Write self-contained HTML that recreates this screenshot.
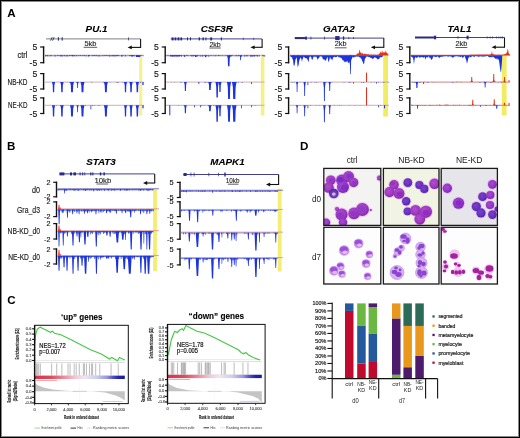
<!DOCTYPE html>
<html><head><meta charset="utf-8"><style>
html,body{margin:0;padding:0;background:#fff;}
svg{display:block;will-change:transform;}
text{font-family:"Liberation Sans", sans-serif;}
</style></head><body>
<svg width="520" height="438" viewBox="0 0 520 438" font-family="Liberation Sans, sans-serif">
<rect x="0" y="0" width="520" height="438" fill="#fff"/>
<text x="7.3" y="17.2" font-size="11.6" text-anchor="start" font-weight="bold" font-style="normal" fill="#000" >A</text>
<text x="96.5" y="31.8" font-size="9.8" text-anchor="middle" font-weight="bold" font-style="italic" fill="#000" stroke="#000" stroke-width="0.1" >PU.1</text>
<text x="216.8" y="31.8" font-size="9.8" text-anchor="middle" font-weight="bold" font-style="italic" fill="#000" stroke="#000" stroke-width="0.1" >CSF3R</text>
<text x="338.8" y="31.8" font-size="9.8" text-anchor="middle" font-weight="bold" font-style="italic" fill="#000" stroke="#000" stroke-width="0.1" >GATA2</text>
<text x="459.5" y="31.8" font-size="9.8" text-anchor="middle" font-weight="bold" font-style="italic" fill="#000" stroke="#000" stroke-width="0.1" >TAL1</text>
<text x="27.5" y="58.2" font-size="8.6" text-anchor="end" font-weight="normal" font-style="normal" fill="#1a1a1a" stroke="#1a1a1a" stroke-width="0.15" textLength="10" lengthAdjust="spacingAndGlyphs" >ctrl</text>
<text x="27.5" y="85.1" font-size="8.6" text-anchor="end" font-weight="normal" font-style="normal" fill="#1a1a1a" stroke="#1a1a1a" stroke-width="0.15" textLength="20" lengthAdjust="spacingAndGlyphs" >NB-KD</text>
<text x="27.5" y="108.3" font-size="8.6" text-anchor="end" font-weight="normal" font-style="normal" fill="#1a1a1a" stroke="#1a1a1a" stroke-width="0.15" textLength="19.5" lengthAdjust="spacingAndGlyphs" >NE-KD</text>
<line x1="43.60" y1="46.40" x2="43.60" y2="63.30" stroke="#111" stroke-width="1.4" />
<line x1="40.10" y1="47.00" x2="44.20" y2="47.00" stroke="#111" stroke-width="1.2" />
<line x1="40.10" y1="62.70" x2="44.20" y2="62.70" stroke="#111" stroke-width="1.2" />
<text x="37.2" y="50.096" font-size="8.6" text-anchor="end" font-weight="normal" font-style="normal" fill="#1a1a1a" stroke="#1a1a1a" stroke-width="0.15" >5</text>
<text x="37.2" y="65.796" font-size="8.6" text-anchor="end" font-weight="normal" font-style="normal" fill="#1a1a1a" stroke="#1a1a1a" stroke-width="0.15" >-5</text>
<line x1="43.60" y1="73.00" x2="43.60" y2="89.60" stroke="#111" stroke-width="1.4" />
<line x1="40.10" y1="73.60" x2="44.20" y2="73.60" stroke="#111" stroke-width="1.2" />
<line x1="40.10" y1="89.00" x2="44.20" y2="89.00" stroke="#111" stroke-width="1.2" />
<text x="37.2" y="76.696" font-size="8.6" text-anchor="end" font-weight="normal" font-style="normal" fill="#1a1a1a" stroke="#1a1a1a" stroke-width="0.15" >5</text>
<text x="37.2" y="92.096" font-size="8.6" text-anchor="end" font-weight="normal" font-style="normal" fill="#1a1a1a" stroke="#1a1a1a" stroke-width="0.15" >-5</text>
<line x1="43.60" y1="97.30" x2="43.60" y2="114.10" stroke="#111" stroke-width="1.4" />
<line x1="40.10" y1="97.90" x2="44.20" y2="97.90" stroke="#111" stroke-width="1.2" />
<line x1="40.10" y1="113.50" x2="44.20" y2="113.50" stroke="#111" stroke-width="1.2" />
<text x="37.2" y="100.99600000000001" font-size="8.6" text-anchor="end" font-weight="normal" font-style="normal" fill="#1a1a1a" stroke="#1a1a1a" stroke-width="0.15" >5</text>
<text x="37.2" y="116.596" font-size="8.6" text-anchor="end" font-weight="normal" font-style="normal" fill="#1a1a1a" stroke="#1a1a1a" stroke-width="0.15" >-5</text>
<line x1="165.20" y1="46.40" x2="165.20" y2="63.30" stroke="#111" stroke-width="1.4" />
<line x1="161.70" y1="47.00" x2="165.80" y2="47.00" stroke="#111" stroke-width="1.2" />
<line x1="161.70" y1="62.70" x2="165.80" y2="62.70" stroke="#111" stroke-width="1.2" />
<text x="158.79999999999998" y="50.096" font-size="8.6" text-anchor="end" font-weight="normal" font-style="normal" fill="#1a1a1a" stroke="#1a1a1a" stroke-width="0.15" >5</text>
<text x="158.79999999999998" y="65.796" font-size="8.6" text-anchor="end" font-weight="normal" font-style="normal" fill="#1a1a1a" stroke="#1a1a1a" stroke-width="0.15" >-5</text>
<line x1="165.20" y1="73.00" x2="165.20" y2="89.60" stroke="#111" stroke-width="1.4" />
<line x1="161.70" y1="73.60" x2="165.80" y2="73.60" stroke="#111" stroke-width="1.2" />
<line x1="161.70" y1="89.00" x2="165.80" y2="89.00" stroke="#111" stroke-width="1.2" />
<text x="158.79999999999998" y="76.696" font-size="8.6" text-anchor="end" font-weight="normal" font-style="normal" fill="#1a1a1a" stroke="#1a1a1a" stroke-width="0.15" >5</text>
<text x="158.79999999999998" y="92.096" font-size="8.6" text-anchor="end" font-weight="normal" font-style="normal" fill="#1a1a1a" stroke="#1a1a1a" stroke-width="0.15" >-5</text>
<line x1="165.20" y1="97.30" x2="165.20" y2="114.10" stroke="#111" stroke-width="1.4" />
<line x1="161.70" y1="97.90" x2="165.80" y2="97.90" stroke="#111" stroke-width="1.2" />
<line x1="161.70" y1="113.50" x2="165.80" y2="113.50" stroke="#111" stroke-width="1.2" />
<text x="158.79999999999998" y="100.99600000000001" font-size="8.6" text-anchor="end" font-weight="normal" font-style="normal" fill="#1a1a1a" stroke="#1a1a1a" stroke-width="0.15" >5</text>
<text x="158.79999999999998" y="116.596" font-size="8.6" text-anchor="end" font-weight="normal" font-style="normal" fill="#1a1a1a" stroke="#1a1a1a" stroke-width="0.15" >-5</text>
<line x1="288.60" y1="46.40" x2="288.60" y2="63.30" stroke="#111" stroke-width="1.4" />
<line x1="285.10" y1="47.00" x2="289.20" y2="47.00" stroke="#111" stroke-width="1.2" />
<line x1="285.10" y1="62.70" x2="289.20" y2="62.70" stroke="#111" stroke-width="1.2" />
<text x="282.20000000000005" y="50.096" font-size="8.6" text-anchor="end" font-weight="normal" font-style="normal" fill="#1a1a1a" stroke="#1a1a1a" stroke-width="0.15" >5</text>
<text x="282.20000000000005" y="65.796" font-size="8.6" text-anchor="end" font-weight="normal" font-style="normal" fill="#1a1a1a" stroke="#1a1a1a" stroke-width="0.15" >-5</text>
<line x1="288.60" y1="73.00" x2="288.60" y2="89.60" stroke="#111" stroke-width="1.4" />
<line x1="285.10" y1="73.60" x2="289.20" y2="73.60" stroke="#111" stroke-width="1.2" />
<line x1="285.10" y1="89.00" x2="289.20" y2="89.00" stroke="#111" stroke-width="1.2" />
<text x="282.20000000000005" y="76.696" font-size="8.6" text-anchor="end" font-weight="normal" font-style="normal" fill="#1a1a1a" stroke="#1a1a1a" stroke-width="0.15" >5</text>
<text x="282.20000000000005" y="92.096" font-size="8.6" text-anchor="end" font-weight="normal" font-style="normal" fill="#1a1a1a" stroke="#1a1a1a" stroke-width="0.15" >-5</text>
<line x1="288.60" y1="97.30" x2="288.60" y2="114.10" stroke="#111" stroke-width="1.4" />
<line x1="285.10" y1="97.90" x2="289.20" y2="97.90" stroke="#111" stroke-width="1.2" />
<line x1="285.10" y1="113.50" x2="289.20" y2="113.50" stroke="#111" stroke-width="1.2" />
<text x="282.20000000000005" y="100.99600000000001" font-size="8.6" text-anchor="end" font-weight="normal" font-style="normal" fill="#1a1a1a" stroke="#1a1a1a" stroke-width="0.15" >5</text>
<text x="282.20000000000005" y="116.596" font-size="8.6" text-anchor="end" font-weight="normal" font-style="normal" fill="#1a1a1a" stroke="#1a1a1a" stroke-width="0.15" >-5</text>
<line x1="409.80" y1="46.40" x2="409.80" y2="63.30" stroke="#111" stroke-width="1.4" />
<line x1="406.30" y1="47.00" x2="410.40" y2="47.00" stroke="#111" stroke-width="1.2" />
<line x1="406.30" y1="62.70" x2="410.40" y2="62.70" stroke="#111" stroke-width="1.2" />
<text x="403.40000000000003" y="50.096" font-size="8.6" text-anchor="end" font-weight="normal" font-style="normal" fill="#1a1a1a" stroke="#1a1a1a" stroke-width="0.15" >5</text>
<text x="403.40000000000003" y="65.796" font-size="8.6" text-anchor="end" font-weight="normal" font-style="normal" fill="#1a1a1a" stroke="#1a1a1a" stroke-width="0.15" >-5</text>
<line x1="409.80" y1="73.00" x2="409.80" y2="89.60" stroke="#111" stroke-width="1.4" />
<line x1="406.30" y1="73.60" x2="410.40" y2="73.60" stroke="#111" stroke-width="1.2" />
<line x1="406.30" y1="89.00" x2="410.40" y2="89.00" stroke="#111" stroke-width="1.2" />
<text x="403.40000000000003" y="76.696" font-size="8.6" text-anchor="end" font-weight="normal" font-style="normal" fill="#1a1a1a" stroke="#1a1a1a" stroke-width="0.15" >5</text>
<text x="403.40000000000003" y="92.096" font-size="8.6" text-anchor="end" font-weight="normal" font-style="normal" fill="#1a1a1a" stroke="#1a1a1a" stroke-width="0.15" >-5</text>
<line x1="409.80" y1="97.30" x2="409.80" y2="114.10" stroke="#111" stroke-width="1.4" />
<line x1="406.30" y1="97.90" x2="410.40" y2="97.90" stroke="#111" stroke-width="1.2" />
<line x1="406.30" y1="113.50" x2="410.40" y2="113.50" stroke="#111" stroke-width="1.2" />
<text x="403.40000000000003" y="100.99600000000001" font-size="8.6" text-anchor="end" font-weight="normal" font-style="normal" fill="#1a1a1a" stroke="#1a1a1a" stroke-width="0.15" >5</text>
<text x="403.40000000000003" y="116.596" font-size="8.6" text-anchor="end" font-weight="normal" font-style="normal" fill="#1a1a1a" stroke="#1a1a1a" stroke-width="0.15" >-5</text>
<rect x="139.20" y="55.00" width="3.10" height="60.50" fill="#f6f292" />
<rect x="260.80" y="55.00" width="3.60" height="60.50" fill="#f4f08a" />
<rect x="383.20" y="55.00" width="4.80" height="61.50" fill="#f2ec62" />
<rect x="501.80" y="55.00" width="4.80" height="60.50" fill="#f2ec62" />
<line x1="46.00" y1="38.90" x2="140.60" y2="38.90" stroke="#70707e" stroke-width="0.9" />
<rect x="57.90" y="37.20" width="1.00" height="3.40" fill="#22226a" />
<rect x="61.70" y="37.20" width="1.00" height="3.40" fill="#22226a" />
<rect x="128.20" y="37.40" width="0.70" height="3.00" fill="#22226a" />
<line x1="140.60" y1="38.90" x2="140.60" y2="47.40" stroke="#111" stroke-width="1.1" />
<line x1="141.10" y1="47.40" x2="130.60" y2="47.40" stroke="#111" stroke-width="1.1" />
<polygon points="127.60,47.40 131.80,45.50 131.80,49.30" fill="#111"/>
<text x="90.4" y="45.9" font-size="7.2" text-anchor="middle" font-weight="normal" font-style="normal" fill="#222" stroke="#222" stroke-width="0.12" textLength="12.0" lengthAdjust="spacingAndGlyphs" >5kb</text>
<line x1="83.60" y1="47.30" x2="97.20" y2="47.30" stroke="#333" stroke-width="0.8" />
<path d="M50.6,40.6 L52.2,37.2 M52.6,40.6 L54.2,37.2" stroke="#22226a" stroke-width="0.9"/>
<line x1="170.80" y1="38.90" x2="262.10" y2="38.90" stroke="#2a2a88" stroke-width="0.9" />
<rect x="171.60" y="37.40" width="2.00" height="3.00" fill="#2a2a88" />
<rect x="174.60" y="37.40" width="1.70" height="3.00" fill="#2a2a88" />
<rect x="177.50" y="37.40" width="1.90" height="3.00" fill="#2a2a88" />
<rect x="180.40" y="37.40" width="1.70" height="3.00" fill="#2a2a88" />
<rect x="187.00" y="37.40" width="1.00" height="3.00" fill="#2a2a88" />
<rect x="190.00" y="37.40" width="1.00" height="3.00" fill="#2a2a88" />
<rect x="198.70" y="37.40" width="1.30" height="3.00" fill="#2a2a88" />
<rect x="202.50" y="37.40" width="1.30" height="3.00" fill="#2a2a88" />
<rect x="205.40" y="37.40" width="1.00" height="3.00" fill="#2a2a88" />
<rect x="210.20" y="37.40" width="1.90" height="3.00" fill="#2a2a88" />
<rect x="220.80" y="37.40" width="1.10" height="3.00" fill="#2a2a88" />
<rect x="242.90" y="37.65" width="0.60" height="2.50" fill="#2a2a88" />
<rect x="253.50" y="37.65" width="0.60" height="2.50" fill="#2a2a88" />
<line x1="262.10" y1="38.90" x2="262.10" y2="47.30" stroke="#111" stroke-width="1.1" />
<line x1="262.60" y1="47.30" x2="253.40" y2="47.30" stroke="#111" stroke-width="1.1" />
<polygon points="250.40,47.30 254.60,45.40 254.60,49.20" fill="#111"/>
<text x="215.10000000000002" y="46.6" font-size="7.2" text-anchor="middle" font-weight="normal" font-style="normal" fill="#222" stroke="#222" stroke-width="0.12" textLength="11.400000000000006" lengthAdjust="spacingAndGlyphs" >2kb</text>
<line x1="209.40" y1="48.00" x2="220.80" y2="48.00" stroke="#333" stroke-width="0.8" />
<line x1="294.80" y1="38.10" x2="383.80" y2="38.10" stroke="#2a2a88" stroke-width="0.9" />
<line x1="294.80" y1="38.10" x2="305.40" y2="38.10" stroke="#2a2a88" stroke-width="2.0" />
<rect x="305.20" y="36.50" width="1.70" height="3.20" fill="#2a2a88" />
<rect x="310.60" y="36.60" width="0.70" height="3.00" fill="#2a2a88" />
<rect x="324.00" y="36.60" width="0.70" height="3.00" fill="#2a2a88" />
<rect x="335.20" y="36.10" width="4.40" height="4.00" fill="#2a2a88" />
<rect x="342.90" y="36.35" width="1.30" height="3.50" fill="#2a2a88" />
<rect x="348.50" y="37.10" width="0.70" height="2.00" fill="#2a2a88" />
<rect x="353.00" y="37.10" width="0.70" height="2.00" fill="#2a2a88" />
<line x1="383.80" y1="38.10" x2="383.80" y2="47.30" stroke="#111" stroke-width="1.1" />
<line x1="384.30" y1="47.30" x2="373.80" y2="47.30" stroke="#111" stroke-width="1.1" />
<polygon points="370.80,47.30 375.00,45.40 375.00,49.20" fill="#111"/>
<text x="340.70000000000005" y="46.4" font-size="7.2" text-anchor="middle" font-weight="normal" font-style="normal" fill="#222" stroke="#222" stroke-width="0.12" textLength="11.800000000000011" lengthAdjust="spacingAndGlyphs" >2kb</text>
<line x1="334.80" y1="47.80" x2="346.60" y2="47.80" stroke="#333" stroke-width="0.8" />
<line x1="415.00" y1="37.50" x2="504.50" y2="37.50" stroke="#2a2a88" stroke-width="0.9" />
<line x1="415.00" y1="37.50" x2="434.20" y2="37.50" stroke="#2a2a88" stroke-width="2.0" />
<rect x="434.00" y="35.70" width="2.20" height="3.60" fill="#2a2a88" />
<rect x="457.70" y="36.00" width="0.60" height="3.00" fill="#2a2a88" />
<rect x="466.60" y="35.70" width="2.00" height="3.60" fill="#2a2a88" />
<rect x="486.80" y="36.50" width="0.70" height="2.00" fill="#2a2a88" />
<rect x="489.80" y="36.50" width="0.70" height="2.00" fill="#2a2a88" />
<rect x="492.40" y="36.50" width="0.70" height="2.00" fill="#2a2a88" />
<rect x="496.40" y="36.50" width="0.70" height="2.00" fill="#2a2a88" />
<rect x="498.50" y="36.50" width="0.70" height="2.00" fill="#2a2a88" />
<rect x="500.60" y="36.50" width="0.70" height="2.00" fill="#2a2a88" />
<rect x="502.30" y="36.50" width="0.70" height="2.00" fill="#2a2a88" />
<line x1="504.50" y1="37.50" x2="504.50" y2="47.20" stroke="#111" stroke-width="1.1" />
<line x1="505.00" y1="47.20" x2="494.60" y2="47.20" stroke="#111" stroke-width="1.1" />
<polygon points="491.60,47.20 495.80,45.30 495.80,49.10" fill="#111"/>
<text x="461.4" y="46.1" font-size="7.2" text-anchor="middle" font-weight="normal" font-style="normal" fill="#222" stroke="#222" stroke-width="0.12" textLength="11.800000000000011" lengthAdjust="spacingAndGlyphs" >2kb</text>
<line x1="455.50" y1="47.50" x2="467.30" y2="47.50" stroke="#333" stroke-width="0.8" />
<rect x="45.00" y="55.20" width="95.00" height="1.00" fill="#1d33dc" opacity="0.8"/>
<line x1="45.00" y1="55.20" x2="143.50" y2="55.20" stroke="#c9a6a6" stroke-width="0.9" />
<rect x="45.00" y="55.20" width="0.80" height="1.19" fill="#1d33dc" />
<rect x="45.80" y="55.20" width="0.80" height="0.36" fill="#1d33dc" />
<rect x="46.60" y="55.20" width="0.80" height="0.63" fill="#1d33dc" />
<rect x="47.40" y="55.20" width="0.80" height="1.10" fill="#1d33dc" />
<rect x="49.80" y="55.20" width="0.80" height="1.07" fill="#1d33dc" />
<rect x="50.60" y="55.20" width="0.80" height="0.62" fill="#1d33dc" />
<rect x="51.40" y="55.20" width="0.80" height="0.32" fill="#1d33dc" />
<rect x="54.60" y="55.20" width="0.80" height="1.31" fill="#1d33dc" />
<rect x="55.40" y="55.20" width="0.80" height="0.30" fill="#1d33dc" />
<rect x="57.00" y="55.20" width="0.80" height="0.61" fill="#1d33dc" />
<rect x="57.80" y="55.20" width="0.80" height="0.33" fill="#1d33dc" />
<rect x="58.60" y="55.20" width="0.80" height="0.31" fill="#1d33dc" />
<rect x="59.40" y="55.20" width="0.80" height="0.41" fill="#1d33dc" />
<rect x="60.20" y="55.20" width="0.80" height="1.17" fill="#1d33dc" />
<rect x="61.00" y="55.20" width="0.80" height="0.90" fill="#1d33dc" />
<rect x="61.80" y="55.20" width="0.80" height="1.39" fill="#1d33dc" />
<rect x="63.40" y="55.20" width="0.80" height="0.47" fill="#1d33dc" />
<rect x="64.20" y="55.20" width="0.80" height="1.00" fill="#1d33dc" />
<rect x="65.80" y="55.20" width="0.80" height="1.16" fill="#1d33dc" />
<rect x="66.60" y="55.20" width="0.80" height="0.42" fill="#1d33dc" />
<rect x="67.40" y="55.20" width="0.80" height="1.24" fill="#1d33dc" />
<rect x="69.00" y="55.20" width="0.80" height="0.82" fill="#1d33dc" />
<rect x="69.80" y="55.20" width="0.80" height="0.34" fill="#1d33dc" />
<rect x="70.60" y="55.20" width="0.80" height="0.58" fill="#1d33dc" />
<rect x="71.40" y="55.20" width="0.80" height="0.77" fill="#1d33dc" />
<rect x="72.20" y="55.20" width="0.80" height="0.94" fill="#1d33dc" />
<rect x="73.00" y="55.20" width="0.80" height="0.61" fill="#1d33dc" />
<rect x="73.80" y="55.20" width="0.80" height="1.09" fill="#1d33dc" />
<rect x="74.60" y="55.20" width="0.80" height="0.55" fill="#1d33dc" />
<rect x="76.20" y="55.20" width="0.80" height="0.98" fill="#1d33dc" />
<rect x="77.80" y="55.20" width="0.80" height="0.55" fill="#1d33dc" />
<rect x="78.60" y="55.20" width="0.80" height="0.70" fill="#1d33dc" />
<rect x="80.20" y="55.20" width="0.80" height="0.76" fill="#1d33dc" />
<rect x="81.80" y="55.20" width="0.80" height="0.72" fill="#1d33dc" />
<rect x="83.40" y="55.20" width="0.80" height="0.64" fill="#1d33dc" />
<rect x="84.20" y="55.20" width="0.80" height="0.77" fill="#1d33dc" />
<rect x="85.80" y="55.20" width="0.80" height="1.10" fill="#1d33dc" />
<rect x="88.20" y="55.20" width="0.80" height="1.13" fill="#1d33dc" />
<rect x="89.00" y="55.20" width="0.80" height="0.79" fill="#1d33dc" />
<rect x="91.40" y="55.20" width="0.80" height="0.28" fill="#1d33dc" />
<rect x="92.20" y="55.20" width="0.80" height="0.68" fill="#1d33dc" />
<rect x="93.00" y="55.20" width="0.80" height="0.48" fill="#1d33dc" />
<rect x="93.80" y="55.20" width="0.80" height="0.87" fill="#1d33dc" />
<rect x="94.60" y="55.20" width="0.80" height="0.64" fill="#1d33dc" />
<rect x="95.40" y="55.20" width="0.80" height="0.32" fill="#1d33dc" />
<rect x="96.20" y="55.20" width="0.80" height="0.82" fill="#1d33dc" />
<rect x="97.80" y="55.20" width="0.80" height="1.12" fill="#1d33dc" />
<rect x="99.40" y="55.20" width="0.80" height="1.18" fill="#1d33dc" />
<rect x="101.80" y="55.20" width="0.80" height="0.35" fill="#1d33dc" />
<rect x="102.60" y="55.20" width="0.80" height="0.87" fill="#1d33dc" />
<rect x="104.20" y="55.20" width="0.80" height="0.74" fill="#1d33dc" />
<rect x="105.00" y="55.20" width="0.80" height="0.38" fill="#1d33dc" />
<rect x="105.80" y="55.20" width="0.80" height="0.64" fill="#1d33dc" />
<rect x="106.60" y="55.20" width="0.80" height="0.66" fill="#1d33dc" />
<rect x="107.40" y="55.20" width="0.80" height="0.54" fill="#1d33dc" />
<rect x="108.20" y="55.20" width="0.80" height="0.26" fill="#1d33dc" />
<rect x="109.00" y="55.20" width="0.80" height="1.26" fill="#1d33dc" />
<rect x="109.80" y="55.20" width="0.80" height="0.29" fill="#1d33dc" />
<rect x="110.60" y="55.20" width="0.80" height="1.14" fill="#1d33dc" />
<rect x="112.20" y="55.20" width="0.80" height="1.01" fill="#1d33dc" />
<rect x="113.00" y="55.20" width="0.80" height="0.99" fill="#1d33dc" />
<rect x="113.80" y="55.20" width="0.80" height="0.76" fill="#1d33dc" />
<rect x="114.60" y="55.20" width="0.80" height="1.37" fill="#1d33dc" />
<rect x="115.40" y="55.20" width="0.80" height="0.72" fill="#1d33dc" />
<rect x="116.20" y="55.20" width="0.80" height="0.91" fill="#1d33dc" />
<rect x="117.00" y="55.20" width="0.80" height="0.81" fill="#1d33dc" />
<rect x="117.80" y="55.20" width="0.80" height="0.88" fill="#1d33dc" />
<rect x="118.60" y="55.20" width="0.80" height="0.42" fill="#1d33dc" />
<rect x="121.00" y="55.20" width="0.80" height="1.20" fill="#1d33dc" />
<rect x="121.80" y="55.20" width="0.80" height="1.32" fill="#1d33dc" />
<rect x="122.60" y="55.20" width="0.80" height="0.58" fill="#1d33dc" />
<rect x="125.00" y="55.20" width="0.80" height="1.15" fill="#1d33dc" />
<rect x="129.00" y="55.20" width="0.80" height="0.71" fill="#1d33dc" />
<rect x="129.80" y="55.20" width="0.80" height="0.49" fill="#1d33dc" />
<rect x="130.60" y="55.20" width="0.80" height="0.94" fill="#1d33dc" />
<rect x="131.40" y="55.20" width="0.80" height="0.27" fill="#1d33dc" />
<rect x="132.20" y="55.20" width="0.80" height="0.93" fill="#1d33dc" />
<rect x="133.00" y="55.20" width="0.80" height="0.70" fill="#1d33dc" />
<rect x="133.80" y="55.20" width="0.80" height="1.22" fill="#1d33dc" />
<rect x="135.40" y="55.20" width="0.80" height="0.28" fill="#1d33dc" />
<rect x="136.20" y="55.20" width="0.80" height="1.38" fill="#1d33dc" />
<rect x="137.00" y="55.20" width="0.80" height="0.47" fill="#1d33dc" />
<rect x="137.80" y="55.20" width="0.80" height="0.94" fill="#1d33dc" />
<rect x="140.20" y="55.20" width="0.80" height="1.24" fill="#1d33dc" />
<rect x="141.00" y="55.20" width="0.80" height="0.68" fill="#1d33dc" />
<rect x="142.60" y="55.20" width="0.80" height="1.02" fill="#1d33dc" />
<rect x="136.00" y="55.20" width="4.00" height="1.80" fill="#1d33dc" />
<rect x="131.00" y="55.20" width="2.00" height="1.20" fill="#1d33dc" />
<rect x="88.00" y="55.20" width="1.00" height="1.00" fill="#1d33dc" />
<rect x="72.00" y="55.20" width="1.00" height="1.00" fill="#1d33dc" />
<line x1="45.00" y1="82.10" x2="143.50" y2="82.10" stroke="#c9a6a6" stroke-width="0.9" />
<rect x="53.00" y="82.10" width="0.80" height="0.26" fill="#1d33dc" />
<rect x="66.60" y="82.10" width="0.80" height="0.31" fill="#1d33dc" />
<rect x="69.00" y="82.10" width="0.80" height="0.54" fill="#1d33dc" />
<rect x="76.20" y="82.10" width="0.80" height="0.45" fill="#1d33dc" />
<rect x="91.40" y="82.10" width="0.80" height="0.54" fill="#1d33dc" />
<rect x="103.40" y="82.10" width="0.80" height="0.49" fill="#1d33dc" />
<rect x="105.80" y="82.10" width="0.80" height="0.45" fill="#1d33dc" />
<rect x="106.60" y="82.10" width="0.80" height="0.39" fill="#1d33dc" />
<rect x="109.80" y="82.10" width="0.80" height="0.31" fill="#1d33dc" />
<rect x="116.20" y="82.10" width="0.80" height="0.40" fill="#1d33dc" />
<rect x="117.00" y="82.10" width="0.80" height="0.57" fill="#1d33dc" />
<rect x="117.80" y="82.10" width="0.80" height="0.44" fill="#1d33dc" />
<rect x="122.60" y="82.10" width="0.80" height="0.59" fill="#1d33dc" />
<rect x="127.40" y="82.10" width="0.80" height="0.27" fill="#1d33dc" />
<rect x="136.20" y="82.10" width="0.80" height="0.27" fill="#1d33dc" />
<rect x="137.80" y="82.10" width="0.80" height="0.35" fill="#1d33dc" />
<rect x="140.20" y="82.10" width="0.80" height="0.58" fill="#1d33dc" />
<rect x="143.40" y="82.10" width="0.80" height="0.33" fill="#1d33dc" />
<polygon points="52.00,82.10 55.10,82.10 54.39,85.16 54.18,92.30 52.92,92.30 52.71,85.16" fill="#1d33dc"/>
<polygon points="60.30,82.10 63.60,82.10 62.87,85.16 62.64,92.30 61.26,92.30 61.03,85.16" fill="#1d33dc"/>
<polygon points="70.00,82.10 74.00,82.10 73.20,85.16 72.90,92.30 71.10,92.30 70.80,85.16" fill="#1d33dc"/>
<polygon points="76.50,82.10 78.70,82.10 78.08,83.90 77.96,88.10 77.24,88.10 77.12,83.90" fill="#1d33dc"/>
<polygon points="80.50,82.10 84.50,82.10 83.70,85.16 83.40,92.30 81.60,92.30 81.30,85.16" fill="#1d33dc"/>
<polygon points="103.90,82.10 107.90,82.10 107.10,85.16 106.80,92.30 105.00,92.30 104.70,85.16" fill="#1d33dc"/>
<polygon points="124.00,82.10 127.00,82.10 126.30,85.16 126.10,92.30 124.90,92.30 124.70,85.16" fill="#1d33dc"/>
<polygon points="129.40,82.10 132.70,82.10 131.97,85.16 131.74,92.30 130.36,92.30 130.13,85.16" fill="#1d33dc"/>
<polygon points="135.70,82.10 139.00,82.10 138.27,85.16 138.04,92.30 136.66,92.30 136.43,85.16" fill="#1d33dc"/>
<rect x="142.40" y="82.10" width="1.20" height="3.00" fill="#1d33dc" />
<line x1="45.00" y1="105.30" x2="143.50" y2="105.30" stroke="#c9a6a6" stroke-width="0.9" />
<rect x="56.20" y="105.30" width="0.80" height="0.38" fill="#1d33dc" />
<rect x="60.20" y="105.30" width="0.80" height="0.45" fill="#1d33dc" />
<rect x="62.60" y="105.30" width="0.80" height="0.52" fill="#1d33dc" />
<rect x="85.00" y="105.30" width="0.80" height="0.52" fill="#1d33dc" />
<rect x="92.20" y="105.30" width="0.80" height="0.51" fill="#1d33dc" />
<rect x="93.80" y="105.30" width="0.80" height="0.48" fill="#1d33dc" />
<rect x="97.80" y="105.30" width="0.80" height="0.37" fill="#1d33dc" />
<rect x="98.60" y="105.30" width="0.80" height="0.43" fill="#1d33dc" />
<rect x="104.20" y="105.30" width="0.80" height="0.36" fill="#1d33dc" />
<rect x="125.80" y="105.30" width="0.80" height="0.37" fill="#1d33dc" />
<rect x="127.40" y="105.30" width="0.80" height="0.38" fill="#1d33dc" />
<rect x="143.40" y="105.30" width="0.80" height="0.34" fill="#1d33dc" />
<polygon points="52.00,105.30 55.10,105.30 54.39,108.69 54.18,116.60 52.92,116.60 52.71,108.69" fill="#1d33dc"/>
<polygon points="60.30,105.30 63.60,105.30 62.87,108.69 62.64,116.60 61.26,116.60 61.03,108.69" fill="#1d33dc"/>
<polygon points="70.00,105.30 74.00,105.30 73.20,108.69 72.90,116.60 71.10,116.60 70.80,108.69" fill="#1d33dc"/>
<polygon points="76.50,105.30 78.70,105.30 78.08,107.40 77.96,112.30 77.24,112.30 77.12,107.40" fill="#1d33dc"/>
<polygon points="80.50,105.30 84.50,105.30 83.70,108.69 83.40,116.60 81.60,116.60 81.30,108.69" fill="#1d33dc"/>
<polygon points="103.90,105.30 107.90,105.30 107.10,108.69 106.80,116.60 105.00,116.60 104.70,108.69" fill="#1d33dc"/>
<polygon points="124.00,105.30 127.00,105.30 126.30,108.69 126.10,116.60 124.90,116.60 124.70,108.69" fill="#1d33dc"/>
<polygon points="129.40,105.30 132.70,105.30 131.97,108.69 131.74,116.60 130.36,116.60 130.13,108.69" fill="#1d33dc"/>
<polygon points="135.70,105.30 139.00,105.30 138.27,108.69 138.04,116.60 136.66,116.60 136.43,108.69" fill="#1d33dc"/>
<rect x="90.50" y="105.30" width="0.80" height="4.00" fill="#1d33dc" />
<rect x="142.40" y="105.30" width="1.20" height="3.00" fill="#1d33dc" />
<rect x="166.00" y="55.20" width="94.00" height="1.00" fill="#1d33dc" opacity="0.8"/>
<line x1="166.00" y1="55.20" x2="264.50" y2="55.20" stroke="#c9a6a6" stroke-width="0.9" />
<rect x="167.60" y="55.20" width="0.80" height="0.60" fill="#1d33dc" />
<rect x="170.00" y="55.20" width="0.80" height="0.33" fill="#1d33dc" />
<rect x="170.80" y="55.20" width="0.80" height="0.42" fill="#1d33dc" />
<rect x="172.40" y="55.20" width="0.80" height="1.39" fill="#1d33dc" />
<rect x="175.60" y="55.20" width="0.80" height="0.46" fill="#1d33dc" />
<rect x="176.40" y="55.20" width="0.80" height="1.10" fill="#1d33dc" />
<rect x="178.80" y="55.20" width="0.80" height="0.91" fill="#1d33dc" />
<rect x="179.60" y="55.20" width="0.80" height="0.76" fill="#1d33dc" />
<rect x="180.40" y="55.20" width="0.80" height="0.71" fill="#1d33dc" />
<rect x="181.20" y="55.20" width="0.80" height="1.40" fill="#1d33dc" />
<rect x="182.80" y="55.20" width="0.80" height="0.45" fill="#1d33dc" />
<rect x="184.40" y="55.20" width="0.80" height="1.32" fill="#1d33dc" />
<rect x="186.00" y="55.20" width="0.80" height="0.62" fill="#1d33dc" />
<rect x="186.80" y="55.20" width="0.80" height="0.65" fill="#1d33dc" />
<rect x="187.60" y="55.20" width="0.80" height="0.46" fill="#1d33dc" />
<rect x="190.00" y="55.20" width="0.80" height="0.42" fill="#1d33dc" />
<rect x="190.80" y="55.20" width="0.80" height="0.71" fill="#1d33dc" />
<rect x="191.60" y="55.20" width="0.80" height="1.50" fill="#1d33dc" />
<rect x="192.40" y="55.20" width="0.80" height="0.62" fill="#1d33dc" />
<rect x="193.20" y="55.20" width="0.80" height="0.95" fill="#1d33dc" />
<rect x="194.00" y="55.20" width="0.80" height="0.53" fill="#1d33dc" />
<rect x="194.80" y="55.20" width="0.80" height="0.48" fill="#1d33dc" />
<rect x="195.60" y="55.20" width="0.80" height="1.36" fill="#1d33dc" />
<rect x="197.20" y="55.20" width="0.80" height="1.15" fill="#1d33dc" />
<rect x="198.00" y="55.20" width="0.80" height="0.36" fill="#1d33dc" />
<rect x="198.80" y="55.20" width="0.80" height="0.27" fill="#1d33dc" />
<rect x="200.40" y="55.20" width="0.80" height="1.34" fill="#1d33dc" />
<rect x="202.00" y="55.20" width="0.80" height="1.44" fill="#1d33dc" />
<rect x="202.80" y="55.20" width="0.80" height="0.43" fill="#1d33dc" />
<rect x="204.40" y="55.20" width="0.80" height="0.62" fill="#1d33dc" />
<rect x="206.00" y="55.20" width="0.80" height="1.23" fill="#1d33dc" />
<rect x="206.80" y="55.20" width="0.80" height="0.29" fill="#1d33dc" />
<rect x="208.40" y="55.20" width="0.80" height="1.44" fill="#1d33dc" />
<rect x="210.00" y="55.20" width="0.80" height="0.25" fill="#1d33dc" />
<rect x="210.80" y="55.20" width="0.80" height="0.54" fill="#1d33dc" />
<rect x="213.20" y="55.20" width="0.80" height="0.31" fill="#1d33dc" />
<rect x="214.80" y="55.20" width="0.80" height="1.02" fill="#1d33dc" />
<rect x="216.40" y="55.20" width="0.80" height="0.37" fill="#1d33dc" />
<rect x="218.00" y="55.20" width="0.80" height="0.79" fill="#1d33dc" />
<rect x="218.80" y="55.20" width="0.80" height="0.61" fill="#1d33dc" />
<rect x="220.40" y="55.20" width="0.80" height="0.36" fill="#1d33dc" />
<rect x="222.00" y="55.20" width="0.80" height="0.37" fill="#1d33dc" />
<rect x="225.20" y="55.20" width="0.80" height="0.36" fill="#1d33dc" />
<rect x="226.00" y="55.20" width="0.80" height="0.35" fill="#1d33dc" />
<rect x="229.20" y="55.20" width="0.80" height="1.49" fill="#1d33dc" />
<rect x="230.00" y="55.20" width="0.80" height="1.35" fill="#1d33dc" />
<rect x="230.80" y="55.20" width="0.80" height="1.19" fill="#1d33dc" />
<rect x="231.60" y="55.20" width="0.80" height="0.74" fill="#1d33dc" />
<rect x="232.40" y="55.20" width="0.80" height="0.32" fill="#1d33dc" />
<rect x="235.60" y="55.20" width="0.80" height="0.99" fill="#1d33dc" />
<rect x="236.40" y="55.20" width="0.80" height="0.96" fill="#1d33dc" />
<rect x="238.00" y="55.20" width="0.80" height="0.98" fill="#1d33dc" />
<rect x="238.80" y="55.20" width="0.80" height="0.40" fill="#1d33dc" />
<rect x="241.20" y="55.20" width="0.80" height="1.46" fill="#1d33dc" />
<rect x="244.40" y="55.20" width="0.80" height="1.45" fill="#1d33dc" />
<rect x="246.00" y="55.20" width="0.80" height="0.95" fill="#1d33dc" />
<rect x="246.80" y="55.20" width="0.80" height="1.12" fill="#1d33dc" />
<rect x="250.00" y="55.20" width="0.80" height="1.31" fill="#1d33dc" />
<rect x="250.80" y="55.20" width="0.80" height="1.21" fill="#1d33dc" />
<rect x="251.60" y="55.20" width="0.80" height="1.32" fill="#1d33dc" />
<rect x="252.40" y="55.20" width="0.80" height="1.32" fill="#1d33dc" />
<rect x="253.20" y="55.20" width="0.80" height="1.01" fill="#1d33dc" />
<rect x="254.00" y="55.20" width="0.80" height="1.34" fill="#1d33dc" />
<rect x="254.80" y="55.20" width="0.80" height="0.71" fill="#1d33dc" />
<rect x="256.40" y="55.20" width="0.80" height="0.89" fill="#1d33dc" />
<rect x="257.20" y="55.20" width="0.80" height="1.30" fill="#1d33dc" />
<rect x="258.80" y="55.20" width="0.80" height="1.15" fill="#1d33dc" />
<rect x="262.00" y="55.20" width="0.80" height="0.82" fill="#1d33dc" />
<rect x="262.80" y="55.20" width="0.80" height="1.18" fill="#1d33dc" />
<rect x="263.60" y="55.20" width="0.80" height="0.35" fill="#1d33dc" />
<rect x="264.40" y="55.20" width="0.80" height="1.45" fill="#1d33dc" />
<polygon points="227.00,55.20 230.50,55.20 229.75,58.50 229.50,66.20 228.00,66.20 227.75,58.50" fill="#1d33dc"/>
<polygon points="239.50,55.20 241.70,55.20 241.08,56.70 240.96,60.20 240.24,60.20 240.12,56.70" fill="#1d33dc"/>
<rect x="205.00" y="55.20" width="1.00" height="2.00" fill="#1d33dc" />
<rect x="184.00" y="55.20" width="1.00" height="1.50" fill="#1d33dc" />
<rect x="195.00" y="55.20" width="1.50" height="1.80" fill="#1d33dc" />
<rect x="170.00" y="55.20" width="10.00" height="1.20" fill="#1d33dc" />
<line x1="166.00" y1="82.10" x2="264.50" y2="82.10" stroke="#c9a6a6" stroke-width="0.9" />
<rect x="170.80" y="82.10" width="0.80" height="0.28" fill="#1d33dc" />
<rect x="174.00" y="82.10" width="0.80" height="0.28" fill="#1d33dc" />
<rect x="180.40" y="82.10" width="0.80" height="0.48" fill="#1d33dc" />
<rect x="181.20" y="82.10" width="0.80" height="0.37" fill="#1d33dc" />
<rect x="198.00" y="82.10" width="0.80" height="0.41" fill="#1d33dc" />
<rect x="204.40" y="82.10" width="0.80" height="0.59" fill="#1d33dc" />
<rect x="205.20" y="82.10" width="0.80" height="0.45" fill="#1d33dc" />
<rect x="206.80" y="82.10" width="0.80" height="0.47" fill="#1d33dc" />
<rect x="210.00" y="82.10" width="0.80" height="0.57" fill="#1d33dc" />
<rect x="210.80" y="82.10" width="0.80" height="0.45" fill="#1d33dc" />
<rect x="216.40" y="82.10" width="0.80" height="0.45" fill="#1d33dc" />
<rect x="218.80" y="82.10" width="0.80" height="0.57" fill="#1d33dc" />
<rect x="226.80" y="82.10" width="0.80" height="0.41" fill="#1d33dc" />
<rect x="235.60" y="82.10" width="0.80" height="0.55" fill="#1d33dc" />
<rect x="236.40" y="82.10" width="0.80" height="0.30" fill="#1d33dc" />
<rect x="238.00" y="82.10" width="0.80" height="0.44" fill="#1d33dc" />
<rect x="241.20" y="82.10" width="0.80" height="0.26" fill="#1d33dc" />
<rect x="242.00" y="82.10" width="0.80" height="0.51" fill="#1d33dc" />
<polygon points="184.00,82.10 186.80,82.10 186.12,84.80 185.94,91.10 184.86,91.10 184.68,84.80" fill="#1d33dc"/>
<rect x="198.50" y="82.10" width="0.80" height="2.00" fill="#1d33dc" />
<polygon points="208.20,82.10 211.70,82.10 210.95,84.50 210.70,90.10 209.20,90.10 208.95,84.50" fill="#1d33dc"/>
<polygon points="215.50,82.10 218.80,82.10 218.07,86.75 217.84,97.60 216.46,97.60 216.23,86.75" fill="#1d33dc"/>
<polygon points="218.50,82.10 221.50,82.10 220.80,85.10 220.60,92.10 219.40,92.10 219.20,85.10" fill="#1d33dc"/>
<polygon points="227.00,82.10 231.00,82.10 230.20,87.20 229.90,99.10 228.10,99.10 227.80,87.20" fill="#1d33dc"/>
<polygon points="232.00,82.10 236.50,82.10 235.65,87.20 235.30,99.10 233.20,99.10 232.85,87.20" fill="#1d33dc"/>
<rect x="251.00" y="82.10" width="0.80" height="2.00" fill="#1d33dc" />
<line x1="166.00" y1="105.30" x2="264.50" y2="105.30" stroke="#c9a6a6" stroke-width="0.9" />
<rect x="169.20" y="105.30" width="0.80" height="0.40" fill="#1d33dc" />
<rect x="178.00" y="105.30" width="0.80" height="0.33" fill="#1d33dc" />
<rect x="183.60" y="105.30" width="0.80" height="0.48" fill="#1d33dc" />
<rect x="201.20" y="105.30" width="0.80" height="0.53" fill="#1d33dc" />
<rect x="202.80" y="105.30" width="0.80" height="0.40" fill="#1d33dc" />
<rect x="204.40" y="105.30" width="0.80" height="0.29" fill="#1d33dc" />
<rect x="207.60" y="105.30" width="0.80" height="0.47" fill="#1d33dc" />
<rect x="213.20" y="105.30" width="0.80" height="0.60" fill="#1d33dc" />
<rect x="214.00" y="105.30" width="0.80" height="0.25" fill="#1d33dc" />
<rect x="226.80" y="105.30" width="0.80" height="0.45" fill="#1d33dc" />
<rect x="230.80" y="105.30" width="0.80" height="0.35" fill="#1d33dc" />
<rect x="252.40" y="105.30" width="0.80" height="0.27" fill="#1d33dc" />
<rect x="254.80" y="105.30" width="0.80" height="0.43" fill="#1d33dc" />
<rect x="169.30" y="105.30" width="1.00" height="10.00" fill="#1d33dc" />
<polygon points="184.00,105.30 186.80,105.30 186.12,107.70 185.94,113.30 184.86,113.30 184.68,107.70" fill="#1d33dc"/>
<rect x="194.00" y="105.30" width="0.80" height="2.00" fill="#1d33dc" />
<rect x="200.00" y="105.30" width="0.80" height="2.00" fill="#1d33dc" />
<polygon points="208.20,105.30 211.70,105.30 210.95,107.10 210.70,111.30 209.20,111.30 208.95,107.10" fill="#1d33dc"/>
<polygon points="215.50,105.30 218.80,105.30 218.07,110.25 217.84,121.80 216.46,121.80 216.23,110.25" fill="#1d33dc"/>
<polygon points="218.50,105.30 221.50,105.30 220.80,108.60 220.60,116.30 219.40,116.30 219.20,108.60" fill="#1d33dc"/>
<polygon points="227.00,105.30 231.00,105.30 230.20,110.25 229.90,121.80 228.10,121.80 227.80,110.25" fill="#1d33dc"/>
<polygon points="232.00,105.30 236.50,105.30 235.65,110.25 235.30,121.80 233.20,121.80 232.85,110.25" fill="#1d33dc"/>
<rect x="241.00" y="105.30" width="0.80" height="3.00" fill="#1d33dc" />
<rect x="251.00" y="105.30" width="0.80" height="2.00" fill="#1d33dc" />
<line x1="290.00" y1="55.20" x2="388.50" y2="55.20" stroke="#c9a6a6" stroke-width="0.9" />
<polygon points="290.00,55.20 290.00,55.20 290.50,56.77 291.00,56.83 291.50,57.15 292.00,56.99 292.50,59.34 293.00,59.66 293.50,62.11 294.00,65.17 294.50,65.19 295.00,62.73 295.50,59.40 296.00,58.49 296.50,57.35 297.00,59.79 297.50,62.44 298.00,65.73 298.50,65.24 299.00,61.74 299.50,59.66 300.00,58.81 300.50,57.45 301.00,58.10 301.50,59.59 302.00,61.92 302.50,59.11 303.00,58.55 303.50,56.61 304.00,56.99 304.50,57.24 305.00,58.03 305.50,58.02 306.00,58.61 306.50,58.13 307.00,58.53 307.50,59.87 308.00,60.85 308.50,62.60 309.00,58.98 309.50,56.41 310.00,56.91 310.50,56.58 311.00,56.38 311.50,58.44 312.00,59.79 312.50,59.70 313.00,58.13 313.50,56.95 314.00,56.27 314.50,57.00 315.00,56.54 315.50,57.35 316.00,56.05 316.50,57.58 317.00,57.67 317.50,59.78 318.00,59.39 318.50,58.17 319.00,57.82 319.50,57.20 320.00,56.05 320.50,56.34 321.00,57.24 321.50,56.59 322.00,56.15 322.50,58.35 323.00,59.25 323.50,59.19 324.00,59.65 324.50,59.35 325.00,60.64 325.50,60.69 326.00,59.88 326.50,59.04 327.00,57.69 327.50,56.82 328.00,59.63 328.50,62.31 329.00,61.33 329.50,59.22 330.00,56.82 330.50,58.26 331.00,59.17 331.50,58.62 332.00,60.53 332.50,59.51 333.00,58.03 333.50,57.01 334.00,56.95 334.50,56.76 335.00,56.82 335.50,57.37 336.00,57.35 336.50,56.97 337.00,56.72 337.50,56.25 338.00,56.13 338.50,57.45 339.00,56.76 339.50,57.78 340.00,57.35 340.50,57.44 341.00,58.53 341.50,58.11 342.00,58.43 342.50,60.59 343.00,60.02 343.50,60.45 344.00,61.72 344.50,61.18 345.00,62.73 345.50,61.47 346.00,62.11 346.50,61.90 347.00,60.50 347.50,61.49 348.00,62.82 348.50,62.68 349.00,63.08 349.50,61.17 350.00,65.78 350.50,71.00 351.00,61.08 351.50,59.24 352.00,58.49 352.50,56.54 353.00,57.86 353.50,57.21 354.00,57.25 354.50,57.32 355.00,56.35 355.50,56.97 356.00,56.66 356.50,56.43 357.00,56.26 357.50,56.99 358.00,56.28 358.50,56.42 359.00,56.98 359.50,57.32 360.00,57.60 360.50,57.45 361.00,59.06 361.50,58.41 362.00,60.61 362.50,61.47 363.00,62.58 363.50,64.12 364.00,64.18 364.50,61.28 365.00,58.33 365.50,58.42 366.00,56.89 366.50,56.26 367.00,57.32 367.50,56.52 368.00,56.22 368.50,57.32 369.00,57.04 369.50,56.98 370.00,57.47 370.50,57.72 371.00,58.06 371.50,57.64 372.00,58.98 372.50,58.81 373.00,58.41 373.50,58.43 374.00,58.17 374.50,57.22 375.00,57.31 375.50,57.70 376.00,57.76 376.50,58.61 377.00,58.29 377.50,59.43 378.00,59.51 378.50,58.90 379.00,59.03 379.50,58.47 380.00,57.01 380.50,56.92 381.00,57.80 381.50,57.19 382.00,56.73 382.50,56.85 383.00,56.00 383.20,55.20" fill="#1d33dc"/>
<polygon points="355.00,55.20 355.00,55.20 355.35,55.06 355.70,54.92 356.05,54.85 356.40,54.64 356.75,54.50 357.10,54.05 357.45,53.59 357.80,53.09 358.15,52.72 358.50,53.56 358.85,53.38 359.20,51.61 359.55,49.87 359.90,52.10 360.25,53.30 360.60,52.11 360.95,52.17 361.30,52.98 361.65,53.71 362.00,53.79 362.35,53.12 362.70,52.88 363.05,53.73 363.40,54.32 363.75,54.15 364.10,54.01 364.45,53.66 364.80,53.46 365.15,53.37 365.50,53.94 365.85,54.30 366.20,54.32 366.55,54.17 366.90,54.24 367.25,54.49 367.60,54.34 367.95,53.97 368.30,54.06 368.65,54.45 369.00,54.56 369.35,54.70 369.70,54.73 370.05,54.81 370.40,54.58 370.75,54.59 371.10,54.74 371.45,54.82 371.80,54.60 372.15,54.67 372.50,54.60 372.85,54.75 373.20,54.61 373.55,54.62 373.90,54.66 374.25,54.66 374.60,54.65 374.95,54.71 375.30,54.59 375.65,54.80 376.00,54.72 376.35,54.73 376.70,54.70 377.05,54.61 377.40,54.81 377.75,54.72 378.10,54.65 378.45,54.45 378.80,54.11 379.15,53.81 379.50,53.61 379.85,53.11 380.20,52.67 380.55,51.46 380.90,52.05 381.25,53.40 381.60,52.83 381.95,51.02 382.30,51.44 382.65,53.04 383.00,52.84 383.35,52.09 383.70,52.49 384.05,52.53 384.40,52.63 384.75,51.89 385.10,51.35 385.45,52.35 385.80,52.98 386.15,52.98 386.50,51.96 386.85,52.31 387.20,53.65 387.55,53.58 387.90,53.77 388.25,54.01 388.50,55.20" fill="#e0321e"/>
<polygon points="349.80,55.20 351.20,55.20 350.85,74.20 350.22,74.20" fill="#1d33dc"/>
<polygon points="297.20,55.20 298.40,55.20 298.10,66.70 297.56,66.70" fill="#1d33dc"/>
<polygon points="293.30,55.20 294.50,55.20 294.20,65.70 293.66,65.70" fill="#1d33dc"/>
<polygon points="359.30,55.20 360.30,55.20 360.00,49.70 359.60,49.70" fill="#e0321e"/>
<polygon points="381.60,55.20 382.50,55.20 382.23,50.70 381.87,50.70" fill="#e0321e"/>
<polygon points="384.80,55.20 385.70,55.20 385.43,50.70 385.07,50.70" fill="#e0321e"/>
<line x1="290.00" y1="82.10" x2="389.00" y2="82.10" stroke="#d0a0a0" stroke-width="0.9" />
<rect x="291.60" y="82.10" width="0.80" height="0.52" fill="#1d33dc" />
<rect x="292.40" y="82.10" width="0.80" height="0.30" fill="#1d33dc" />
<rect x="294.00" y="82.10" width="0.80" height="0.33" fill="#1d33dc" />
<rect x="299.60" y="82.10" width="0.80" height="0.30" fill="#1d33dc" />
<rect x="310.80" y="82.10" width="0.80" height="0.53" fill="#1d33dc" />
<rect x="314.00" y="82.10" width="0.80" height="0.25" fill="#1d33dc" />
<rect x="315.60" y="82.10" width="0.80" height="0.36" fill="#1d33dc" />
<rect x="316.40" y="82.10" width="0.80" height="0.35" fill="#1d33dc" />
<rect x="325.20" y="82.10" width="0.80" height="0.35" fill="#1d33dc" />
<rect x="326.00" y="82.10" width="0.80" height="0.37" fill="#1d33dc" />
<rect x="327.60" y="82.10" width="0.80" height="0.33" fill="#1d33dc" />
<rect x="331.60" y="82.10" width="0.80" height="0.42" fill="#1d33dc" />
<rect x="343.60" y="82.10" width="0.80" height="0.48" fill="#1d33dc" />
<rect x="348.40" y="82.10" width="0.80" height="0.38" fill="#1d33dc" />
<rect x="349.20" y="82.10" width="0.80" height="0.47" fill="#1d33dc" />
<rect x="350.00" y="82.10" width="0.80" height="0.47" fill="#1d33dc" />
<rect x="361.20" y="82.10" width="0.80" height="0.51" fill="#1d33dc" />
<rect x="362.80" y="82.10" width="0.80" height="0.59" fill="#1d33dc" />
<rect x="363.60" y="82.10" width="0.80" height="0.57" fill="#1d33dc" />
<rect x="370.80" y="82.10" width="0.80" height="0.34" fill="#1d33dc" />
<rect x="374.00" y="82.10" width="0.80" height="0.27" fill="#1d33dc" />
<rect x="378.00" y="82.10" width="0.80" height="0.43" fill="#1d33dc" />
<rect x="382.80" y="82.10" width="0.80" height="0.38" fill="#1d33dc" />
<rect x="383.60" y="82.10" width="0.80" height="0.47" fill="#1d33dc" />
<rect x="388.40" y="82.10" width="0.80" height="0.29" fill="#1d33dc" />
<polygon points="296.00,82.10 298.20,82.10 297.58,85.10 297.46,92.10 296.74,92.10 296.62,85.10" fill="#1d33dc"/>
<polygon points="303.50,82.10 305.80,82.10 305.17,86.30 305.04,96.10 304.26,96.10 304.13,86.30" fill="#1d33dc"/>
<rect x="307.50" y="82.10" width="0.80" height="3.00" fill="#1d33dc" />
<polygon points="323.20,82.10 325.60,82.10 324.96,87.80 324.82,101.10 323.98,101.10 323.84,87.80" fill="#1d33dc"/>
<polygon points="328.50,82.10 330.90,82.10 330.26,84.80 330.12,91.10 329.28,91.10 329.14,84.80" fill="#1d33dc"/>
<rect x="366.00" y="72.60" width="1.05" height="9.50" fill="#e0321e" />
<rect x="353.00" y="82.10" width="0.80" height="1.50" fill="#1d33dc" />
<rect x="376.00" y="82.10" width="0.80" height="1.50" fill="#1d33dc" />
<line x1="290.00" y1="105.30" x2="389.00" y2="105.30" stroke="#d0a0a0" stroke-width="0.9" />
<rect x="295.60" y="105.30" width="0.80" height="0.31" fill="#1d33dc" />
<rect x="299.60" y="105.30" width="0.80" height="0.52" fill="#1d33dc" />
<rect x="306.00" y="105.30" width="0.80" height="0.46" fill="#1d33dc" />
<rect x="310.00" y="105.30" width="0.80" height="0.56" fill="#1d33dc" />
<rect x="315.60" y="105.30" width="0.80" height="0.35" fill="#1d33dc" />
<rect x="318.80" y="105.30" width="0.80" height="0.30" fill="#1d33dc" />
<rect x="322.80" y="105.30" width="0.80" height="0.34" fill="#1d33dc" />
<rect x="325.20" y="105.30" width="0.80" height="0.47" fill="#1d33dc" />
<rect x="334.00" y="105.30" width="0.80" height="0.39" fill="#1d33dc" />
<rect x="338.80" y="105.30" width="0.80" height="0.43" fill="#1d33dc" />
<rect x="341.20" y="105.30" width="0.80" height="0.27" fill="#1d33dc" />
<rect x="349.20" y="105.30" width="0.80" height="0.29" fill="#1d33dc" />
<rect x="354.80" y="105.30" width="0.80" height="0.26" fill="#1d33dc" />
<rect x="359.60" y="105.30" width="0.80" height="0.27" fill="#1d33dc" />
<rect x="380.40" y="105.30" width="0.80" height="0.55" fill="#1d33dc" />
<rect x="385.20" y="105.30" width="0.80" height="0.36" fill="#1d33dc" />
<polygon points="296.00,105.30 298.20,105.30 297.58,107.70 297.46,113.30 296.74,113.30 296.62,107.70" fill="#1d33dc"/>
<polygon points="303.50,105.30 305.80,105.30 305.17,108.60 305.04,116.30 304.26,116.30 304.13,108.60" fill="#1d33dc"/>
<rect x="307.50" y="105.30" width="0.80" height="3.00" fill="#1d33dc" />
<polygon points="323.20,105.30 325.60,105.30 324.96,110.40 324.82,122.30 323.98,122.30 323.84,110.40" fill="#1d33dc"/>
<polygon points="328.50,105.30 330.90,105.30 330.26,108.00 330.12,114.30 329.28,114.30 329.14,108.00" fill="#1d33dc"/>
<rect x="366.00" y="87.30" width="1.05" height="18.00" fill="#e0321e" />
<rect x="378.00" y="105.30" width="0.80" height="2.00" fill="#1d33dc" />
<rect x="384.00" y="105.30" width="1.00" height="3.00" fill="#1d33dc" />
<line x1="411.00" y1="55.20" x2="510.00" y2="55.20" stroke="#d88080" stroke-width="0.9" />
<polygon points="410.50,55.20 410.50,55.20 411.00,56.17 411.50,56.98 412.00,56.81 412.50,57.79 413.00,57.41 413.50,60.49 414.00,64.49 414.50,60.06 415.00,57.83 415.50,57.03 416.00,57.44 416.50,57.90 417.00,57.58 417.50,57.21 418.00,57.50 418.50,56.27 419.00,57.01 419.50,57.85 420.00,57.72 420.50,57.25 421.00,56.91 421.50,57.10 422.00,57.22 422.50,56.63 423.00,58.08 423.50,57.53 424.00,57.29 424.50,56.64 425.00,57.88 425.50,59.71 426.00,58.23 426.50,56.90 427.00,56.92 427.50,57.53 428.00,57.77 428.50,56.23 429.00,56.41 429.50,58.21 430.00,57.26 430.50,58.28 431.00,59.40 431.50,59.92 432.00,59.12 432.50,58.67 433.00,57.11 433.50,56.09 434.00,57.11 434.50,56.62 435.00,56.79 435.50,56.91 436.00,57.02 436.50,57.24 437.00,56.34 437.50,56.52 438.00,56.72 438.50,56.90 439.00,58.22 439.50,58.02 440.00,56.82 440.50,56.98 441.00,56.72 441.50,56.79 442.00,56.69 442.50,56.49 443.00,56.72 443.50,56.21 444.00,56.50 444.50,56.15 445.00,56.30 445.50,56.27 446.00,56.40 446.50,55.86 447.00,56.33 447.50,56.40 448.00,56.84 448.50,56.63 449.00,56.02 449.50,56.28 450.00,56.68 450.50,56.05 451.00,57.24 451.50,56.21 452.00,57.36 452.50,57.35 453.00,58.22 453.50,57.00 454.00,56.75 454.50,56.41 455.00,56.43 455.50,56.34 456.00,56.49 456.50,56.16 457.00,56.05 457.50,56.80 458.00,55.93 458.50,56.89 459.00,56.14 459.50,56.69 460.00,56.65 460.50,57.08 461.00,57.02 461.50,56.09 462.00,57.34 462.50,57.86 463.00,57.72 463.50,57.13 464.00,56.27 464.50,56.17 465.00,56.43 465.50,58.77 466.00,59.32 466.50,61.61 467.00,63.53 467.50,62.05 468.00,59.39 468.50,57.71 469.00,57.51 469.50,56.24 470.00,57.28 470.50,57.08 471.00,57.40 471.50,56.49 472.00,56.29 472.50,56.12 473.00,56.63 473.50,56.21 474.00,56.94 474.50,56.65 475.00,56.35 475.50,56.27 476.00,55.96 476.50,56.02 477.00,56.91 477.50,56.11 478.00,56.58 478.50,56.66 479.00,56.92 479.50,56.20 480.00,56.53 480.50,56.21 481.00,56.20 481.50,56.59 482.00,56.84 482.50,56.50 483.00,56.55 483.50,56.73 484.00,56.01 484.50,56.98 485.00,55.94 485.50,56.34 486.00,56.63 486.50,55.90 487.00,56.09 487.50,55.97 488.00,56.14 488.50,56.76 489.00,57.03 489.50,57.40 490.00,56.85 490.50,57.41 491.00,56.77 491.50,56.99 492.00,57.74 492.50,56.26 493.00,57.80 493.50,56.80 494.00,57.09 494.50,58.36 495.00,57.84 495.50,59.08 496.00,59.01 496.50,58.23 497.00,59.89 497.50,58.35 498.00,59.71 498.50,59.21 499.00,60.53 499.50,63.93 500.00,67.93 500.50,71.31 501.00,72.38 501.50,67.57 502.00,61.40 502.30,55.20" fill="#1d33dc"/>
<polygon points="468.00,55.20 468.00,55.20 468.30,55.12 468.60,55.05 468.90,54.97 469.20,54.90 469.50,54.81 469.80,54.79 470.10,54.61 470.40,54.65 470.70,54.64 471.00,54.70 471.30,54.62 471.60,54.64 471.90,54.66 472.20,54.76 472.50,54.69 472.80,54.57 473.10,54.66 473.40,54.69 473.70,54.64 474.00,54.74 474.30,54.69 474.60,54.59 474.90,54.66 475.20,54.67 475.50,54.54 475.80,54.64 476.10,54.65 476.40,54.73 476.70,54.61 477.00,54.63 477.30,54.68 477.60,54.52 477.90,54.59 478.20,54.61 478.50,54.53 478.80,54.64 479.10,54.50 479.40,54.56 479.70,54.63 480.00,54.61 480.30,54.49 480.60,54.57 480.90,54.72 481.20,54.52 481.50,54.62 481.80,54.65 482.10,54.60 482.40,54.67 482.70,54.56 483.00,54.57 483.30,54.61 483.60,54.60 483.90,54.64 484.20,54.55 484.50,54.52 484.80,54.71 485.10,54.57 485.40,54.53 485.70,54.48 486.00,54.53 486.30,54.49 486.60,54.57 486.90,54.52 487.20,54.54 487.50,54.66 487.80,54.55 488.10,54.57 488.40,54.59 488.70,54.66 489.00,54.49 489.30,54.53 489.60,54.53 489.90,54.66 490.20,54.57 490.50,54.39 490.80,54.14 491.10,53.98 491.40,53.55 491.70,52.53 492.00,50.80 492.30,53.06 492.60,54.24 492.90,54.10 493.20,54.29 493.50,54.27 493.80,54.26 494.10,54.38 494.40,54.56 494.70,54.63 495.00,54.43 495.30,54.62 495.60,54.64 495.90,54.77 496.20,54.70 496.50,54.73 496.80,54.77 497.10,54.66 497.40,54.66 497.70,54.68 498.00,54.63 498.30,54.61 498.60,54.63 498.90,54.79 499.20,54.70 499.50,54.67 499.80,54.62 500.10,54.69 500.40,54.71 500.70,54.74 501.00,54.75 501.30,54.63 501.60,54.80 501.90,54.65 502.20,54.61 502.50,54.79 502.80,54.76 503.10,54.72 503.40,54.52 503.70,54.44 504.00,54.32 504.30,54.34 504.60,54.29 504.90,54.23 505.20,54.05 505.50,53.76 505.80,53.82 506.10,53.24 506.40,53.56 506.70,52.53 507.00,52.08 507.30,51.57 507.60,48.89 507.90,48.73 508.20,50.29 508.50,52.33 508.80,53.58 509.10,53.73 509.40,53.93 509.70,54.50 510.00,54.72 510.30,55.00 510.50,55.20" fill="#e0321e"/>
<line x1="411.00" y1="82.10" x2="510.00" y2="82.10" stroke="#cc7070" stroke-width="0.9" />
<rect x="423.80" y="81.66" width="0.80" height="0.44" fill="#e0321e" />
<rect x="456.60" y="81.47" width="0.80" height="0.63" fill="#e0321e" />
<rect x="460.60" y="81.73" width="0.80" height="0.37" fill="#e0321e" />
<rect x="483.80" y="81.48" width="0.80" height="0.62" fill="#e0321e" />
<rect x="486.20" y="81.58" width="0.80" height="0.52" fill="#e0321e" />
<rect x="487.80" y="81.80" width="0.80" height="0.30" fill="#e0321e" />
<rect x="492.60" y="81.57" width="0.80" height="0.53" fill="#e0321e" />
<rect x="495.00" y="81.63" width="0.80" height="0.47" fill="#e0321e" />
<rect x="500.60" y="81.55" width="0.80" height="0.55" fill="#e0321e" />
<rect x="412.60" y="82.10" width="0.80" height="0.45" fill="#1d33dc" />
<rect x="414.20" y="82.10" width="0.80" height="0.46" fill="#1d33dc" />
<rect x="415.00" y="82.10" width="0.80" height="0.29" fill="#1d33dc" />
<rect x="419.00" y="82.10" width="0.80" height="0.52" fill="#1d33dc" />
<rect x="419.80" y="82.10" width="0.80" height="0.49" fill="#1d33dc" />
<rect x="427.00" y="82.10" width="0.80" height="0.32" fill="#1d33dc" />
<rect x="427.80" y="82.10" width="0.80" height="0.48" fill="#1d33dc" />
<rect x="433.40" y="82.10" width="0.80" height="0.29" fill="#1d33dc" />
<rect x="451.80" y="82.10" width="0.80" height="0.44" fill="#1d33dc" />
<rect x="452.60" y="82.10" width="0.80" height="0.43" fill="#1d33dc" />
<rect x="479.00" y="82.10" width="0.80" height="0.34" fill="#1d33dc" />
<rect x="479.80" y="82.10" width="0.80" height="0.49" fill="#1d33dc" />
<rect x="490.20" y="82.10" width="0.80" height="0.52" fill="#1d33dc" />
<rect x="491.00" y="82.10" width="0.80" height="0.50" fill="#1d33dc" />
<rect x="498.20" y="82.10" width="0.80" height="0.27" fill="#1d33dc" />
<rect x="501.40" y="82.10" width="0.80" height="0.42" fill="#1d33dc" />
<rect x="504.60" y="82.10" width="0.80" height="0.55" fill="#1d33dc" />
<polygon points="470.50,82.10 473.00,82.10 472.35,80.60 472.20,77.10 471.30,77.10 471.15,80.60" fill="#e0321e"/>
<polygon points="492.50,82.10 495.00,82.10 494.35,79.70 494.20,74.10 493.30,74.10 493.15,79.70" fill="#e0321e"/>
<polygon points="503.30,82.10 505.60,82.10 504.97,80.60 504.84,77.10 504.06,77.10 503.93,80.60" fill="#e0321e"/>
<rect x="508.50" y="80.10" width="1.00" height="2.00" fill="#e0321e" />
<polygon points="415.50,82.10 418.30,82.10 417.62,83.90 417.44,88.10 416.36,88.10 416.18,83.90" fill="#1d33dc"/>
<polygon points="484.00,82.10 486.30,82.10 485.67,83.75 485.54,87.60 484.76,87.60 484.63,83.75" fill="#1d33dc"/>
<rect x="423.00" y="82.10" width="0.80" height="2.00" fill="#1d33dc" />
<line x1="411.00" y1="105.30" x2="510.00" y2="105.30" stroke="#cc7070" stroke-width="0.9" />
<rect x="411.00" y="104.65" width="0.80" height="0.65" fill="#e0321e" />
<rect x="419.80" y="104.89" width="0.80" height="0.41" fill="#e0321e" />
<rect x="430.20" y="104.90" width="0.80" height="0.40" fill="#e0321e" />
<rect x="436.60" y="104.71" width="0.80" height="0.59" fill="#e0321e" />
<rect x="439.00" y="104.56" width="0.80" height="0.74" fill="#e0321e" />
<rect x="444.60" y="104.59" width="0.80" height="0.71" fill="#e0321e" />
<rect x="445.40" y="104.86" width="0.80" height="0.44" fill="#e0321e" />
<rect x="446.20" y="104.63" width="0.80" height="0.67" fill="#e0321e" />
<rect x="447.00" y="104.74" width="0.80" height="0.56" fill="#e0321e" />
<rect x="447.80" y="104.76" width="0.80" height="0.54" fill="#e0321e" />
<rect x="453.40" y="104.76" width="0.80" height="0.54" fill="#e0321e" />
<rect x="456.60" y="104.93" width="0.80" height="0.37" fill="#e0321e" />
<rect x="459.00" y="104.65" width="0.80" height="0.65" fill="#e0321e" />
<rect x="469.40" y="104.84" width="0.80" height="0.46" fill="#e0321e" />
<rect x="475.00" y="104.93" width="0.80" height="0.37" fill="#e0321e" />
<rect x="499.00" y="104.90" width="0.80" height="0.40" fill="#e0321e" />
<rect x="411.80" y="105.30" width="0.80" height="0.40" fill="#1d33dc" />
<rect x="422.20" y="105.30" width="0.80" height="0.41" fill="#1d33dc" />
<rect x="424.60" y="105.30" width="0.80" height="0.52" fill="#1d33dc" />
<rect x="429.40" y="105.30" width="0.80" height="0.48" fill="#1d33dc" />
<rect x="432.60" y="105.30" width="0.80" height="0.27" fill="#1d33dc" />
<rect x="439.80" y="105.30" width="0.80" height="0.60" fill="#1d33dc" />
<rect x="455.00" y="105.30" width="0.80" height="0.26" fill="#1d33dc" />
<rect x="468.60" y="105.30" width="0.80" height="0.52" fill="#1d33dc" />
<rect x="470.20" y="105.30" width="0.80" height="0.41" fill="#1d33dc" />
<rect x="485.40" y="105.30" width="0.80" height="0.38" fill="#1d33dc" />
<rect x="486.20" y="105.30" width="0.80" height="0.51" fill="#1d33dc" />
<rect x="489.40" y="105.30" width="0.80" height="0.31" fill="#1d33dc" />
<rect x="494.20" y="105.30" width="0.80" height="0.48" fill="#1d33dc" />
<rect x="495.00" y="105.30" width="0.80" height="0.30" fill="#1d33dc" />
<polygon points="471.50,105.30 474.00,105.30 473.35,103.65 473.20,99.80 472.30,99.80 472.15,103.65" fill="#e0321e"/>
<polygon points="493.00,105.30 495.50,105.30 494.85,103.50 494.70,99.30 493.80,99.30 493.65,103.50" fill="#e0321e"/>
<rect x="503.80" y="102.80" width="1.30" height="2.50" fill="#e0321e" />
<rect x="508.50" y="102.80" width="1.00" height="2.50" fill="#e0321e" />
<polygon points="416.50,105.30 418.70,105.30 418.08,106.35 417.96,108.80 417.24,108.80 417.12,106.35" fill="#1d33dc"/>
<polygon points="495.50,105.30 498.00,105.30 497.35,106.35 497.20,108.80 496.30,108.80 496.15,106.35" fill="#1d33dc"/>
<rect x="480.00" y="105.30" width="0.80" height="1.50" fill="#1d33dc" />
<text x="7" y="150" font-size="11.6" text-anchor="start" font-weight="bold" font-style="normal" fill="#000" >B</text>
<text x="101" y="164.6" font-size="9.8" text-anchor="middle" font-weight="bold" font-style="italic" fill="#000" stroke="#000" stroke-width="0.1" >STAT3</text>
<text x="227.5" y="165.3" font-size="9.8" text-anchor="middle" font-weight="bold" font-style="italic" fill="#000" stroke="#000" stroke-width="0.1" >MAPK1</text>
<text x="40" y="192.5" font-size="8.6" text-anchor="end" font-weight="normal" font-style="normal" fill="#1a1a1a" stroke="#1a1a1a" stroke-width="0.15" textLength="8" lengthAdjust="spacingAndGlyphs" >d0</text>
<text x="40" y="212.6" font-size="8.6" text-anchor="end" font-weight="normal" font-style="normal" fill="#1a1a1a" stroke="#1a1a1a" stroke-width="0.15" textLength="23" lengthAdjust="spacingAndGlyphs" >Gra_d3</text>
<text x="40" y="234.3" font-size="8.6" text-anchor="end" font-weight="normal" font-style="normal" fill="#1a1a1a" stroke="#1a1a1a" stroke-width="0.15" textLength="32.4" lengthAdjust="spacingAndGlyphs" >NB-KD_d0</text>
<text x="40" y="259.8" font-size="8.6" text-anchor="end" font-weight="normal" font-style="normal" fill="#1a1a1a" stroke="#1a1a1a" stroke-width="0.15" textLength="31.8" lengthAdjust="spacingAndGlyphs" >NE-KD_d0</text>
<line x1="56.50" y1="181.70" x2="56.50" y2="197.40" stroke="#111" stroke-width="1.4" />
<line x1="53.20" y1="182.30" x2="57.10" y2="182.30" stroke="#111" stroke-width="1.2" />
<line x1="53.20" y1="196.80" x2="57.10" y2="196.80" stroke="#111" stroke-width="1.2" />
<text x="50.5" y="184.89200000000002" font-size="7.2" text-anchor="end" font-weight="normal" font-style="normal" fill="#1a1a1a" stroke="#1a1a1a" stroke-width="0.15" >2</text>
<text x="50.5" y="199.39200000000002" font-size="7.2" text-anchor="end" font-weight="normal" font-style="normal" fill="#1a1a1a" stroke="#1a1a1a" stroke-width="0.15" >-2</text>
<line x1="56.50" y1="201.30" x2="56.50" y2="217.20" stroke="#111" stroke-width="1.4" />
<line x1="53.20" y1="201.90" x2="57.10" y2="201.90" stroke="#111" stroke-width="1.2" />
<line x1="53.20" y1="216.60" x2="57.10" y2="216.60" stroke="#111" stroke-width="1.2" />
<text x="50.5" y="204.49200000000002" font-size="7.2" text-anchor="end" font-weight="normal" font-style="normal" fill="#1a1a1a" stroke="#1a1a1a" stroke-width="0.15" >2</text>
<text x="50.5" y="219.192" font-size="7.2" text-anchor="end" font-weight="normal" font-style="normal" fill="#1a1a1a" stroke="#1a1a1a" stroke-width="0.15" >-2</text>
<line x1="56.50" y1="223.00" x2="56.50" y2="239.60" stroke="#111" stroke-width="1.4" />
<line x1="53.20" y1="223.60" x2="57.10" y2="223.60" stroke="#111" stroke-width="1.2" />
<line x1="53.20" y1="239.00" x2="57.10" y2="239.00" stroke="#111" stroke-width="1.2" />
<text x="50.5" y="226.192" font-size="7.2" text-anchor="end" font-weight="normal" font-style="normal" fill="#1a1a1a" stroke="#1a1a1a" stroke-width="0.15" >2</text>
<text x="50.5" y="241.592" font-size="7.2" text-anchor="end" font-weight="normal" font-style="normal" fill="#1a1a1a" stroke="#1a1a1a" stroke-width="0.15" >-2</text>
<line x1="56.50" y1="248.40" x2="56.50" y2="264.60" stroke="#111" stroke-width="1.4" />
<line x1="53.20" y1="249.00" x2="57.10" y2="249.00" stroke="#111" stroke-width="1.2" />
<line x1="53.20" y1="264.00" x2="57.10" y2="264.00" stroke="#111" stroke-width="1.2" />
<text x="50.5" y="251.592" font-size="7.2" text-anchor="end" font-weight="normal" font-style="normal" fill="#1a1a1a" stroke="#1a1a1a" stroke-width="0.15" >2</text>
<text x="50.5" y="266.592" font-size="7.2" text-anchor="end" font-weight="normal" font-style="normal" fill="#1a1a1a" stroke="#1a1a1a" stroke-width="0.15" >-2</text>
<line x1="180.00" y1="181.80" x2="180.00" y2="198.10" stroke="#111" stroke-width="1.4" />
<line x1="176.80" y1="182.40" x2="180.60" y2="182.40" stroke="#111" stroke-width="1.2" />
<line x1="176.80" y1="197.50" x2="180.60" y2="197.50" stroke="#111" stroke-width="1.2" />
<text x="173.6" y="185.064" font-size="7.4" text-anchor="end" font-weight="normal" font-style="normal" fill="#1a1a1a" stroke="#1a1a1a" stroke-width="0.15" >5</text>
<text x="173.6" y="200.164" font-size="7.4" text-anchor="end" font-weight="normal" font-style="normal" fill="#1a1a1a" stroke="#1a1a1a" stroke-width="0.15" >-5</text>
<line x1="180.00" y1="201.20" x2="180.00" y2="217.20" stroke="#111" stroke-width="1.4" />
<line x1="176.80" y1="201.80" x2="180.60" y2="201.80" stroke="#111" stroke-width="1.2" />
<line x1="176.80" y1="216.60" x2="180.60" y2="216.60" stroke="#111" stroke-width="1.2" />
<text x="173.6" y="204.464" font-size="7.4" text-anchor="end" font-weight="normal" font-style="normal" fill="#1a1a1a" stroke="#1a1a1a" stroke-width="0.15" >5</text>
<text x="173.6" y="219.26399999999998" font-size="7.4" text-anchor="end" font-weight="normal" font-style="normal" fill="#1a1a1a" stroke="#1a1a1a" stroke-width="0.15" >-5</text>
<line x1="180.00" y1="223.00" x2="180.00" y2="239.80" stroke="#111" stroke-width="1.4" />
<line x1="176.80" y1="223.60" x2="180.60" y2="223.60" stroke="#111" stroke-width="1.2" />
<line x1="176.80" y1="239.20" x2="180.60" y2="239.20" stroke="#111" stroke-width="1.2" />
<text x="173.6" y="226.26399999999998" font-size="7.4" text-anchor="end" font-weight="normal" font-style="normal" fill="#1a1a1a" stroke="#1a1a1a" stroke-width="0.15" >5</text>
<text x="173.6" y="241.86399999999998" font-size="7.4" text-anchor="end" font-weight="normal" font-style="normal" fill="#1a1a1a" stroke="#1a1a1a" stroke-width="0.15" >-5</text>
<line x1="180.00" y1="248.50" x2="180.00" y2="265.50" stroke="#111" stroke-width="1.4" />
<line x1="176.80" y1="249.10" x2="180.60" y2="249.10" stroke="#111" stroke-width="1.2" />
<line x1="176.80" y1="264.90" x2="180.60" y2="264.90" stroke="#111" stroke-width="1.2" />
<text x="173.6" y="251.76399999999998" font-size="7.4" text-anchor="end" font-weight="normal" font-style="normal" fill="#1a1a1a" stroke="#1a1a1a" stroke-width="0.15" >5</text>
<text x="173.6" y="267.56399999999996" font-size="7.4" text-anchor="end" font-weight="normal" font-style="normal" fill="#1a1a1a" stroke="#1a1a1a" stroke-width="0.15" >-5</text>
<rect x="153.10" y="189.00" width="3.80" height="82.00" fill="#f3ee72" />
<rect x="277.80" y="188.50" width="3.80" height="83.00" fill="#f3ee72" />
<line x1="59.50" y1="173.90" x2="154.70" y2="173.90" stroke="#2a2a88" stroke-width="0.9" />
<rect x="59.50" y="172.40" width="4.90" height="3.00" fill="#2a2a88" />
<rect x="70.00" y="172.40" width="2.00" height="3.00" fill="#2a2a88" />
<rect x="73.40" y="172.40" width="2.60" height="3.00" fill="#2a2a88" />
<rect x="79.60" y="172.40" width="1.00" height="3.00" fill="#2a2a88" />
<rect x="82.20" y="172.40" width="1.00" height="3.00" fill="#2a2a88" />
<rect x="84.40" y="172.40" width="0.80" height="3.00" fill="#2a2a88" />
<rect x="90.20" y="172.40" width="1.20" height="3.00" fill="#2a2a88" />
<rect x="92.30" y="172.40" width="1.10" height="3.00" fill="#2a2a88" />
<rect x="99.80" y="172.40" width="1.50" height="3.00" fill="#2a2a88" />
<rect x="103.40" y="172.40" width="1.50" height="3.00" fill="#2a2a88" />
<line x1="154.70" y1="173.90" x2="154.70" y2="183.00" stroke="#111" stroke-width="1.1" />
<line x1="155.20" y1="183.00" x2="146.00" y2="183.00" stroke="#111" stroke-width="1.1" />
<polygon points="143.00,183.00 147.20,181.10 147.20,184.90" fill="#111"/>
<text x="102.85" y="182.6" font-size="7.2" text-anchor="middle" font-weight="normal" font-style="normal" fill="#222" stroke="#222" stroke-width="0.12" textLength="16.89999999999999" lengthAdjust="spacingAndGlyphs" >10kb</text>
<line x1="96.50" y1="184.00" x2="108.20" y2="184.00" stroke="#333" stroke-width="0.8" />
<line x1="183.50" y1="174.50" x2="278.60" y2="174.50" stroke="#2a2a88" stroke-width="0.9" />
<rect x="183.50" y="173.00" width="3.10" height="3.00" fill="#2a2a88" />
<rect x="190.60" y="172.50" width="0.70" height="4.00" fill="#2a2a88" />
<rect x="193.70" y="172.50" width="0.70" height="4.00" fill="#2a2a88" />
<rect x="208.50" y="172.75" width="0.70" height="3.50" fill="#2a2a88" />
<rect x="218.10" y="172.75" width="0.70" height="3.50" fill="#2a2a88" />
<rect x="224.00" y="172.50" width="0.70" height="4.00" fill="#2a2a88" />
<rect x="225.20" y="172.50" width="0.70" height="4.00" fill="#2a2a88" />
<line x1="278.60" y1="174.50" x2="278.60" y2="184.50" stroke="#111" stroke-width="1.1" />
<line x1="279.10" y1="184.50" x2="269.00" y2="184.50" stroke="#111" stroke-width="1.1" />
<polygon points="266.00,184.50 270.20,182.60 270.20,186.40" fill="#111"/>
<text x="232.65" y="182.8" font-size="7.2" text-anchor="middle" font-weight="normal" font-style="normal" fill="#222" stroke="#222" stroke-width="0.12" textLength="13.699999999999989" lengthAdjust="spacingAndGlyphs" >10kb</text>
<line x1="227.90" y1="184.20" x2="238.50" y2="184.20" stroke="#333" stroke-width="0.8" />
<rect x="57.60" y="189.10" width="95.90" height="1.20" fill="#1d33dc" opacity="0.75"/>
<rect x="57.60" y="189.10" width="0.70" height="1.40" fill="#1d33dc" />
<rect x="59.20" y="189.10" width="0.70" height="0.78" fill="#1d33dc" />
<rect x="63.20" y="189.10" width="0.70" height="0.50" fill="#1d33dc" />
<rect x="64.00" y="189.10" width="0.70" height="1.26" fill="#1d33dc" />
<rect x="64.80" y="189.10" width="0.70" height="1.53" fill="#1d33dc" />
<rect x="65.60" y="189.10" width="0.70" height="0.80" fill="#1d33dc" />
<rect x="66.40" y="189.10" width="0.70" height="1.80" fill="#1d33dc" />
<rect x="69.60" y="189.10" width="0.70" height="0.93" fill="#1d33dc" />
<rect x="70.40" y="189.10" width="0.70" height="0.65" fill="#1d33dc" />
<rect x="72.00" y="189.10" width="0.70" height="0.70" fill="#1d33dc" />
<rect x="73.60" y="189.10" width="0.70" height="1.71" fill="#1d33dc" />
<rect x="74.40" y="189.10" width="0.70" height="1.22" fill="#1d33dc" />
<rect x="75.20" y="189.10" width="0.70" height="1.13" fill="#1d33dc" />
<rect x="76.00" y="189.10" width="0.70" height="0.55" fill="#1d33dc" />
<rect x="77.60" y="189.10" width="0.70" height="1.51" fill="#1d33dc" />
<rect x="78.40" y="189.10" width="0.70" height="1.76" fill="#1d33dc" />
<rect x="83.20" y="189.10" width="0.70" height="1.12" fill="#1d33dc" />
<rect x="84.80" y="189.10" width="0.70" height="1.70" fill="#1d33dc" />
<rect x="86.40" y="189.10" width="0.70" height="0.97" fill="#1d33dc" />
<rect x="87.20" y="189.10" width="0.70" height="1.00" fill="#1d33dc" />
<rect x="88.80" y="189.10" width="0.70" height="0.53" fill="#1d33dc" />
<rect x="89.60" y="189.10" width="0.70" height="1.43" fill="#1d33dc" />
<rect x="91.20" y="189.10" width="0.70" height="1.14" fill="#1d33dc" />
<rect x="93.60" y="189.10" width="0.70" height="1.29" fill="#1d33dc" />
<rect x="96.00" y="189.10" width="0.70" height="0.72" fill="#1d33dc" />
<rect x="96.80" y="189.10" width="0.70" height="1.71" fill="#1d33dc" />
<rect x="97.60" y="189.10" width="0.70" height="1.28" fill="#1d33dc" />
<rect x="98.40" y="189.10" width="0.70" height="0.63" fill="#1d33dc" />
<rect x="99.20" y="189.10" width="0.70" height="1.56" fill="#1d33dc" />
<rect x="100.80" y="189.10" width="0.70" height="1.39" fill="#1d33dc" />
<rect x="104.00" y="189.10" width="0.70" height="1.79" fill="#1d33dc" />
<rect x="107.20" y="189.10" width="0.70" height="0.99" fill="#1d33dc" />
<rect x="108.00" y="189.10" width="0.70" height="1.64" fill="#1d33dc" />
<rect x="108.80" y="189.10" width="0.70" height="0.59" fill="#1d33dc" />
<rect x="111.20" y="189.10" width="0.70" height="1.59" fill="#1d33dc" />
<rect x="112.00" y="189.10" width="0.70" height="0.84" fill="#1d33dc" />
<rect x="112.80" y="189.10" width="0.70" height="1.05" fill="#1d33dc" />
<rect x="113.60" y="189.10" width="0.70" height="0.59" fill="#1d33dc" />
<rect x="114.40" y="189.10" width="0.70" height="1.67" fill="#1d33dc" />
<rect x="116.80" y="189.10" width="0.70" height="0.83" fill="#1d33dc" />
<rect x="120.00" y="189.10" width="0.70" height="0.78" fill="#1d33dc" />
<rect x="124.00" y="189.10" width="0.70" height="1.26" fill="#1d33dc" />
<rect x="125.60" y="189.10" width="0.70" height="1.19" fill="#1d33dc" />
<rect x="126.40" y="189.10" width="0.70" height="1.50" fill="#1d33dc" />
<rect x="127.20" y="189.10" width="0.70" height="1.39" fill="#1d33dc" />
<rect x="128.80" y="189.10" width="0.70" height="1.27" fill="#1d33dc" />
<rect x="132.00" y="189.10" width="0.70" height="1.03" fill="#1d33dc" />
<rect x="134.40" y="189.10" width="0.70" height="0.62" fill="#1d33dc" />
<rect x="135.20" y="189.10" width="0.70" height="0.53" fill="#1d33dc" />
<rect x="136.00" y="189.10" width="0.70" height="0.68" fill="#1d33dc" />
<rect x="138.40" y="189.10" width="0.70" height="1.20" fill="#1d33dc" />
<rect x="139.20" y="189.10" width="0.70" height="1.14" fill="#1d33dc" />
<rect x="140.00" y="189.10" width="0.70" height="0.72" fill="#1d33dc" />
<rect x="140.80" y="189.10" width="0.70" height="0.99" fill="#1d33dc" />
<rect x="143.20" y="189.10" width="0.70" height="1.42" fill="#1d33dc" />
<rect x="146.40" y="189.10" width="0.70" height="1.10" fill="#1d33dc" />
<rect x="147.20" y="189.10" width="0.70" height="1.49" fill="#1d33dc" />
<rect x="148.00" y="189.10" width="0.70" height="1.42" fill="#1d33dc" />
<rect x="148.80" y="189.10" width="0.70" height="1.41" fill="#1d33dc" />
<rect x="149.60" y="189.10" width="0.70" height="0.55" fill="#1d33dc" />
<rect x="150.40" y="189.10" width="0.70" height="0.90" fill="#1d33dc" />
<rect x="152.00" y="189.10" width="0.70" height="1.15" fill="#1d33dc" />
<polygon points="64.00,189.10 65.20,189.10 64.90,193.60 64.36,193.60" fill="#1d33dc"/>
<polygon points="85.00,189.10 86.00,189.10 85.75,191.10 85.30,191.10" fill="#1d33dc"/>
<polygon points="120.00,189.10 121.00,189.10 120.75,191.10 120.30,191.10" fill="#1d33dc"/>
<polygon points="140.00,189.10 141.00,189.10 140.75,191.10 140.30,191.10" fill="#1d33dc"/>
<polygon points="93.00,189.10 94.00,189.10 93.75,191.60 93.30,191.60" fill="#1d33dc"/>
<line x1="57.60" y1="188.75" x2="159.00" y2="188.75" stroke="#6058b0" stroke-width="0.8" />
<rect x="57.60" y="209.20" width="95.90" height="1.50" fill="#1d33dc" opacity="0.75"/>
<rect x="58.40" y="209.20" width="0.70" height="0.57" fill="#1d33dc" />
<rect x="60.00" y="209.20" width="0.70" height="0.86" fill="#1d33dc" />
<rect x="61.60" y="209.20" width="0.70" height="3.17" fill="#1d33dc" />
<rect x="62.40" y="209.20" width="0.70" height="3.38" fill="#1d33dc" />
<rect x="63.20" y="209.20" width="0.70" height="2.30" fill="#1d33dc" />
<rect x="67.20" y="209.20" width="0.70" height="3.14" fill="#1d33dc" />
<rect x="68.00" y="209.20" width="0.70" height="1.43" fill="#1d33dc" />
<rect x="68.80" y="209.20" width="0.70" height="3.05" fill="#1d33dc" />
<rect x="69.60" y="209.20" width="0.70" height="3.31" fill="#1d33dc" />
<rect x="72.00" y="209.20" width="0.70" height="2.60" fill="#1d33dc" />
<rect x="72.80" y="209.20" width="0.70" height="1.28" fill="#1d33dc" />
<rect x="74.40" y="209.20" width="0.70" height="2.84" fill="#1d33dc" />
<rect x="76.80" y="209.20" width="0.70" height="2.98" fill="#1d33dc" />
<rect x="78.40" y="209.20" width="0.70" height="0.65" fill="#1d33dc" />
<rect x="79.20" y="209.20" width="0.70" height="0.60" fill="#1d33dc" />
<rect x="80.80" y="209.20" width="0.70" height="2.05" fill="#1d33dc" />
<rect x="81.60" y="209.20" width="0.70" height="2.48" fill="#1d33dc" />
<rect x="83.20" y="209.20" width="0.70" height="1.62" fill="#1d33dc" />
<rect x="84.00" y="209.20" width="0.70" height="1.39" fill="#1d33dc" />
<rect x="84.80" y="209.20" width="0.70" height="2.13" fill="#1d33dc" />
<rect x="85.60" y="209.20" width="0.70" height="2.52" fill="#1d33dc" />
<rect x="86.40" y="209.20" width="0.70" height="0.76" fill="#1d33dc" />
<rect x="88.00" y="209.20" width="0.70" height="1.80" fill="#1d33dc" />
<rect x="88.80" y="209.20" width="0.70" height="3.29" fill="#1d33dc" />
<rect x="90.40" y="209.20" width="0.70" height="1.70" fill="#1d33dc" />
<rect x="91.20" y="209.20" width="0.70" height="3.19" fill="#1d33dc" />
<rect x="92.00" y="209.20" width="0.70" height="2.14" fill="#1d33dc" />
<rect x="92.80" y="209.20" width="0.70" height="1.48" fill="#1d33dc" />
<rect x="93.60" y="209.20" width="0.70" height="1.07" fill="#1d33dc" />
<rect x="94.40" y="209.20" width="0.70" height="2.11" fill="#1d33dc" />
<rect x="96.00" y="209.20" width="0.70" height="1.10" fill="#1d33dc" />
<rect x="97.60" y="209.20" width="0.70" height="1.73" fill="#1d33dc" />
<rect x="100.00" y="209.20" width="0.70" height="3.04" fill="#1d33dc" />
<rect x="100.80" y="209.20" width="0.70" height="2.07" fill="#1d33dc" />
<rect x="101.60" y="209.20" width="0.70" height="3.47" fill="#1d33dc" />
<rect x="103.20" y="209.20" width="0.70" height="2.68" fill="#1d33dc" />
<rect x="104.00" y="209.20" width="0.70" height="1.56" fill="#1d33dc" />
<rect x="106.40" y="209.20" width="0.70" height="3.33" fill="#1d33dc" />
<rect x="107.20" y="209.20" width="0.70" height="2.00" fill="#1d33dc" />
<rect x="108.00" y="209.20" width="0.70" height="1.52" fill="#1d33dc" />
<rect x="108.80" y="209.20" width="0.70" height="2.58" fill="#1d33dc" />
<rect x="109.60" y="209.20" width="0.70" height="1.31" fill="#1d33dc" />
<rect x="110.40" y="209.20" width="0.70" height="3.40" fill="#1d33dc" />
<rect x="111.20" y="209.20" width="0.70" height="0.85" fill="#1d33dc" />
<rect x="112.00" y="209.20" width="0.70" height="1.26" fill="#1d33dc" />
<rect x="113.60" y="209.20" width="0.70" height="1.33" fill="#1d33dc" />
<rect x="114.40" y="209.20" width="0.70" height="1.91" fill="#1d33dc" />
<rect x="115.20" y="209.20" width="0.70" height="1.53" fill="#1d33dc" />
<rect x="118.40" y="209.20" width="0.70" height="1.63" fill="#1d33dc" />
<rect x="120.00" y="209.20" width="0.70" height="1.11" fill="#1d33dc" />
<rect x="120.80" y="209.20" width="0.70" height="1.65" fill="#1d33dc" />
<rect x="123.20" y="209.20" width="0.70" height="1.25" fill="#1d33dc" />
<rect x="124.00" y="209.20" width="0.70" height="1.30" fill="#1d33dc" />
<rect x="124.80" y="209.20" width="0.70" height="2.50" fill="#1d33dc" />
<rect x="125.60" y="209.20" width="0.70" height="3.17" fill="#1d33dc" />
<rect x="126.40" y="209.20" width="0.70" height="0.67" fill="#1d33dc" />
<rect x="127.20" y="209.20" width="0.70" height="2.31" fill="#1d33dc" />
<rect x="128.00" y="209.20" width="0.70" height="1.96" fill="#1d33dc" />
<rect x="128.80" y="209.20" width="0.70" height="2.80" fill="#1d33dc" />
<rect x="129.60" y="209.20" width="0.70" height="2.40" fill="#1d33dc" />
<rect x="132.00" y="209.20" width="0.70" height="2.10" fill="#1d33dc" />
<rect x="132.80" y="209.20" width="0.70" height="1.53" fill="#1d33dc" />
<rect x="135.20" y="209.20" width="0.70" height="1.64" fill="#1d33dc" />
<rect x="136.00" y="209.20" width="0.70" height="1.03" fill="#1d33dc" />
<rect x="138.40" y="209.20" width="0.70" height="1.59" fill="#1d33dc" />
<rect x="140.00" y="209.20" width="0.70" height="1.07" fill="#1d33dc" />
<rect x="140.80" y="209.20" width="0.70" height="0.98" fill="#1d33dc" />
<rect x="142.40" y="209.20" width="0.70" height="2.59" fill="#1d33dc" />
<rect x="144.80" y="209.20" width="0.70" height="1.72" fill="#1d33dc" />
<rect x="147.20" y="209.20" width="0.70" height="2.47" fill="#1d33dc" />
<rect x="148.00" y="209.20" width="0.70" height="0.99" fill="#1d33dc" />
<rect x="148.80" y="209.20" width="0.70" height="1.64" fill="#1d33dc" />
<rect x="149.60" y="209.20" width="0.70" height="2.05" fill="#1d33dc" />
<rect x="151.20" y="209.20" width="0.70" height="2.17" fill="#1d33dc" />
<rect x="152.80" y="209.20" width="0.70" height="2.08" fill="#1d33dc" />
<polygon points="58.20,209.20 60.00,209.20 59.55,224.20 58.74,224.20" fill="#1d33dc"/>
<polygon points="62.40,209.20 63.60,209.20 63.30,213.20 62.76,213.20" fill="#1d33dc"/>
<polygon points="66.60,209.20 68.20,209.20 67.80,217.70 67.08,217.70" fill="#1d33dc"/>
<polygon points="71.90,209.20 73.40,209.20 73.03,214.20 72.35,214.20" fill="#1d33dc"/>
<polygon points="76.20,209.20 77.40,209.20 77.10,213.20 76.56,213.20" fill="#1d33dc"/>
<polygon points="78.30,209.20 79.80,209.20 79.42,214.20 78.75,214.20" fill="#1d33dc"/>
<polygon points="83.60,209.20 85.10,209.20 84.72,213.70 84.05,213.70" fill="#1d33dc"/>
<polygon points="86.70,209.20 88.20,209.20 87.83,213.20 87.15,213.20" fill="#1d33dc"/>
<polygon points="95.20,209.20 96.70,209.20 96.33,214.20 95.65,214.20" fill="#1d33dc"/>
<polygon points="98.40,209.20 99.40,209.20 99.15,213.20 98.70,213.20" fill="#1d33dc"/>
<polygon points="105.80,209.20 107.30,209.20 106.92,213.20 106.25,213.20" fill="#1d33dc"/>
<polygon points="109.20,209.20 110.70,209.20 110.33,212.70 109.65,212.70" fill="#1d33dc"/>
<polygon points="115.60,209.20 117.10,209.20 116.72,213.70 116.05,213.70" fill="#1d33dc"/>
<polygon points="121.30,209.20 122.80,209.20 122.42,213.20 121.75,213.20" fill="#1d33dc"/>
<polygon points="124.80,209.20 126.00,209.20 125.70,213.20 125.16,213.20" fill="#1d33dc"/>
<polygon points="129.70,209.20 131.70,209.20 131.20,217.20 130.30,217.20" fill="#1d33dc"/>
<polygon points="134.00,209.20 135.00,209.20 134.75,212.70 134.30,212.70" fill="#1d33dc"/>
<polygon points="139.80,209.20 141.30,209.20 140.93,214.20 140.25,214.20" fill="#1d33dc"/>
<polygon points="143.30,209.20 144.40,209.20 144.12,213.20 143.63,213.20" fill="#1d33dc"/>
<polygon points="146.10,209.20 147.60,209.20 147.22,214.20 146.55,214.20" fill="#1d33dc"/>
<polygon points="149.00,209.20 150.50,209.20 150.12,213.70 149.45,213.70" fill="#1d33dc"/>
<line x1="57.60" y1="208.85" x2="159.00" y2="208.85" stroke="#d09090" stroke-width="0.8" />
<rect x="57.60" y="231.00" width="95.90" height="1.30" fill="#1d33dc" opacity="0.75"/>
<rect x="60.00" y="231.00" width="0.70" height="2.28" fill="#1d33dc" />
<rect x="60.80" y="231.00" width="0.70" height="2.09" fill="#1d33dc" />
<rect x="61.60" y="231.00" width="0.70" height="1.08" fill="#1d33dc" />
<rect x="62.40" y="231.00" width="0.70" height="1.16" fill="#1d33dc" />
<rect x="63.20" y="231.00" width="0.70" height="0.57" fill="#1d33dc" />
<rect x="64.00" y="231.00" width="0.70" height="2.63" fill="#1d33dc" />
<rect x="64.80" y="231.00" width="0.70" height="2.04" fill="#1d33dc" />
<rect x="66.40" y="231.00" width="0.70" height="0.67" fill="#1d33dc" />
<rect x="71.20" y="231.00" width="0.70" height="2.78" fill="#1d33dc" />
<rect x="72.00" y="231.00" width="0.70" height="2.22" fill="#1d33dc" />
<rect x="73.60" y="231.00" width="0.70" height="0.76" fill="#1d33dc" />
<rect x="74.40" y="231.00" width="0.70" height="2.65" fill="#1d33dc" />
<rect x="76.00" y="231.00" width="0.70" height="2.43" fill="#1d33dc" />
<rect x="76.80" y="231.00" width="0.70" height="1.04" fill="#1d33dc" />
<rect x="77.60" y="231.00" width="0.70" height="2.95" fill="#1d33dc" />
<rect x="78.40" y="231.00" width="0.70" height="0.84" fill="#1d33dc" />
<rect x="79.20" y="231.00" width="0.70" height="0.62" fill="#1d33dc" />
<rect x="80.00" y="231.00" width="0.70" height="2.22" fill="#1d33dc" />
<rect x="81.60" y="231.00" width="0.70" height="1.61" fill="#1d33dc" />
<rect x="82.40" y="231.00" width="0.70" height="1.41" fill="#1d33dc" />
<rect x="84.00" y="231.00" width="0.70" height="1.28" fill="#1d33dc" />
<rect x="84.80" y="231.00" width="0.70" height="2.85" fill="#1d33dc" />
<rect x="87.20" y="231.00" width="0.70" height="2.14" fill="#1d33dc" />
<rect x="90.40" y="231.00" width="0.70" height="3.43" fill="#1d33dc" />
<rect x="91.20" y="231.00" width="0.70" height="1.75" fill="#1d33dc" />
<rect x="92.00" y="231.00" width="0.70" height="2.93" fill="#1d33dc" />
<rect x="96.00" y="231.00" width="0.70" height="3.46" fill="#1d33dc" />
<rect x="97.60" y="231.00" width="0.70" height="3.42" fill="#1d33dc" />
<rect x="98.40" y="231.00" width="0.70" height="1.08" fill="#1d33dc" />
<rect x="99.20" y="231.00" width="0.70" height="1.90" fill="#1d33dc" />
<rect x="100.00" y="231.00" width="0.70" height="3.30" fill="#1d33dc" />
<rect x="101.60" y="231.00" width="0.70" height="0.81" fill="#1d33dc" />
<rect x="102.40" y="231.00" width="0.70" height="1.01" fill="#1d33dc" />
<rect x="103.20" y="231.00" width="0.70" height="2.94" fill="#1d33dc" />
<rect x="104.00" y="231.00" width="0.70" height="1.77" fill="#1d33dc" />
<rect x="105.60" y="231.00" width="0.70" height="1.53" fill="#1d33dc" />
<rect x="109.60" y="231.00" width="0.70" height="2.58" fill="#1d33dc" />
<rect x="112.00" y="231.00" width="0.70" height="1.39" fill="#1d33dc" />
<rect x="112.80" y="231.00" width="0.70" height="2.81" fill="#1d33dc" />
<rect x="114.40" y="231.00" width="0.70" height="2.98" fill="#1d33dc" />
<rect x="115.20" y="231.00" width="0.70" height="2.39" fill="#1d33dc" />
<rect x="116.00" y="231.00" width="0.70" height="2.18" fill="#1d33dc" />
<rect x="117.60" y="231.00" width="0.70" height="3.35" fill="#1d33dc" />
<rect x="118.40" y="231.00" width="0.70" height="2.19" fill="#1d33dc" />
<rect x="119.20" y="231.00" width="0.70" height="1.21" fill="#1d33dc" />
<rect x="120.80" y="231.00" width="0.70" height="1.85" fill="#1d33dc" />
<rect x="122.40" y="231.00" width="0.70" height="1.63" fill="#1d33dc" />
<rect x="124.00" y="231.00" width="0.70" height="3.10" fill="#1d33dc" />
<rect x="124.80" y="231.00" width="0.70" height="2.54" fill="#1d33dc" />
<rect x="125.60" y="231.00" width="0.70" height="1.85" fill="#1d33dc" />
<rect x="126.40" y="231.00" width="0.70" height="0.75" fill="#1d33dc" />
<rect x="128.00" y="231.00" width="0.70" height="2.57" fill="#1d33dc" />
<rect x="128.80" y="231.00" width="0.70" height="2.17" fill="#1d33dc" />
<rect x="129.60" y="231.00" width="0.70" height="1.39" fill="#1d33dc" />
<rect x="131.20" y="231.00" width="0.70" height="3.13" fill="#1d33dc" />
<rect x="132.80" y="231.00" width="0.70" height="2.83" fill="#1d33dc" />
<rect x="135.20" y="231.00" width="0.70" height="1.46" fill="#1d33dc" />
<rect x="136.00" y="231.00" width="0.70" height="1.41" fill="#1d33dc" />
<rect x="137.60" y="231.00" width="0.70" height="1.66" fill="#1d33dc" />
<rect x="138.40" y="231.00" width="0.70" height="2.95" fill="#1d33dc" />
<rect x="139.20" y="231.00" width="0.70" height="2.16" fill="#1d33dc" />
<rect x="140.00" y="231.00" width="0.70" height="1.33" fill="#1d33dc" />
<rect x="140.80" y="231.00" width="0.70" height="1.15" fill="#1d33dc" />
<rect x="141.60" y="231.00" width="0.70" height="3.06" fill="#1d33dc" />
<rect x="142.40" y="231.00" width="0.70" height="0.83" fill="#1d33dc" />
<rect x="143.20" y="231.00" width="0.70" height="0.86" fill="#1d33dc" />
<rect x="144.80" y="231.00" width="0.70" height="3.07" fill="#1d33dc" />
<rect x="145.60" y="231.00" width="0.70" height="3.05" fill="#1d33dc" />
<rect x="146.40" y="231.00" width="0.70" height="3.45" fill="#1d33dc" />
<rect x="148.00" y="231.00" width="0.70" height="2.92" fill="#1d33dc" />
<rect x="148.80" y="231.00" width="0.70" height="1.59" fill="#1d33dc" />
<rect x="149.60" y="231.00" width="0.70" height="3.01" fill="#1d33dc" />
<rect x="150.40" y="231.00" width="0.70" height="2.71" fill="#1d33dc" />
<rect x="151.20" y="231.00" width="0.70" height="2.54" fill="#1d33dc" />
<rect x="152.00" y="231.00" width="0.70" height="0.73" fill="#1d33dc" />
<polygon points="58.20,231.00 59.80,231.00 59.40,246.60 58.68,246.60" fill="#1d33dc"/>
<polygon points="62.40,231.00 64.00,231.00 63.60,245.50 62.88,245.50" fill="#1d33dc"/>
<polygon points="66.60,231.00 68.20,231.00 67.80,236.50 67.08,236.50" fill="#1d33dc"/>
<polygon points="71.90,231.00 74.00,231.00 73.48,245.50 72.53,245.50" fill="#1d33dc"/>
<polygon points="76.20,231.00 77.80,231.00 77.40,236.50 76.68,236.50" fill="#1d33dc"/>
<polygon points="78.30,231.00 80.40,231.00 79.88,242.30 78.93,242.30" fill="#1d33dc"/>
<polygon points="80.40,231.00 81.40,231.00 81.15,237.50 80.70,237.50" fill="#1d33dc"/>
<polygon points="83.60,231.00 86.20,231.00 85.55,244.50 84.38,244.50" fill="#1d33dc"/>
<polygon points="86.70,231.00 88.90,231.00 88.35,237.00 87.36,237.00" fill="#1d33dc"/>
<polygon points="95.20,231.00 97.30,231.00 96.78,246.60 95.83,246.60" fill="#1d33dc"/>
<polygon points="98.40,231.00 99.40,231.00 99.15,235.50 98.70,235.50" fill="#1d33dc"/>
<polygon points="105.80,231.00 108.00,231.00 107.45,235.60 106.46,235.60" fill="#1d33dc"/>
<polygon points="109.20,231.00 111.00,231.00 110.55,236.80 109.74,236.80" fill="#1d33dc"/>
<polygon points="115.60,231.00 119.00,231.00 118.15,242.60 116.62,242.60" fill="#1d33dc"/>
<polygon points="121.30,231.00 124.20,231.00 123.47,239.80 122.17,239.80" fill="#1d33dc"/>
<polygon points="124.80,231.00 126.00,231.00 125.70,240.00 125.16,240.00" fill="#1d33dc"/>
<polygon points="130.00,231.00 132.30,231.00 131.72,249.50 130.69,249.50" fill="#1d33dc"/>
<polygon points="139.80,231.00 142.10,231.00 141.53,249.50 140.49,249.50" fill="#1d33dc"/>
<polygon points="143.30,231.00 144.40,231.00 144.12,243.70 143.63,243.70" fill="#1d33dc"/>
<polygon points="146.10,231.00 147.60,231.00 147.22,249.50 146.55,249.50" fill="#1d33dc"/>
<polygon points="148.30,231.00 150.70,231.00 150.10,249.50 149.02,249.50" fill="#1d33dc"/>
<line x1="57.60" y1="230.65" x2="159.00" y2="230.65" stroke="#d09090" stroke-width="0.8" />
<rect x="57.60" y="255.80" width="95.90" height="1.30" fill="#1d33dc" opacity="0.75"/>
<rect x="59.20" y="255.80" width="0.70" height="3.49" fill="#1d33dc" />
<rect x="60.00" y="255.80" width="0.70" height="2.51" fill="#1d33dc" />
<rect x="60.80" y="255.80" width="0.70" height="2.77" fill="#1d33dc" />
<rect x="61.60" y="255.80" width="0.70" height="2.62" fill="#1d33dc" />
<rect x="64.00" y="255.80" width="0.70" height="3.10" fill="#1d33dc" />
<rect x="65.60" y="255.80" width="0.70" height="2.05" fill="#1d33dc" />
<rect x="68.00" y="255.80" width="0.70" height="1.41" fill="#1d33dc" />
<rect x="69.60" y="255.80" width="0.70" height="2.78" fill="#1d33dc" />
<rect x="71.20" y="255.80" width="0.70" height="1.48" fill="#1d33dc" />
<rect x="72.00" y="255.80" width="0.70" height="2.13" fill="#1d33dc" />
<rect x="72.80" y="255.80" width="0.70" height="3.18" fill="#1d33dc" />
<rect x="74.40" y="255.80" width="0.70" height="3.18" fill="#1d33dc" />
<rect x="75.20" y="255.80" width="0.70" height="0.79" fill="#1d33dc" />
<rect x="80.00" y="255.80" width="0.70" height="2.73" fill="#1d33dc" />
<rect x="81.60" y="255.80" width="0.70" height="1.98" fill="#1d33dc" />
<rect x="82.40" y="255.80" width="0.70" height="0.93" fill="#1d33dc" />
<rect x="83.20" y="255.80" width="0.70" height="2.51" fill="#1d33dc" />
<rect x="84.80" y="255.80" width="0.70" height="2.02" fill="#1d33dc" />
<rect x="87.20" y="255.80" width="0.70" height="1.23" fill="#1d33dc" />
<rect x="88.80" y="255.80" width="0.70" height="2.43" fill="#1d33dc" />
<rect x="90.40" y="255.80" width="0.70" height="2.88" fill="#1d33dc" />
<rect x="91.20" y="255.80" width="0.70" height="1.91" fill="#1d33dc" />
<rect x="92.80" y="255.80" width="0.70" height="1.06" fill="#1d33dc" />
<rect x="94.40" y="255.80" width="0.70" height="3.12" fill="#1d33dc" />
<rect x="95.20" y="255.80" width="0.70" height="1.61" fill="#1d33dc" />
<rect x="96.00" y="255.80" width="0.70" height="1.85" fill="#1d33dc" />
<rect x="96.80" y="255.80" width="0.70" height="1.85" fill="#1d33dc" />
<rect x="98.40" y="255.80" width="0.70" height="3.47" fill="#1d33dc" />
<rect x="100.80" y="255.80" width="0.70" height="2.23" fill="#1d33dc" />
<rect x="101.60" y="255.80" width="0.70" height="1.69" fill="#1d33dc" />
<rect x="102.40" y="255.80" width="0.70" height="1.41" fill="#1d33dc" />
<rect x="103.20" y="255.80" width="0.70" height="1.51" fill="#1d33dc" />
<rect x="106.40" y="255.80" width="0.70" height="1.29" fill="#1d33dc" />
<rect x="107.20" y="255.80" width="0.70" height="2.58" fill="#1d33dc" />
<rect x="108.00" y="255.80" width="0.70" height="2.40" fill="#1d33dc" />
<rect x="109.60" y="255.80" width="0.70" height="1.65" fill="#1d33dc" />
<rect x="111.20" y="255.80" width="0.70" height="2.66" fill="#1d33dc" />
<rect x="112.00" y="255.80" width="0.70" height="0.56" fill="#1d33dc" />
<rect x="112.80" y="255.80" width="0.70" height="0.70" fill="#1d33dc" />
<rect x="115.20" y="255.80" width="0.70" height="3.20" fill="#1d33dc" />
<rect x="116.00" y="255.80" width="0.70" height="1.84" fill="#1d33dc" />
<rect x="116.80" y="255.80" width="0.70" height="0.65" fill="#1d33dc" />
<rect x="118.40" y="255.80" width="0.70" height="3.30" fill="#1d33dc" />
<rect x="120.80" y="255.80" width="0.70" height="3.22" fill="#1d33dc" />
<rect x="122.40" y="255.80" width="0.70" height="1.05" fill="#1d33dc" />
<rect x="123.20" y="255.80" width="0.70" height="2.01" fill="#1d33dc" />
<rect x="124.00" y="255.80" width="0.70" height="2.90" fill="#1d33dc" />
<rect x="124.80" y="255.80" width="0.70" height="2.61" fill="#1d33dc" />
<rect x="125.60" y="255.80" width="0.70" height="2.46" fill="#1d33dc" />
<rect x="126.40" y="255.80" width="0.70" height="2.45" fill="#1d33dc" />
<rect x="127.20" y="255.80" width="0.70" height="3.47" fill="#1d33dc" />
<rect x="129.60" y="255.80" width="0.70" height="1.07" fill="#1d33dc" />
<rect x="130.40" y="255.80" width="0.70" height="0.89" fill="#1d33dc" />
<rect x="132.00" y="255.80" width="0.70" height="3.11" fill="#1d33dc" />
<rect x="132.80" y="255.80" width="0.70" height="2.36" fill="#1d33dc" />
<rect x="133.60" y="255.80" width="0.70" height="1.42" fill="#1d33dc" />
<rect x="136.80" y="255.80" width="0.70" height="1.31" fill="#1d33dc" />
<rect x="137.60" y="255.80" width="0.70" height="1.14" fill="#1d33dc" />
<rect x="140.00" y="255.80" width="0.70" height="1.52" fill="#1d33dc" />
<rect x="142.40" y="255.80" width="0.70" height="0.64" fill="#1d33dc" />
<rect x="143.20" y="255.80" width="0.70" height="2.95" fill="#1d33dc" />
<rect x="144.80" y="255.80" width="0.70" height="1.20" fill="#1d33dc" />
<rect x="145.60" y="255.80" width="0.70" height="2.54" fill="#1d33dc" />
<rect x="147.20" y="255.80" width="0.70" height="1.49" fill="#1d33dc" />
<rect x="148.00" y="255.80" width="0.70" height="3.34" fill="#1d33dc" />
<rect x="150.40" y="255.80" width="0.70" height="2.40" fill="#1d33dc" />
<rect x="152.80" y="255.80" width="0.70" height="1.19" fill="#1d33dc" />
<polygon points="58.00,255.80 60.00,255.80 59.50,270.80 58.60,270.80" fill="#1d33dc"/>
<polygon points="63.00,255.80 65.00,255.80 64.50,267.30 63.60,267.30" fill="#1d33dc"/>
<polygon points="66.00,255.80 68.00,255.80 67.50,270.80 66.60,270.80" fill="#1d33dc"/>
<polygon points="72.00,255.80 74.00,255.80 73.50,273.80 72.60,273.80" fill="#1d33dc"/>
<polygon points="77.00,255.80 79.00,255.80 78.50,270.80 77.60,270.80" fill="#1d33dc"/>
<polygon points="81.00,255.80 83.00,255.80 82.50,265.80 81.60,265.80" fill="#1d33dc"/>
<polygon points="84.00,255.80 87.00,255.80 86.25,273.80 84.90,273.80" fill="#1d33dc"/>
<polygon points="88.00,255.80 89.20,255.80 88.90,261.80 88.36,261.80" fill="#1d33dc"/>
<polygon points="95.40,255.80 97.40,255.80 96.90,273.80 96.00,273.80" fill="#1d33dc"/>
<polygon points="100.00,255.80 101.00,255.80 100.75,259.80 100.30,259.80" fill="#1d33dc"/>
<polygon points="105.80,255.80 107.30,255.80 106.92,258.80 106.25,258.80" fill="#1d33dc"/>
<polygon points="108.00,255.80 109.00,255.80 108.75,258.80 108.30,258.80" fill="#1d33dc"/>
<polygon points="115.60,255.80 118.60,255.80 117.85,272.80 116.50,272.80" fill="#1d33dc"/>
<polygon points="122.70,255.80 125.70,255.80 124.95,269.30 123.60,269.30" fill="#1d33dc"/>
<polygon points="127.70,255.80 131.70,255.80 130.70,273.80 128.90,273.80" fill="#1d33dc"/>
<polygon points="134.00,255.80 135.00,255.80 134.75,259.80 134.30,259.80" fill="#1d33dc"/>
<polygon points="139.80,255.80 141.90,255.80 141.38,272.80 140.43,272.80" fill="#1d33dc"/>
<polygon points="143.90,255.80 146.40,255.80 145.78,273.80 144.65,273.80" fill="#1d33dc"/>
<polygon points="147.00,255.80 150.00,255.80 149.25,273.80 147.90,273.80" fill="#1d33dc"/>
<line x1="57.60" y1="255.45" x2="159.00" y2="255.45" stroke="#d09090" stroke-width="0.8" />
<polygon points="58.10,209.20 59.90,209.20 59.36,204.70 58.64,204.70" fill="#e0321e"/>
<polygon points="60.00,209.20 61.00,209.20 60.70,207.20 60.30,207.20" fill="#e0321e"/>
<polygon points="58.10,231.00 59.90,231.00 59.36,225.50 58.64,225.50" fill="#e0321e"/>
<polygon points="60.00,231.00 61.00,231.00 60.70,229.00 60.30,229.00" fill="#e0321e"/>
<polygon points="58.10,255.80 59.90,255.80 59.36,249.80 58.64,249.80" fill="#e0321e"/>
<polygon points="60.00,255.80 61.00,255.80 60.70,253.80 60.30,253.80" fill="#e0321e"/>
<rect x="180.60" y="190.60" width="97.20" height="1.00" fill="#1d33dc" opacity="0.75"/>
<rect x="180.60" y="190.60" width="0.70" height="0.61" fill="#1d33dc" />
<rect x="181.40" y="190.60" width="0.70" height="1.18" fill="#1d33dc" />
<rect x="182.20" y="190.60" width="0.70" height="0.61" fill="#1d33dc" />
<rect x="183.00" y="190.60" width="0.70" height="1.26" fill="#1d33dc" />
<rect x="183.80" y="190.60" width="0.70" height="1.24" fill="#1d33dc" />
<rect x="185.40" y="190.60" width="0.70" height="1.04" fill="#1d33dc" />
<rect x="186.20" y="190.60" width="0.70" height="0.91" fill="#1d33dc" />
<rect x="187.80" y="190.60" width="0.70" height="0.52" fill="#1d33dc" />
<rect x="189.40" y="190.60" width="0.70" height="0.70" fill="#1d33dc" />
<rect x="190.20" y="190.60" width="0.70" height="0.86" fill="#1d33dc" />
<rect x="191.80" y="190.60" width="0.70" height="0.72" fill="#1d33dc" />
<rect x="195.80" y="190.60" width="0.70" height="0.70" fill="#1d33dc" />
<rect x="198.20" y="190.60" width="0.70" height="1.24" fill="#1d33dc" />
<rect x="200.60" y="190.60" width="0.70" height="1.30" fill="#1d33dc" />
<rect x="202.20" y="190.60" width="0.70" height="1.14" fill="#1d33dc" />
<rect x="203.00" y="190.60" width="0.70" height="0.54" fill="#1d33dc" />
<rect x="203.80" y="190.60" width="0.70" height="0.83" fill="#1d33dc" />
<rect x="204.60" y="190.60" width="0.70" height="1.15" fill="#1d33dc" />
<rect x="209.40" y="190.60" width="0.70" height="0.68" fill="#1d33dc" />
<rect x="212.60" y="190.60" width="0.70" height="0.69" fill="#1d33dc" />
<rect x="215.80" y="190.60" width="0.70" height="0.90" fill="#1d33dc" />
<rect x="219.00" y="190.60" width="0.70" height="0.95" fill="#1d33dc" />
<rect x="220.60" y="190.60" width="0.70" height="1.29" fill="#1d33dc" />
<rect x="222.20" y="190.60" width="0.70" height="0.60" fill="#1d33dc" />
<rect x="223.80" y="190.60" width="0.70" height="0.69" fill="#1d33dc" />
<rect x="224.60" y="190.60" width="0.70" height="1.21" fill="#1d33dc" />
<rect x="228.60" y="190.60" width="0.70" height="0.87" fill="#1d33dc" />
<rect x="231.00" y="190.60" width="0.70" height="0.61" fill="#1d33dc" />
<rect x="231.80" y="190.60" width="0.70" height="1.23" fill="#1d33dc" />
<rect x="235.00" y="190.60" width="0.70" height="1.27" fill="#1d33dc" />
<rect x="236.60" y="190.60" width="0.70" height="0.51" fill="#1d33dc" />
<rect x="237.40" y="190.60" width="0.70" height="0.78" fill="#1d33dc" />
<rect x="238.20" y="190.60" width="0.70" height="0.55" fill="#1d33dc" />
<rect x="239.00" y="190.60" width="0.70" height="1.37" fill="#1d33dc" />
<rect x="239.80" y="190.60" width="0.70" height="1.11" fill="#1d33dc" />
<rect x="240.60" y="190.60" width="0.70" height="0.69" fill="#1d33dc" />
<rect x="242.20" y="190.60" width="0.70" height="0.68" fill="#1d33dc" />
<rect x="246.20" y="190.60" width="0.70" height="1.02" fill="#1d33dc" />
<rect x="250.20" y="190.60" width="0.70" height="0.62" fill="#1d33dc" />
<rect x="255.00" y="190.60" width="0.70" height="1.35" fill="#1d33dc" />
<rect x="255.80" y="190.60" width="0.70" height="0.92" fill="#1d33dc" />
<rect x="256.60" y="190.60" width="0.70" height="0.88" fill="#1d33dc" />
<rect x="257.40" y="190.60" width="0.70" height="0.93" fill="#1d33dc" />
<rect x="259.80" y="190.60" width="0.70" height="1.28" fill="#1d33dc" />
<rect x="262.20" y="190.60" width="0.70" height="1.11" fill="#1d33dc" />
<rect x="263.80" y="190.60" width="0.70" height="0.70" fill="#1d33dc" />
<rect x="265.40" y="190.60" width="0.70" height="0.90" fill="#1d33dc" />
<rect x="267.00" y="190.60" width="0.70" height="0.70" fill="#1d33dc" />
<rect x="267.80" y="190.60" width="0.70" height="0.85" fill="#1d33dc" />
<rect x="269.40" y="190.60" width="0.70" height="1.27" fill="#1d33dc" />
<rect x="270.20" y="190.60" width="0.70" height="0.75" fill="#1d33dc" />
<rect x="274.20" y="190.60" width="0.70" height="0.68" fill="#1d33dc" />
<rect x="275.00" y="190.60" width="0.70" height="0.98" fill="#1d33dc" />
<rect x="275.80" y="190.60" width="0.70" height="0.97" fill="#1d33dc" />
<rect x="276.60" y="190.60" width="0.70" height="0.50" fill="#1d33dc" />
<rect x="277.40" y="190.60" width="0.70" height="1.26" fill="#1d33dc" />
<polygon points="186.00,190.60 187.00,190.60 186.75,192.60 186.30,192.60" fill="#1d33dc"/>
<polygon points="212.00,190.60 213.00,190.60 212.75,193.10 212.30,193.10" fill="#1d33dc"/>
<polygon points="250.00,190.60 251.00,190.60 250.75,192.10 250.30,192.10" fill="#1d33dc"/>
<polygon points="232.00,190.60 233.00,190.60 232.75,192.10 232.30,192.10" fill="#1d33dc"/>
<line x1="180.60" y1="190.25" x2="283.00" y2="190.25" stroke="#6058b0" stroke-width="0.8" />
<rect x="180.60" y="209.80" width="97.20" height="0.80" fill="#1d33dc" opacity="0.75"/>
<rect x="180.60" y="209.80" width="0.70" height="0.78" fill="#1d33dc" />
<rect x="181.40" y="209.80" width="0.70" height="1.67" fill="#1d33dc" />
<rect x="183.80" y="209.80" width="0.70" height="1.16" fill="#1d33dc" />
<rect x="187.80" y="209.80" width="0.70" height="0.50" fill="#1d33dc" />
<rect x="189.40" y="209.80" width="0.70" height="0.51" fill="#1d33dc" />
<rect x="193.40" y="209.80" width="0.70" height="0.61" fill="#1d33dc" />
<rect x="194.20" y="209.80" width="0.70" height="1.77" fill="#1d33dc" />
<rect x="195.00" y="209.80" width="0.70" height="0.71" fill="#1d33dc" />
<rect x="195.80" y="209.80" width="0.70" height="0.56" fill="#1d33dc" />
<rect x="196.60" y="209.80" width="0.70" height="0.96" fill="#1d33dc" />
<rect x="197.40" y="209.80" width="0.70" height="0.90" fill="#1d33dc" />
<rect x="199.00" y="209.80" width="0.70" height="1.56" fill="#1d33dc" />
<rect x="203.80" y="209.80" width="0.70" height="0.93" fill="#1d33dc" />
<rect x="204.60" y="209.80" width="0.70" height="1.02" fill="#1d33dc" />
<rect x="206.20" y="209.80" width="0.70" height="0.59" fill="#1d33dc" />
<rect x="208.60" y="209.80" width="0.70" height="1.41" fill="#1d33dc" />
<rect x="209.40" y="209.80" width="0.70" height="0.58" fill="#1d33dc" />
<rect x="211.00" y="209.80" width="0.70" height="0.89" fill="#1d33dc" />
<rect x="211.80" y="209.80" width="0.70" height="0.75" fill="#1d33dc" />
<rect x="212.60" y="209.80" width="0.70" height="0.51" fill="#1d33dc" />
<rect x="220.60" y="209.80" width="0.70" height="0.99" fill="#1d33dc" />
<rect x="222.20" y="209.80" width="0.70" height="1.60" fill="#1d33dc" />
<rect x="226.20" y="209.80" width="0.70" height="0.82" fill="#1d33dc" />
<rect x="227.00" y="209.80" width="0.70" height="0.54" fill="#1d33dc" />
<rect x="231.00" y="209.80" width="0.70" height="1.76" fill="#1d33dc" />
<rect x="233.40" y="209.80" width="0.70" height="0.91" fill="#1d33dc" />
<rect x="234.20" y="209.80" width="0.70" height="0.98" fill="#1d33dc" />
<rect x="235.00" y="209.80" width="0.70" height="1.43" fill="#1d33dc" />
<rect x="236.60" y="209.80" width="0.70" height="1.51" fill="#1d33dc" />
<rect x="239.80" y="209.80" width="0.70" height="1.57" fill="#1d33dc" />
<rect x="240.60" y="209.80" width="0.70" height="1.75" fill="#1d33dc" />
<rect x="241.40" y="209.80" width="0.70" height="0.50" fill="#1d33dc" />
<rect x="245.40" y="209.80" width="0.70" height="0.65" fill="#1d33dc" />
<rect x="246.20" y="209.80" width="0.70" height="1.74" fill="#1d33dc" />
<rect x="247.80" y="209.80" width="0.70" height="1.07" fill="#1d33dc" />
<rect x="250.20" y="209.80" width="0.70" height="1.58" fill="#1d33dc" />
<rect x="251.00" y="209.80" width="0.70" height="1.21" fill="#1d33dc" />
<rect x="251.80" y="209.80" width="0.70" height="0.61" fill="#1d33dc" />
<rect x="256.60" y="209.80" width="0.70" height="1.27" fill="#1d33dc" />
<rect x="259.00" y="209.80" width="0.70" height="0.74" fill="#1d33dc" />
<rect x="261.40" y="209.80" width="0.70" height="0.91" fill="#1d33dc" />
<rect x="263.80" y="209.80" width="0.70" height="1.78" fill="#1d33dc" />
<rect x="265.40" y="209.80" width="0.70" height="0.53" fill="#1d33dc" />
<rect x="267.80" y="209.80" width="0.70" height="0.61" fill="#1d33dc" />
<rect x="270.20" y="209.80" width="0.70" height="1.11" fill="#1d33dc" />
<rect x="272.60" y="209.80" width="0.70" height="0.86" fill="#1d33dc" />
<rect x="273.40" y="209.80" width="0.70" height="0.76" fill="#1d33dc" />
<rect x="274.20" y="209.80" width="0.70" height="1.01" fill="#1d33dc" />
<rect x="275.00" y="209.80" width="0.70" height="1.60" fill="#1d33dc" />
<rect x="275.80" y="209.80" width="0.70" height="1.75" fill="#1d33dc" />
<rect x="277.40" y="209.80" width="0.70" height="0.70" fill="#1d33dc" />
<polygon points="188.50,209.80 190.50,209.80 190.00,220.80 189.10,220.80" fill="#1d33dc"/>
<polygon points="196.60,209.80 198.60,209.80 198.10,222.30 197.20,222.30" fill="#1d33dc"/>
<polygon points="202.40,209.80 203.40,209.80 203.15,212.80 202.70,212.80" fill="#1d33dc"/>
<polygon points="212.00,209.80 213.60,209.80 213.20,215.80 212.48,215.80" fill="#1d33dc"/>
<polygon points="220.50,209.80 221.50,209.80 221.25,212.30 220.80,212.30" fill="#1d33dc"/>
<polygon points="235.40,209.80 237.20,209.80 236.75,220.80 235.94,220.80" fill="#1d33dc"/>
<polygon points="247.00,209.80 248.00,209.80 247.75,212.80 247.30,212.80" fill="#1d33dc"/>
<polygon points="249.50,209.80 250.50,209.80 250.25,212.80 249.80,212.80" fill="#1d33dc"/>
<polygon points="254.50,209.80 257.00,209.80 256.38,215.80 255.25,215.80" fill="#1d33dc"/>
<polygon points="258.00,209.80 259.00,209.80 258.75,212.80 258.30,212.80" fill="#1d33dc"/>
<polygon points="263.00,209.80 264.00,209.80 263.75,212.30 263.30,212.30" fill="#1d33dc"/>
<polygon points="274.50,209.80 275.50,209.80 275.25,212.30 274.80,212.30" fill="#1d33dc"/>
<line x1="180.60" y1="209.45" x2="283.00" y2="209.45" stroke="#d09090" stroke-width="0.8" />
<rect x="180.60" y="232.50" width="97.20" height="0.80" fill="#1d33dc" opacity="0.75"/>
<rect x="183.00" y="232.50" width="0.70" height="1.80" fill="#1d33dc" />
<rect x="185.40" y="232.50" width="0.70" height="1.80" fill="#1d33dc" />
<rect x="189.40" y="232.50" width="0.70" height="2.39" fill="#1d33dc" />
<rect x="191.00" y="232.50" width="0.70" height="1.12" fill="#1d33dc" />
<rect x="192.60" y="232.50" width="0.70" height="1.72" fill="#1d33dc" />
<rect x="194.20" y="232.50" width="0.70" height="2.19" fill="#1d33dc" />
<rect x="197.40" y="232.50" width="0.70" height="0.61" fill="#1d33dc" />
<rect x="199.00" y="232.50" width="0.70" height="0.93" fill="#1d33dc" />
<rect x="201.40" y="232.50" width="0.70" height="1.14" fill="#1d33dc" />
<rect x="202.20" y="232.50" width="0.70" height="1.05" fill="#1d33dc" />
<rect x="203.00" y="232.50" width="0.70" height="1.55" fill="#1d33dc" />
<rect x="203.80" y="232.50" width="0.70" height="1.29" fill="#1d33dc" />
<rect x="204.60" y="232.50" width="0.70" height="0.72" fill="#1d33dc" />
<rect x="205.40" y="232.50" width="0.70" height="2.25" fill="#1d33dc" />
<rect x="207.80" y="232.50" width="0.70" height="0.80" fill="#1d33dc" />
<rect x="208.60" y="232.50" width="0.70" height="1.13" fill="#1d33dc" />
<rect x="209.40" y="232.50" width="0.70" height="1.05" fill="#1d33dc" />
<rect x="210.20" y="232.50" width="0.70" height="0.89" fill="#1d33dc" />
<rect x="213.40" y="232.50" width="0.70" height="1.58" fill="#1d33dc" />
<rect x="215.00" y="232.50" width="0.70" height="0.64" fill="#1d33dc" />
<rect x="216.60" y="232.50" width="0.70" height="2.06" fill="#1d33dc" />
<rect x="217.40" y="232.50" width="0.70" height="2.25" fill="#1d33dc" />
<rect x="218.20" y="232.50" width="0.70" height="1.58" fill="#1d33dc" />
<rect x="219.00" y="232.50" width="0.70" height="1.13" fill="#1d33dc" />
<rect x="221.40" y="232.50" width="0.70" height="1.49" fill="#1d33dc" />
<rect x="223.00" y="232.50" width="0.70" height="0.67" fill="#1d33dc" />
<rect x="226.20" y="232.50" width="0.70" height="1.51" fill="#1d33dc" />
<rect x="227.00" y="232.50" width="0.70" height="2.25" fill="#1d33dc" />
<rect x="229.40" y="232.50" width="0.70" height="1.29" fill="#1d33dc" />
<rect x="231.00" y="232.50" width="0.70" height="0.71" fill="#1d33dc" />
<rect x="231.80" y="232.50" width="0.70" height="1.92" fill="#1d33dc" />
<rect x="233.40" y="232.50" width="0.70" height="1.75" fill="#1d33dc" />
<rect x="236.60" y="232.50" width="0.70" height="2.12" fill="#1d33dc" />
<rect x="243.80" y="232.50" width="0.70" height="0.68" fill="#1d33dc" />
<rect x="244.60" y="232.50" width="0.70" height="1.67" fill="#1d33dc" />
<rect x="246.20" y="232.50" width="0.70" height="0.88" fill="#1d33dc" />
<rect x="247.80" y="232.50" width="0.70" height="2.35" fill="#1d33dc" />
<rect x="251.80" y="232.50" width="0.70" height="2.38" fill="#1d33dc" />
<rect x="252.60" y="232.50" width="0.70" height="2.33" fill="#1d33dc" />
<rect x="254.20" y="232.50" width="0.70" height="0.58" fill="#1d33dc" />
<rect x="255.00" y="232.50" width="0.70" height="2.06" fill="#1d33dc" />
<rect x="256.60" y="232.50" width="0.70" height="0.73" fill="#1d33dc" />
<rect x="257.40" y="232.50" width="0.70" height="2.10" fill="#1d33dc" />
<rect x="262.20" y="232.50" width="0.70" height="0.51" fill="#1d33dc" />
<rect x="264.60" y="232.50" width="0.70" height="0.76" fill="#1d33dc" />
<rect x="265.40" y="232.50" width="0.70" height="1.18" fill="#1d33dc" />
<rect x="267.00" y="232.50" width="0.70" height="0.90" fill="#1d33dc" />
<rect x="267.80" y="232.50" width="0.70" height="0.91" fill="#1d33dc" />
<rect x="268.60" y="232.50" width="0.70" height="0.70" fill="#1d33dc" />
<rect x="269.40" y="232.50" width="0.70" height="0.76" fill="#1d33dc" />
<rect x="273.40" y="232.50" width="0.70" height="0.55" fill="#1d33dc" />
<rect x="274.20" y="232.50" width="0.70" height="1.17" fill="#1d33dc" />
<rect x="275.00" y="232.50" width="0.70" height="1.01" fill="#1d33dc" />
<rect x="275.80" y="232.50" width="0.70" height="2.17" fill="#1d33dc" />
<rect x="276.60" y="232.50" width="0.70" height="1.40" fill="#1d33dc" />
<rect x="277.40" y="232.50" width="0.70" height="1.06" fill="#1d33dc" />
<polygon points="188.30,232.50 190.30,232.50 189.80,241.50 188.90,241.50" fill="#1d33dc"/>
<polygon points="195.70,232.50 199.00,232.50 198.17,247.00 196.69,247.00" fill="#1d33dc"/>
<polygon points="202.40,232.50 203.70,232.50 203.38,236.50 202.79,236.50" fill="#1d33dc"/>
<polygon points="211.10,232.50 213.80,232.50 213.12,249.50 211.91,249.50" fill="#1d33dc"/>
<polygon points="217.90,232.50 219.90,232.50 219.40,242.00 218.50,242.00" fill="#1d33dc"/>
<polygon points="221.40,232.50 222.40,232.50 222.15,237.50 221.70,237.50" fill="#1d33dc"/>
<polygon points="227.00,232.50 228.60,232.50 228.20,238.50 227.48,238.50" fill="#1d33dc"/>
<polygon points="231.00,232.50 232.50,232.50 232.12,240.50 231.45,240.50" fill="#1d33dc"/>
<polygon points="233.50,232.50 235.00,232.50 234.62,239.50 233.95,239.50" fill="#1d33dc"/>
<polygon points="235.40,232.50 236.70,232.50 236.38,241.00 235.79,241.00" fill="#1d33dc"/>
<polygon points="247.60,232.50 249.10,232.50 248.72,239.50 248.05,239.50" fill="#1d33dc"/>
<polygon points="254.50,232.50 257.20,232.50 256.52,250.50 255.31,250.50" fill="#1d33dc"/>
<polygon points="258.80,232.50 260.10,232.50 259.78,242.50 259.19,242.50" fill="#1d33dc"/>
<polygon points="263.40,232.50 264.70,232.50 264.38,237.00 263.79,237.00" fill="#1d33dc"/>
<polygon points="275.00,232.50 276.50,232.50 276.12,242.50 275.45,242.50" fill="#1d33dc"/>
<line x1="180.60" y1="232.15" x2="283.00" y2="232.15" stroke="#d09090" stroke-width="0.8" />
<rect x="180.60" y="257.90" width="97.20" height="0.80" fill="#1d33dc" opacity="0.75"/>
<rect x="184.60" y="257.90" width="0.70" height="2.40" fill="#1d33dc" />
<rect x="185.40" y="257.90" width="0.70" height="1.11" fill="#1d33dc" />
<rect x="186.20" y="257.90" width="0.70" height="1.52" fill="#1d33dc" />
<rect x="187.00" y="257.90" width="0.70" height="1.05" fill="#1d33dc" />
<rect x="190.20" y="257.90" width="0.70" height="0.62" fill="#1d33dc" />
<rect x="191.00" y="257.90" width="0.70" height="1.60" fill="#1d33dc" />
<rect x="195.80" y="257.90" width="0.70" height="1.13" fill="#1d33dc" />
<rect x="196.60" y="257.90" width="0.70" height="1.57" fill="#1d33dc" />
<rect x="199.00" y="257.90" width="0.70" height="1.35" fill="#1d33dc" />
<rect x="199.80" y="257.90" width="0.70" height="2.13" fill="#1d33dc" />
<rect x="203.00" y="257.90" width="0.70" height="0.73" fill="#1d33dc" />
<rect x="203.80" y="257.90" width="0.70" height="2.31" fill="#1d33dc" />
<rect x="205.40" y="257.90" width="0.70" height="2.05" fill="#1d33dc" />
<rect x="206.20" y="257.90" width="0.70" height="2.23" fill="#1d33dc" />
<rect x="207.00" y="257.90" width="0.70" height="1.98" fill="#1d33dc" />
<rect x="208.60" y="257.90" width="0.70" height="1.42" fill="#1d33dc" />
<rect x="209.40" y="257.90" width="0.70" height="1.05" fill="#1d33dc" />
<rect x="210.20" y="257.90" width="0.70" height="1.09" fill="#1d33dc" />
<rect x="211.00" y="257.90" width="0.70" height="1.10" fill="#1d33dc" />
<rect x="211.80" y="257.90" width="0.70" height="1.55" fill="#1d33dc" />
<rect x="212.60" y="257.90" width="0.70" height="0.95" fill="#1d33dc" />
<rect x="214.20" y="257.90" width="0.70" height="1.56" fill="#1d33dc" />
<rect x="219.00" y="257.90" width="0.70" height="1.97" fill="#1d33dc" />
<rect x="219.80" y="257.90" width="0.70" height="1.14" fill="#1d33dc" />
<rect x="222.20" y="257.90" width="0.70" height="1.23" fill="#1d33dc" />
<rect x="223.00" y="257.90" width="0.70" height="2.37" fill="#1d33dc" />
<rect x="224.60" y="257.90" width="0.70" height="1.56" fill="#1d33dc" />
<rect x="225.40" y="257.90" width="0.70" height="1.04" fill="#1d33dc" />
<rect x="230.20" y="257.90" width="0.70" height="1.89" fill="#1d33dc" />
<rect x="231.80" y="257.90" width="0.70" height="2.37" fill="#1d33dc" />
<rect x="233.40" y="257.90" width="0.70" height="2.13" fill="#1d33dc" />
<rect x="235.00" y="257.90" width="0.70" height="1.43" fill="#1d33dc" />
<rect x="237.40" y="257.90" width="0.70" height="2.00" fill="#1d33dc" />
<rect x="243.80" y="257.90" width="0.70" height="1.43" fill="#1d33dc" />
<rect x="245.40" y="257.90" width="0.70" height="0.79" fill="#1d33dc" />
<rect x="246.20" y="257.90" width="0.70" height="2.39" fill="#1d33dc" />
<rect x="247.00" y="257.90" width="0.70" height="2.47" fill="#1d33dc" />
<rect x="249.40" y="257.90" width="0.70" height="2.26" fill="#1d33dc" />
<rect x="251.00" y="257.90" width="0.70" height="1.84" fill="#1d33dc" />
<rect x="253.40" y="257.90" width="0.70" height="0.97" fill="#1d33dc" />
<rect x="256.60" y="257.90" width="0.70" height="2.26" fill="#1d33dc" />
<rect x="259.80" y="257.90" width="0.70" height="1.57" fill="#1d33dc" />
<rect x="263.00" y="257.90" width="0.70" height="2.06" fill="#1d33dc" />
<rect x="263.80" y="257.90" width="0.70" height="2.27" fill="#1d33dc" />
<rect x="266.20" y="257.90" width="0.70" height="1.11" fill="#1d33dc" />
<rect x="267.00" y="257.90" width="0.70" height="1.51" fill="#1d33dc" />
<rect x="267.80" y="257.90" width="0.70" height="0.63" fill="#1d33dc" />
<rect x="268.60" y="257.90" width="0.70" height="2.23" fill="#1d33dc" />
<rect x="273.40" y="257.90" width="0.70" height="1.72" fill="#1d33dc" />
<rect x="274.20" y="257.90" width="0.70" height="1.39" fill="#1d33dc" />
<rect x="275.00" y="257.90" width="0.70" height="1.42" fill="#1d33dc" />
<polygon points="188.30,257.90 190.30,257.90 189.80,269.30 188.90,269.30" fill="#1d33dc"/>
<polygon points="195.70,257.90 199.00,257.90 198.17,275.90 196.69,275.90" fill="#1d33dc"/>
<polygon points="202.40,257.90 203.70,257.90 203.38,262.60 202.79,262.60" fill="#1d33dc"/>
<polygon points="211.10,257.90 213.80,257.90 213.12,278.40 211.91,278.40" fill="#1d33dc"/>
<polygon points="217.90,257.90 219.90,257.90 219.40,268.90 218.50,268.90" fill="#1d33dc"/>
<polygon points="221.40,257.90 222.40,257.90 222.15,263.90 221.70,263.90" fill="#1d33dc"/>
<polygon points="227.30,257.90 228.60,257.90 228.28,261.90 227.69,261.90" fill="#1d33dc"/>
<polygon points="231.00,257.90 232.50,257.90 232.12,266.90 231.45,266.90" fill="#1d33dc"/>
<polygon points="233.50,257.90 235.00,257.90 234.62,264.90 233.95,264.90" fill="#1d33dc"/>
<polygon points="235.40,257.90 236.70,257.90 236.38,266.40 235.79,266.40" fill="#1d33dc"/>
<polygon points="247.60,257.90 249.10,257.90 248.72,265.90 248.05,265.90" fill="#1d33dc"/>
<polygon points="254.50,257.90 257.20,257.90 256.52,276.90 255.31,276.90" fill="#1d33dc"/>
<polygon points="258.80,257.90 260.10,257.90 259.78,268.90 259.19,268.90" fill="#1d33dc"/>
<polygon points="263.40,257.90 264.70,257.90 264.38,263.90 263.79,263.90" fill="#1d33dc"/>
<polygon points="275.00,257.90 276.50,257.90 276.12,267.90 275.45,267.90" fill="#1d33dc"/>
<line x1="180.60" y1="257.55" x2="283.00" y2="257.55" stroke="#d09090" stroke-width="0.8" />
<text x="7.3" y="304.3" font-size="11.6" text-anchor="start" font-weight="bold" font-style="normal" fill="#000" >C</text>
<text x="81.8" y="319.6" font-size="8.6" text-anchor="middle" font-weight="bold" font-style="normal" fill="#000" stroke="#000" stroke-width="0.1" textLength="41.5" lengthAdjust="spacingAndGlyphs" >‘up” genes</text>
<text x="216.3" y="319.2" font-size="8.6" text-anchor="middle" font-weight="bold" font-style="normal" fill="#000" stroke="#000" stroke-width="0.1" textLength="55.5" lengthAdjust="spacingAndGlyphs" >“down” genes</text>
<defs><linearGradient id="cb1" x1="0" x2="1" y1="0" y2="0"><stop offset="0" stop-color="#dc3048"/><stop offset="0.18" stop-color="#e04a5c"/><stop offset="0.32" stop-color="#ec8a9a"/><stop offset="0.45" stop-color="#f4c8d4"/><stop offset="0.55" stop-color="#f0e4f0"/><stop offset="0.68" stop-color="#cfcff0"/><stop offset="0.8" stop-color="#9898e0"/><stop offset="0.88" stop-color="#4848c8"/><stop offset="0.93" stop-color="#2424a8"/><stop offset="1" stop-color="#1c1c98"/></linearGradient></defs>
<line x1="34.60" y1="360.50" x2="124.80" y2="360.50" stroke="#aaa" stroke-width="0.5" stroke-dasharray="1,1"/>
<line x1="34.60" y1="362.50" x2="124.80" y2="362.50" stroke="#bbb" stroke-width="0.5" />
<line x1="36.24" y1="363.40" x2="36.24" y2="375.50" stroke="#555" stroke-width="0.4" />
<line x1="37.27" y1="363.40" x2="37.27" y2="375.50" stroke="#555" stroke-width="0.4" />
<line x1="38.70" y1="363.40" x2="38.70" y2="375.50" stroke="#555" stroke-width="0.4" />
<line x1="40.34" y1="363.40" x2="40.34" y2="375.50" stroke="#555" stroke-width="0.4" />
<line x1="51.61" y1="363.40" x2="51.61" y2="375.50" stroke="#555" stroke-width="0.4" />
<line x1="56.74" y1="363.40" x2="56.74" y2="375.50" stroke="#555" stroke-width="0.4" />
<line x1="61.86" y1="363.40" x2="61.86" y2="375.50" stroke="#555" stroke-width="0.4" />
<line x1="68.02" y1="363.40" x2="68.02" y2="375.50" stroke="#555" stroke-width="0.4" />
<line x1="70.06" y1="363.40" x2="70.06" y2="375.50" stroke="#555" stroke-width="0.4" />
<line x1="74.16" y1="363.40" x2="74.16" y2="375.50" stroke="#555" stroke-width="0.4" />
<line x1="76.22" y1="363.40" x2="76.22" y2="375.50" stroke="#555" stroke-width="0.4" />
<line x1="79.29" y1="363.40" x2="79.29" y2="375.50" stroke="#555" stroke-width="0.4" />
<line x1="83.39" y1="363.40" x2="83.39" y2="375.50" stroke="#555" stroke-width="0.4" />
<line x1="84.41" y1="363.40" x2="84.41" y2="375.50" stroke="#555" stroke-width="0.4" />
<line x1="86.46" y1="363.40" x2="86.46" y2="375.50" stroke="#555" stroke-width="0.4" />
<line x1="89.54" y1="363.40" x2="89.54" y2="375.50" stroke="#555" stroke-width="0.4" />
<line x1="91.59" y1="363.40" x2="91.59" y2="375.50" stroke="#555" stroke-width="0.4" />
<line x1="92.61" y1="363.40" x2="92.61" y2="375.50" stroke="#555" stroke-width="0.4" />
<line x1="95.69" y1="363.40" x2="95.69" y2="375.50" stroke="#555" stroke-width="0.4" />
<line x1="99.79" y1="363.40" x2="99.79" y2="375.50" stroke="#555" stroke-width="0.4" />
<line x1="111.06" y1="363.40" x2="111.06" y2="375.50" stroke="#555" stroke-width="0.4" />
<line x1="118.24" y1="363.40" x2="118.24" y2="375.50" stroke="#555" stroke-width="0.4" />
<line x1="34.60" y1="375.70" x2="124.80" y2="375.70" stroke="#bbb" stroke-width="0.4" />
<rect x="34.60" y="375.70" width="90.20" height="3.30" fill="url(#cb1)" />
<rect x="36.10" y="380.00" width="21.00" height="0.90" fill="#f0a0aa" />
<polygon points="34.60,382.50 37.31,385.00 43.62,387.50 52.64,389.50 66.17,390.80 79.70,391.30 93.23,391.60 104.96,392.60 108.56,393.50 115.78,395.50 121.19,398.00 124.80,400.50 124.80,391.30 34.60,391.30" fill="#c4c4c4"/>
<rect x="72.70" y="390.90" width="14.00" height="0.70" fill="#bbb" />
<rect x="102.80" y="401.20" width="20.00" height="0.80" fill="#c0c0ec" />
<line x1="79.70" y1="379.00" x2="79.70" y2="403.60" stroke="#ddd" stroke-width="0.4" stroke-dasharray="0.8,0.8"/>
<polyline points="34.60,344.60 35.68,334.40 37.31,329.20 39.11,327.80 40.37,327.20 42.27,328.20 46.33,330.30 50.38,332.30 52.46,331.30 54.44,333.30 60.76,334.80 70.68,339.50 90.52,349.80 101.35,353.90 109.47,359.00 111.72,357.40 117.58,360.70 119.39,357.40 124.80,360.00" fill="none" stroke="#46c846" stroke-width="1.15"/>
<rect x="34.60" y="325.30" width="93.70" height="78.30" fill="none" stroke="#111" stroke-width="1.0"/>
<line x1="34.60" y1="325.30" x2="34.60" y2="403.60" stroke="#111" stroke-width="1.4" />
<line x1="32.10" y1="360.50" x2="34.60" y2="360.50" stroke="#111" stroke-width="1.1" />
<text x="28.6" y="361.8" font-size="4.0" text-anchor="middle" font-weight="normal" font-style="normal" fill="#444" stroke="#444" stroke-width="0.1" >0.0</text>
<line x1="32.10" y1="355.22" x2="34.60" y2="355.22" stroke="#111" stroke-width="1.1" />
<text x="28.6" y="356.5166666666667" font-size="4.0" text-anchor="middle" font-weight="normal" font-style="normal" fill="#444" stroke="#444" stroke-width="0.1" >0.1</text>
<line x1="32.10" y1="349.93" x2="34.60" y2="349.93" stroke="#111" stroke-width="1.1" />
<text x="28.6" y="351.23333333333335" font-size="4.0" text-anchor="middle" font-weight="normal" font-style="normal" fill="#444" stroke="#444" stroke-width="0.1" >0.2</text>
<line x1="32.10" y1="344.65" x2="34.60" y2="344.65" stroke="#111" stroke-width="1.1" />
<text x="28.6" y="345.95" font-size="4.0" text-anchor="middle" font-weight="normal" font-style="normal" fill="#444" stroke="#444" stroke-width="0.1" >0.3</text>
<line x1="32.10" y1="339.37" x2="34.60" y2="339.37" stroke="#111" stroke-width="1.1" />
<text x="28.6" y="340.6666666666667" font-size="4.0" text-anchor="middle" font-weight="normal" font-style="normal" fill="#444" stroke="#444" stroke-width="0.1" >0.4</text>
<line x1="32.10" y1="334.08" x2="34.60" y2="334.08" stroke="#111" stroke-width="1.1" />
<text x="28.6" y="335.3833333333334" font-size="4.0" text-anchor="middle" font-weight="normal" font-style="normal" fill="#444" stroke="#444" stroke-width="0.1" >0.5</text>
<line x1="32.10" y1="328.80" x2="34.60" y2="328.80" stroke="#111" stroke-width="1.1" />
<text x="28.6" y="330.1" font-size="4.0" text-anchor="middle" font-weight="normal" font-style="normal" fill="#444" stroke="#444" stroke-width="0.1" >0.6</text>
<line x1="32.10" y1="380.50" x2="34.60" y2="380.50" stroke="#111" stroke-width="1.1" />
<text x="28.6" y="381.8" font-size="4.0" text-anchor="middle" font-weight="normal" font-style="normal" fill="#444" stroke="#444" stroke-width="0.1" >0.8</text>
<line x1="32.10" y1="386.10" x2="34.60" y2="386.10" stroke="#111" stroke-width="1.1" />
<text x="28.6" y="387.40000000000003" font-size="4.0" text-anchor="middle" font-weight="normal" font-style="normal" fill="#444" stroke="#444" stroke-width="0.1" >0.4</text>
<line x1="32.10" y1="391.70" x2="34.60" y2="391.70" stroke="#111" stroke-width="1.1" />
<text x="28.6" y="393.0" font-size="4.0" text-anchor="middle" font-weight="normal" font-style="normal" fill="#444" stroke="#444" stroke-width="0.1" >0.0</text>
<line x1="32.10" y1="397.30" x2="34.60" y2="397.30" stroke="#111" stroke-width="1.1" />
<text x="28.6" y="398.6" font-size="4.0" text-anchor="middle" font-weight="normal" font-style="normal" fill="#444" stroke="#444" stroke-width="0.1" >-0.4</text>
<line x1="32.10" y1="402.90" x2="34.60" y2="402.90" stroke="#111" stroke-width="1.1" />
<text x="28.6" y="404.2" font-size="4.0" text-anchor="middle" font-weight="normal" font-style="normal" fill="#444" stroke="#444" stroke-width="0.1" >-0.8</text>
<line x1="34.60" y1="403.60" x2="34.60" y2="405.40" stroke="#111" stroke-width="0.8" />
<text x="34.6" y="410.6" font-size="4.0" text-anchor="middle" font-weight="normal" font-style="normal" fill="#444" stroke="#444" stroke-width="0.1" >0</text>
<line x1="51.47" y1="403.60" x2="51.47" y2="405.40" stroke="#111" stroke-width="0.8" />
<text x="51.4674" y="410.6" font-size="4.0" text-anchor="middle" font-weight="normal" font-style="normal" fill="#444" stroke="#444" stroke-width="0.1" >2,000</text>
<line x1="68.33" y1="403.60" x2="68.33" y2="405.40" stroke="#111" stroke-width="0.8" />
<text x="68.3348" y="410.6" font-size="4.0" text-anchor="middle" font-weight="normal" font-style="normal" fill="#444" stroke="#444" stroke-width="0.1" >4,000</text>
<line x1="85.20" y1="403.60" x2="85.20" y2="405.40" stroke="#111" stroke-width="0.8" />
<text x="85.20219999999999" y="410.6" font-size="4.0" text-anchor="middle" font-weight="normal" font-style="normal" fill="#444" stroke="#444" stroke-width="0.1" >6,000</text>
<line x1="102.07" y1="403.60" x2="102.07" y2="405.40" stroke="#111" stroke-width="0.8" />
<text x="102.06959999999998" y="410.6" font-size="4.0" text-anchor="middle" font-weight="normal" font-style="normal" fill="#444" stroke="#444" stroke-width="0.1" >8,000</text>
<line x1="118.94" y1="403.60" x2="118.94" y2="405.40" stroke="#111" stroke-width="0.8" />
<text x="118.93699999999998" y="410.6" font-size="4.0" text-anchor="middle" font-weight="normal" font-style="normal" fill="#444" stroke="#444" stroke-width="0.1" >10,000</text>
<text x="81.50399999999999" y="418.90000000000003" font-size="5.2" text-anchor="middle" font-weight="bold" font-style="normal" fill="#222" stroke="#222" stroke-width="0.15" textLength="35" lengthAdjust="spacingAndGlyphs" >Rank in ordered dataset</text>
<line x1="34.60" y1="428.10" x2="40.10" y2="428.10" stroke="#90d090" stroke-width="0.9" />
<text x="41.6" y="429.40000000000003" font-size="4.0" text-anchor="start" font-weight="normal" font-style="normal" fill="#333" textLength="20" lengthAdjust="spacingAndGlyphs" >Enrichment profile</text>
<line x1="70.60" y1="428.10" x2="76.10" y2="428.10" stroke="#222" stroke-width="0.9" />
<text x="77.6" y="429.40000000000003" font-size="4.0" text-anchor="start" font-weight="normal" font-style="normal" fill="#333" textLength="5" lengthAdjust="spacingAndGlyphs" >Hits</text>
<line x1="87.60" y1="428.10" x2="91.60" y2="428.10" stroke="#999" stroke-width="0.6" stroke-dasharray="0.8,0.8"/>
<text x="93.1" y="429.40000000000003" font-size="4.0" text-anchor="start" font-weight="normal" font-style="normal" fill="#333" textLength="36" lengthAdjust="spacingAndGlyphs" >Ranking metric scores</text>
<text x="39.3" y="348.0" font-size="6.8" text-anchor="start" font-weight="normal" font-style="normal" fill="#111" stroke="#111" stroke-width="0.2" textLength="26.5" lengthAdjust="spacingAndGlyphs" >NES=1.72</text>
<text x="39.3" y="354.1" font-size="6.8" text-anchor="start" font-weight="normal" font-style="normal" fill="#111" stroke="#111" stroke-width="0.2" textLength="21" lengthAdjust="spacingAndGlyphs" >p=0.007</text>
<text transform="translate(19.3,343.90) rotate(-90)" font-size="4.6" font-weight="bold" text-anchor="middle" fill="#222" stroke="#222" stroke-width="0.15" textLength="31" lengthAdjust="spacingAndGlyphs">Enrichment score (ES)</text>
<text transform="translate(11.4,391.30) rotate(-90)" font-size="4.6" font-weight="bold" text-anchor="middle" fill="#222" stroke="#222" stroke-width="0.15" textLength="23" lengthAdjust="spacingAndGlyphs">Ranked list metric</text>
<text transform="translate(17.400000000000002,391.30) rotate(-90)" font-size="4.6" font-weight="bold" text-anchor="middle" fill="#222" stroke="#222" stroke-width="0.15" textLength="20" lengthAdjust="spacingAndGlyphs">(Signal2Noise)</text>
<defs><linearGradient id="cb2" x1="0" x2="1" y1="0" y2="0"><stop offset="0" stop-color="#dc3048"/><stop offset="0.18" stop-color="#e04a5c"/><stop offset="0.32" stop-color="#ec8a9a"/><stop offset="0.45" stop-color="#f4c8d4"/><stop offset="0.55" stop-color="#f0e4f0"/><stop offset="0.68" stop-color="#cfcff0"/><stop offset="0.8" stop-color="#9898e0"/><stop offset="0.88" stop-color="#4848c8"/><stop offset="0.93" stop-color="#2424a8"/><stop offset="1" stop-color="#1c1c98"/></linearGradient></defs>
<line x1="167.50" y1="359.60" x2="261.80" y2="359.60" stroke="#aaa" stroke-width="0.5" stroke-dasharray="1,1"/>
<line x1="167.50" y1="361.60" x2="261.80" y2="361.60" stroke="#bbb" stroke-width="0.5" />
<line x1="171.27" y1="362.50" x2="171.27" y2="374.60" stroke="#555" stroke-width="0.4" />
<line x1="172.53" y1="362.50" x2="172.53" y2="374.60" stroke="#555" stroke-width="0.4" />
<line x1="173.79" y1="362.50" x2="173.79" y2="374.60" stroke="#555" stroke-width="0.4" />
<line x1="177.56" y1="362.50" x2="177.56" y2="374.60" stroke="#555" stroke-width="0.4" />
<line x1="181.33" y1="362.50" x2="181.33" y2="374.60" stroke="#555" stroke-width="0.4" />
<line x1="182.09" y1="362.50" x2="182.09" y2="374.60" stroke="#555" stroke-width="0.4" />
<line x1="183.09" y1="362.50" x2="183.09" y2="374.60" stroke="#555" stroke-width="0.4" />
<line x1="183.85" y1="362.50" x2="183.85" y2="374.60" stroke="#555" stroke-width="0.4" />
<line x1="184.60" y1="362.50" x2="184.60" y2="374.60" stroke="#555" stroke-width="0.4" />
<line x1="185.61" y1="362.50" x2="185.61" y2="374.60" stroke="#555" stroke-width="0.4" />
<line x1="198.18" y1="362.50" x2="198.18" y2="374.60" stroke="#555" stroke-width="0.4" />
<line x1="199.69" y1="362.50" x2="199.69" y2="374.60" stroke="#555" stroke-width="0.4" />
<line x1="201.45" y1="362.50" x2="201.45" y2="374.60" stroke="#555" stroke-width="0.4" />
<line x1="205.22" y1="362.50" x2="205.22" y2="374.60" stroke="#555" stroke-width="0.4" />
<line x1="205.97" y1="362.50" x2="205.97" y2="374.60" stroke="#555" stroke-width="0.4" />
<line x1="207.23" y1="362.50" x2="207.23" y2="374.60" stroke="#555" stroke-width="0.4" />
<line x1="208.24" y1="362.50" x2="208.24" y2="374.60" stroke="#555" stroke-width="0.4" />
<line x1="208.99" y1="362.50" x2="208.99" y2="374.60" stroke="#555" stroke-width="0.4" />
<line x1="210.25" y1="362.50" x2="210.25" y2="374.60" stroke="#555" stroke-width="0.4" />
<line x1="221.57" y1="362.50" x2="221.57" y2="374.60" stroke="#555" stroke-width="0.4" />
<line x1="224.08" y1="362.50" x2="224.08" y2="374.60" stroke="#555" stroke-width="0.4" />
<line x1="225.34" y1="362.50" x2="225.34" y2="374.60" stroke="#555" stroke-width="0.4" />
<line x1="234.14" y1="362.50" x2="234.14" y2="374.60" stroke="#555" stroke-width="0.4" />
<line x1="242.94" y1="362.50" x2="242.94" y2="374.60" stroke="#555" stroke-width="0.4" />
<line x1="247.97" y1="362.50" x2="247.97" y2="374.60" stroke="#555" stroke-width="0.4" />
<line x1="167.50" y1="374.80" x2="261.80" y2="374.80" stroke="#bbb" stroke-width="0.4" />
<rect x="167.50" y="374.80" width="94.30" height="3.30" fill="url(#cb2)" />
<rect x="169.00" y="379.10" width="21.00" height="0.90" fill="#f0a0aa" />
<polygon points="167.50,382.80 170.33,385.00 176.93,388.00 188.25,390.20 200.50,391.10 214.65,391.30 228.80,391.60 238.23,392.50 242.94,393.80 252.37,396.00 258.03,398.50 261.80,402.50 261.80,391.30 167.50,391.30" fill="#c4c4c4"/>
<rect x="207.65" y="390.90" width="14.00" height="0.70" fill="#bbb" />
<rect x="239.80" y="400.90" width="20.00" height="0.80" fill="#c0c0ec" />
<line x1="214.65" y1="378.10" x2="214.65" y2="403.30" stroke="#ddd" stroke-width="0.4" stroke-dasharray="0.8,0.8"/>
<polyline points="167.50,356.00 168.73,352.50 171.27,340.00 173.63,333.75 174.86,331.25 177.31,332.50 179.76,330.00 182.21,328.75 183.53,330.50 185.89,325.50 189.57,327.50 197.02,331.25 204.28,333.00 214.18,337.50 226.44,343.75 238.70,350.00 241.05,352.50 243.60,353.75 245.77,352.50 248.60,355.00 253.31,357.50 259.91,360.00" fill="none" stroke="#46c846" stroke-width="1.15"/>
<rect x="167.50" y="324.40" width="97.60" height="78.90" fill="none" stroke="#111" stroke-width="1.0"/>
<line x1="167.50" y1="324.40" x2="167.50" y2="403.30" stroke="#111" stroke-width="1.4" />
<line x1="165.00" y1="359.60" x2="167.50" y2="359.60" stroke="#111" stroke-width="1.1" />
<text x="161.5" y="360.9" font-size="4.0" text-anchor="middle" font-weight="normal" font-style="normal" fill="#444" stroke="#444" stroke-width="0.1" >0.0</text>
<line x1="165.00" y1="355.64" x2="167.50" y2="355.64" stroke="#111" stroke-width="1.1" />
<text x="161.5" y="356.9375" font-size="4.0" text-anchor="middle" font-weight="normal" font-style="normal" fill="#444" stroke="#444" stroke-width="0.1" >0.1</text>
<line x1="165.00" y1="351.67" x2="167.50" y2="351.67" stroke="#111" stroke-width="1.1" />
<text x="161.5" y="352.97499999999997" font-size="4.0" text-anchor="middle" font-weight="normal" font-style="normal" fill="#444" stroke="#444" stroke-width="0.1" >0.2</text>
<line x1="165.00" y1="347.71" x2="167.50" y2="347.71" stroke="#111" stroke-width="1.1" />
<text x="161.5" y="349.0125" font-size="4.0" text-anchor="middle" font-weight="normal" font-style="normal" fill="#444" stroke="#444" stroke-width="0.1" >0.3</text>
<line x1="165.00" y1="343.75" x2="167.50" y2="343.75" stroke="#111" stroke-width="1.1" />
<text x="161.5" y="345.05" font-size="4.0" text-anchor="middle" font-weight="normal" font-style="normal" fill="#444" stroke="#444" stroke-width="0.1" >0.4</text>
<line x1="165.00" y1="339.79" x2="167.50" y2="339.79" stroke="#111" stroke-width="1.1" />
<text x="161.5" y="341.0875" font-size="4.0" text-anchor="middle" font-weight="normal" font-style="normal" fill="#444" stroke="#444" stroke-width="0.1" >0.5</text>
<line x1="165.00" y1="335.82" x2="167.50" y2="335.82" stroke="#111" stroke-width="1.1" />
<text x="161.5" y="337.125" font-size="4.0" text-anchor="middle" font-weight="normal" font-style="normal" fill="#444" stroke="#444" stroke-width="0.1" >0.6</text>
<line x1="165.00" y1="331.86" x2="167.50" y2="331.86" stroke="#111" stroke-width="1.1" />
<text x="161.5" y="333.16249999999997" font-size="4.0" text-anchor="middle" font-weight="normal" font-style="normal" fill="#444" stroke="#444" stroke-width="0.1" >0.7</text>
<line x1="165.00" y1="327.90" x2="167.50" y2="327.90" stroke="#111" stroke-width="1.1" />
<text x="161.5" y="329.2" font-size="4.0" text-anchor="middle" font-weight="normal" font-style="normal" fill="#444" stroke="#444" stroke-width="0.1" >0.8</text>
<line x1="165.00" y1="379.60" x2="167.50" y2="379.60" stroke="#111" stroke-width="1.1" />
<text x="161.5" y="380.9" font-size="4.0" text-anchor="middle" font-weight="normal" font-style="normal" fill="#444" stroke="#444" stroke-width="0.1" >0.8</text>
<line x1="165.00" y1="385.20" x2="167.50" y2="385.20" stroke="#111" stroke-width="1.1" />
<text x="161.5" y="386.5" font-size="4.0" text-anchor="middle" font-weight="normal" font-style="normal" fill="#444" stroke="#444" stroke-width="0.1" >0.4</text>
<line x1="165.00" y1="390.80" x2="167.50" y2="390.80" stroke="#111" stroke-width="1.1" />
<text x="161.5" y="392.09999999999997" font-size="4.0" text-anchor="middle" font-weight="normal" font-style="normal" fill="#444" stroke="#444" stroke-width="0.1" >0.0</text>
<line x1="165.00" y1="396.40" x2="167.50" y2="396.40" stroke="#111" stroke-width="1.1" />
<text x="161.5" y="397.7" font-size="4.0" text-anchor="middle" font-weight="normal" font-style="normal" fill="#444" stroke="#444" stroke-width="0.1" >-0.4</text>
<line x1="165.00" y1="402.00" x2="167.50" y2="402.00" stroke="#111" stroke-width="1.1" />
<text x="161.5" y="403.29999999999995" font-size="4.0" text-anchor="middle" font-weight="normal" font-style="normal" fill="#444" stroke="#444" stroke-width="0.1" >-0.8</text>
<line x1="167.50" y1="403.30" x2="167.50" y2="405.10" stroke="#111" stroke-width="0.8" />
<text x="167.5" y="410.3" font-size="4.0" text-anchor="middle" font-weight="normal" font-style="normal" fill="#444" stroke="#444" stroke-width="0.1" >0</text>
<line x1="185.13" y1="403.30" x2="185.13" y2="405.10" stroke="#111" stroke-width="0.8" />
<text x="185.1341" y="410.3" font-size="4.0" text-anchor="middle" font-weight="normal" font-style="normal" fill="#444" stroke="#444" stroke-width="0.1" >2,000</text>
<line x1="202.77" y1="403.30" x2="202.77" y2="405.10" stroke="#111" stroke-width="0.8" />
<text x="202.7682" y="410.3" font-size="4.0" text-anchor="middle" font-weight="normal" font-style="normal" fill="#444" stroke="#444" stroke-width="0.1" >4,000</text>
<line x1="220.40" y1="403.30" x2="220.40" y2="405.10" stroke="#111" stroke-width="0.8" />
<text x="220.4023" y="410.3" font-size="4.0" text-anchor="middle" font-weight="normal" font-style="normal" fill="#444" stroke="#444" stroke-width="0.1" >6,000</text>
<line x1="238.04" y1="403.30" x2="238.04" y2="405.10" stroke="#111" stroke-width="0.8" />
<text x="238.03640000000001" y="410.3" font-size="4.0" text-anchor="middle" font-weight="normal" font-style="normal" fill="#444" stroke="#444" stroke-width="0.1" >8,000</text>
<line x1="255.67" y1="403.30" x2="255.67" y2="405.10" stroke="#111" stroke-width="0.8" />
<text x="255.6705" y="410.3" font-size="4.0" text-anchor="middle" font-weight="normal" font-style="normal" fill="#444" stroke="#444" stroke-width="0.1" >10,000</text>
<text x="216.536" y="418.6" font-size="5.2" text-anchor="middle" font-weight="bold" font-style="normal" fill="#222" stroke="#222" stroke-width="0.15" textLength="35" lengthAdjust="spacingAndGlyphs" >Rank in ordered dataset</text>
<line x1="167.50" y1="427.80" x2="173.00" y2="427.80" stroke="#90d090" stroke-width="0.9" />
<text x="174.5" y="429.1" font-size="4.0" text-anchor="start" font-weight="normal" font-style="normal" fill="#333" textLength="20" lengthAdjust="spacingAndGlyphs" >Enrichment profile</text>
<line x1="203.50" y1="427.80" x2="209.00" y2="427.80" stroke="#222" stroke-width="0.9" />
<text x="210.5" y="429.1" font-size="4.0" text-anchor="start" font-weight="normal" font-style="normal" fill="#333" textLength="5" lengthAdjust="spacingAndGlyphs" >Hits</text>
<line x1="220.50" y1="427.80" x2="224.50" y2="427.80" stroke="#999" stroke-width="0.6" stroke-dasharray="0.8,0.8"/>
<text x="226.0" y="429.1" font-size="4.0" text-anchor="start" font-weight="normal" font-style="normal" fill="#333" textLength="36" lengthAdjust="spacingAndGlyphs" >Ranking metric scores</text>
<text x="177" y="347.0" font-size="6.8" text-anchor="start" font-weight="normal" font-style="normal" fill="#111" stroke="#111" stroke-width="0.2" textLength="26.5" lengthAdjust="spacingAndGlyphs" >NES=1.78</text>
<text x="177" y="353.1" font-size="6.8" text-anchor="start" font-weight="normal" font-style="normal" fill="#111" stroke="#111" stroke-width="0.2" textLength="21" lengthAdjust="spacingAndGlyphs" >p=0.005</text>
<text transform="translate(152.5,343.00) rotate(-90)" font-size="4.6" font-weight="bold" text-anchor="middle" fill="#222" stroke="#222" stroke-width="0.15" textLength="31" lengthAdjust="spacingAndGlyphs">Enrichment score (ES)</text>
<text transform="translate(144.6,390.70) rotate(-90)" font-size="4.6" font-weight="bold" text-anchor="middle" fill="#222" stroke="#222" stroke-width="0.15" textLength="23" lengthAdjust="spacingAndGlyphs">Ranked list metric</text>
<text transform="translate(150.6,390.70) rotate(-90)" font-size="4.6" font-weight="bold" text-anchor="middle" fill="#222" stroke="#222" stroke-width="0.15" textLength="20" lengthAdjust="spacingAndGlyphs">(Signal2Noise)</text>
<text x="300" y="150" font-size="11.6" text-anchor="start" font-weight="bold" font-style="normal" fill="#000" >D</text>
<text x="352.2" y="163.2" font-size="8.2" text-anchor="middle" font-weight="normal" font-style="normal" fill="#222" >ctrl</text>
<text x="411.5" y="163.2" font-size="8.2" text-anchor="middle" font-weight="normal" font-style="normal" fill="#222" textLength="26.5" lengthAdjust="spacingAndGlyphs" >NB-KD</text>
<text x="469.2" y="163.2" font-size="8.2" text-anchor="middle" font-weight="normal" font-style="normal" fill="#222" textLength="26.5" lengthAdjust="spacingAndGlyphs" >NE-KD</text>
<text x="316.5" y="201.5" font-size="8.2" text-anchor="middle" font-weight="normal" font-style="normal" fill="#222" >d0</text>
<text x="316.5" y="259.5" font-size="8.2" text-anchor="middle" font-weight="normal" font-style="normal" fill="#222" >d7</text>
<defs>
<radialGradient id="cm" cx="0.42" cy="0.4" r="0.62"><stop offset="0" stop-color="#a848d2"/><stop offset="0.65" stop-color="#9436c8"/><stop offset="1" stop-color="#7626b0"/></radialGradient>
<radialGradient id="cp" cx="0.42" cy="0.4" r="0.62"><stop offset="0" stop-color="#7a40cc"/><stop offset="0.7" stop-color="#6430bc"/><stop offset="1" stop-color="#4c24a4"/></radialGradient>
<radialGradient id="cd" cx="0.5" cy="0.58" r="0.6"><stop offset="0" stop-color="#d0b0e8"/><stop offset="0.4" stop-color="#7040bc"/><stop offset="1" stop-color="#4a249c"/></radialGradient>
<radialGradient id="cmg" cx="0.42" cy="0.4" r="0.62"><stop offset="0" stop-color="#b24ecb"/><stop offset="0.65" stop-color="#9e38c2"/><stop offset="1" stop-color="#8228aa"/></radialGradient>
<filter id="bl" x="-10%" y="-10%" width="120%" height="120%"><feGaussianBlur stdDeviation="0.45"/></filter>
<filter id="bl2" x="-10%" y="-10%" width="120%" height="120%"><feGaussianBlur stdDeviation="0.6"/></filter>
</defs>
<clipPath id="clipc0"><rect x="323.8" y="168.4" width="57.00" height="57.00"/></clipPath>
<rect x="323.80" y="168.40" width="57.00" height="57.00" fill="#f3f3f1" />
<g clip-path="url(#clipc0)"><g filter="url(#bl)">
<circle cx="330.8" cy="180.2" r="5.70" fill="#e4b2ea" opacity="0.7"/>
<circle cx="328.6" cy="187.5" r="6.10" fill="#e4b2ea" opacity="0.7"/>
<circle cx="341.7" cy="180.2" r="6.50" fill="#e4b2ea" opacity="0.7"/>
<circle cx="348.5" cy="176.6" r="6.40" fill="#e4b2ea" opacity="0.7"/>
<circle cx="343" cy="187" r="6.90" fill="#e4b2ea" opacity="0.7"/>
<circle cx="353.6" cy="182.5" r="5.60" fill="#e4b2ea" opacity="0.7"/>
<circle cx="333.8" cy="193.5" r="5.70" fill="#e4b2ea" opacity="0.7"/>
<circle cx="341.6" cy="214.5" r="6.90" fill="#e4b2ea" opacity="0.7"/>
<circle cx="354" cy="213.4" r="6.70" fill="#e4b2ea" opacity="0.7"/>
<circle cx="362.4" cy="209.5" r="7.40" fill="#e4b2ea" opacity="0.7"/>
<circle cx="343" cy="222.5" r="5.10" fill="#e4b2ea" opacity="0.7"/>
<circle cx="326" cy="222.6" r="5.10" fill="#e4b2ea" opacity="0.7"/>
<circle cx="370.8" cy="210" r="1.80" fill="#e4b2ea" opacity="0.7"/>
<circle cx="379.5" cy="178" r="3.40" fill="#e4b2ea" opacity="0.7"/>
<circle cx="337" cy="209" r="2.90" fill="#e4b2ea" opacity="0.7"/>
<circle cx="330.8" cy="180.2" r="4.8" fill="url(#cmg)"/>
<circle cx="328.6" cy="187.5" r="5.2" fill="url(#cmg)"/>
<circle cx="341.7" cy="180.2" r="5.6" fill="url(#cm)"/>
<circle cx="348.5" cy="176.6" r="5.5" fill="url(#cmg)"/>
<circle cx="343" cy="187" r="6" fill="url(#cm)"/>
<circle cx="353.6" cy="182.5" r="4.7" fill="url(#cmg)"/>
<circle cx="333.8" cy="193.5" r="4.8" fill="url(#cd)"/>
<circle cx="341.6" cy="214.5" r="6" fill="url(#cmg)"/>
<circle cx="354" cy="213.4" r="5.8" fill="url(#cmg)"/>
<circle cx="362.4" cy="209.5" r="6.5" fill="url(#cmg)"/>
<circle cx="343" cy="222.5" r="4.2" fill="url(#cm)"/>
<circle cx="326" cy="222.6" r="4.2" fill="url(#cm)"/>
<circle cx="370.8" cy="210" r="0.9" fill="url(#cp)"/>
<circle cx="379.5" cy="178" r="2.5" fill="url(#cm)"/>
<circle cx="337" cy="209" r="2" fill="url(#cmg)"/>
<ellipse cx="340.5" cy="179.5" rx="3.2" ry="2.6" fill="#6a2cc0" opacity="0.85"/>
<ellipse cx="344.5" cy="187.5" rx="3.5" ry="3.0" fill="#7430c4" opacity="0.85"/>
<ellipse cx="349" cy="176" rx="2.8" ry="2.4" fill="#7a34c8" opacity="0.85"/>
<ellipse cx="354" cy="183" rx="2.5" ry="2.2" fill="#8838c8" opacity="0.85"/>
<ellipse cx="331" cy="180" rx="2.4" ry="2.0" fill="#8a34bc" opacity="0.85"/>
<ellipse cx="340.5" cy="215" rx="3.2" ry="2.8" fill="#8a36c0" opacity="0.85"/>
<ellipse cx="353.5" cy="213.5" rx="3.2" ry="2.8" fill="#8438c4" opacity="0.85"/>
<ellipse cx="361.5" cy="209" rx="3.5" ry="3.0" fill="#8a3cc4" opacity="0.85"/>
<ellipse cx="333.8" cy="194" rx="1.8" ry="1.6" fill="#d8c0ec" opacity="0.85"/>
</g></g>
<clipPath id="clipn0"><rect x="383.4" y="168.4" width="55.60" height="57.00"/></clipPath>
<rect x="383.40" y="168.40" width="55.60" height="57.00" fill="#f1f4e2" />
<g clip-path="url(#clipn0)"><g filter="url(#bl)">
<circle cx="394" cy="184.8" r="5.70" fill="#e4b2ea" opacity="0.7"/>
<circle cx="389.5" cy="192.1" r="6.00" fill="#e4b2ea" opacity="0.7"/>
<circle cx="399" cy="193.4" r="6.30" fill="#e4b2ea" opacity="0.7"/>
<circle cx="407.8" cy="182.7" r="5.30" fill="#e4b2ea" opacity="0.7"/>
<circle cx="419.4" cy="185" r="5.00" fill="#e4b2ea" opacity="0.7"/>
<circle cx="424.3" cy="188.9" r="5.00" fill="#e4b2ea" opacity="0.7"/>
<circle cx="434.5" cy="183.7" r="6.10" fill="#e4b2ea" opacity="0.7"/>
<circle cx="406.2" cy="201.3" r="5.10" fill="#e4b2ea" opacity="0.7"/>
<circle cx="407.5" cy="211.3" r="4.80" fill="#e4b2ea" opacity="0.7"/>
<circle cx="415.5" cy="210.4" r="6.30" fill="#e4b2ea" opacity="0.7"/>
<circle cx="425.9" cy="211.8" r="7.00" fill="#e4b2ea" opacity="0.7"/>
<circle cx="419.8" cy="219.1" r="6.30" fill="#e4b2ea" opacity="0.7"/>
<circle cx="394" cy="184.8" r="4.8" fill="url(#cmg)"/>
<circle cx="389.5" cy="192.1" r="5.1" fill="url(#cmg)"/>
<circle cx="399" cy="193.4" r="5.4" fill="url(#cmg)"/>
<circle cx="407.8" cy="182.7" r="4.4" fill="url(#cp)"/>
<circle cx="419.4" cy="185" r="4.1" fill="url(#cp)"/>
<circle cx="424.3" cy="188.9" r="4.1" fill="url(#cp)"/>
<circle cx="434.5" cy="183.7" r="5.2" fill="url(#cmg)"/>
<circle cx="406.2" cy="201.3" r="4.2" fill="url(#cp)"/>
<circle cx="407.5" cy="211.3" r="3.9" fill="url(#cp)"/>
<circle cx="415.5" cy="210.4" r="5.4" fill="url(#cmg)"/>
<circle cx="425.9" cy="211.8" r="6.1" fill="url(#cmg)"/>
<circle cx="419.8" cy="219.1" r="5.4" fill="url(#cmg)"/>
<ellipse cx="392.5" cy="183.5" rx="2.4" ry="2.0" fill="#9030b8" opacity="0.85"/>
<ellipse cx="399.5" cy="194" rx="2.8" ry="2.4" fill="#8c2cb8" opacity="0.85"/>
<ellipse cx="426" cy="212.5" rx="3.2" ry="2.8" fill="#8c2cb8" opacity="0.85"/>
</g></g>
<clipPath id="clipe0"><rect x="441.2" y="168.4" width="56.20" height="57.00"/></clipPath>
<rect x="441.20" y="168.40" width="56.20" height="57.00" fill="#e5e5ea" />
<g clip-path="url(#clipe0)"><g filter="url(#bl)">
<circle cx="447.3" cy="188.3" r="5.60" fill="#e4b2ea" opacity="0.7"/>
<circle cx="458.5" cy="203.2" r="6.50" fill="#e4b2ea" opacity="0.7"/>
<circle cx="492.4" cy="184.3" r="5.30" fill="#e4b2ea" opacity="0.7"/>
<circle cx="482.6" cy="196.7" r="5.30" fill="#e4b2ea" opacity="0.7"/>
<circle cx="490.3" cy="195" r="5.00" fill="#e4b2ea" opacity="0.7"/>
<circle cx="490" cy="205" r="5.00" fill="#e4b2ea" opacity="0.7"/>
<circle cx="476.3" cy="206.6" r="5.50" fill="#e4b2ea" opacity="0.7"/>
<circle cx="481" cy="212.9" r="5.50" fill="#e4b2ea" opacity="0.7"/>
<circle cx="492.4" cy="214.6" r="5.20" fill="#e4b2ea" opacity="0.7"/>
<circle cx="497" cy="209" r="3.50" fill="#e4b2ea" opacity="0.7"/>
<circle cx="447.3" cy="188.3" r="4.7" fill="url(#cm)"/>
<circle cx="458.5" cy="203.2" r="5.6" fill="url(#cm)"/>
<circle cx="492.4" cy="184.3" r="4.4" fill="url(#cm)"/>
<circle cx="482.6" cy="196.7" r="4.4" fill="url(#cp)"/>
<circle cx="490.3" cy="195" r="4.1" fill="url(#cm)"/>
<circle cx="490" cy="205" r="4.1" fill="url(#cm)"/>
<circle cx="476.3" cy="206.6" r="4.6" fill="url(#cp)"/>
<circle cx="481" cy="212.9" r="4.6" fill="url(#cp)"/>
<circle cx="492.4" cy="214.6" r="4.3" fill="url(#cp)"/>
<circle cx="497" cy="209" r="2.6" fill="url(#cp)"/>
<ellipse cx="458.5" cy="203" rx="3.0" ry="2.8" fill="#8028c0" opacity="0.85"/>
</g></g>
<clipPath id="clipc7"><rect x="323.8" y="227.3" width="57.00" height="56.70"/></clipPath>
<rect x="323.80" y="227.30" width="57.00" height="56.70" fill="#fdfdfd" />
<g clip-path="url(#clipc7)"><g filter="url(#bl)">
<circle cx="358.6" cy="243.5" r="5.20" fill="#eedaf6"/>
<circle cx="358.6" cy="243.5" r="4.6" fill="#c48ae6"/>
<ellipse cx="358.3" cy="242.35" rx="3.68" ry="2.53" fill="#9c50dc"/>
<ellipse cx="359.40000000000003" cy="245.11" rx="2.30" ry="1.61" fill="#e4bcf4"/>
<circle cx="344.2" cy="250.5" r="5.60" fill="#eedaf6"/>
<circle cx="344.2" cy="250.5" r="5.0" fill="#c48ae6"/>
<ellipse cx="343.9" cy="249.25" rx="4.00" ry="2.75" fill="#9c50dc"/>
<ellipse cx="345.0" cy="252.25" rx="2.50" ry="1.75" fill="#e4bcf4"/>
<circle cx="369.4" cy="254.3" r="4.20" fill="#eedaf6"/>
<circle cx="369.4" cy="254.3" r="3.6" fill="#c48ae6"/>
<ellipse cx="369.09999999999997" cy="253.40" rx="2.88" ry="1.98" fill="#9c50dc"/>
<ellipse cx="370.2" cy="255.56" rx="1.80" ry="1.26" fill="#e4bcf4"/>
<circle cx="366.1" cy="263.6" r="4.70" fill="#eedaf6"/>
<circle cx="366.1" cy="263.6" r="4.1" fill="#c48ae6"/>
<ellipse cx="365.8" cy="262.58" rx="3.28" ry="2.25" fill="#9c50dc"/>
<ellipse cx="366.90000000000003" cy="265.04" rx="2.05" ry="1.43" fill="#e4bcf4"/>
<circle cx="340.5" cy="266.2" r="4.40" fill="#eedaf6"/>
<circle cx="340.5" cy="266.2" r="3.8" fill="#c48ae6"/>
<ellipse cx="340.2" cy="265.25" rx="3.04" ry="2.09" fill="#9c50dc"/>
<ellipse cx="341.3" cy="267.53" rx="1.90" ry="1.33" fill="#e4bcf4"/>
<circle cx="334" cy="270.7" r="5.20" fill="#eedaf6"/>
<circle cx="334" cy="270.7" r="4.6" fill="#c48ae6"/>
<ellipse cx="333.7" cy="269.55" rx="3.68" ry="2.53" fill="#9c50dc"/>
<ellipse cx="334.8" cy="272.31" rx="2.30" ry="1.61" fill="#e4bcf4"/>
<circle cx="342" cy="274" r="4.20" fill="#eedaf6"/>
<circle cx="342" cy="274" r="3.6" fill="#c48ae6"/>
<ellipse cx="341.7" cy="273.10" rx="2.88" ry="1.98" fill="#9c50dc"/>
<ellipse cx="342.8" cy="275.26" rx="1.80" ry="1.26" fill="#e4bcf4"/>
<circle cx="367.6" cy="276.2" r="4.10" fill="#eedaf6"/>
<circle cx="367.6" cy="276.2" r="3.5" fill="#c48ae6"/>
<ellipse cx="367.3" cy="275.32" rx="2.80" ry="1.93" fill="#9c50dc"/>
<ellipse cx="368.40000000000003" cy="277.43" rx="1.75" ry="1.22" fill="#e4bcf4"/>
</g></g>
<clipPath id="clipn7"><rect x="383.4" y="227.3" width="55.60" height="56.70"/></clipPath>
<rect x="383.40" y="227.30" width="55.60" height="56.70" fill="#fdfdfd" />
<g clip-path="url(#clipn7)"><g filter="url(#bl)">
<circle cx="405.5" cy="238.5" r="5.5" fill="#d8b2f0" stroke="#b888e0" stroke-width="0.6"/>
<circle cx="398" cy="251.5" r="4.0" fill="#d8b2f0" stroke="#b888e0" stroke-width="0.6"/>
<circle cx="401.5" cy="248" r="3.0" fill="#d8b2f0" stroke="#b888e0" stroke-width="0.6"/>
<circle cx="395" cy="256" r="2.0" fill="#d8b2f0" stroke="#b888e0" stroke-width="0.6"/>
<circle cx="420.5" cy="247" r="4.8" fill="#d8b2f0" stroke="#b888e0" stroke-width="0.6"/>
<circle cx="420.5" cy="254.5" r="4.8" fill="#d8b2f0" stroke="#b888e0" stroke-width="0.6"/>
<circle cx="421.5" cy="263" r="5.5" fill="#d8b2f0" stroke="#b888e0" stroke-width="0.6"/>
<circle cx="421.5" cy="272.5" r="6" fill="#d8b2f0" stroke="#b888e0" stroke-width="0.6"/>
<circle cx="397" cy="272.5" r="7" fill="#d8b2f0" stroke="#b888e0" stroke-width="0.6"/>
<ellipse cx="403.5" cy="236.5" rx="3.15" ry="2.29" fill="#8c44d0"/>
<ellipse cx="407.5" cy="240.5" rx="2.15" ry="3.15" fill="#8c44d0"/>
<ellipse cx="404" cy="241" rx="1.72" ry="1.29" fill="#8c44d0"/>
<ellipse cx="397" cy="250" rx="2.29" ry="1.86" fill="#8c44d0"/>
<ellipse cx="399.5" cy="252.5" rx="1.72" ry="2.15" fill="#8c44d0"/>
<ellipse cx="401" cy="247" rx="1.86" ry="1.72" fill="#8c44d0"/>
<ellipse cx="395" cy="256.5" rx="1.43" ry="1.14" fill="#8c44d0"/>
<ellipse cx="421.5" cy="246" rx="2.86" ry="2.29" fill="#8c44d0"/>
<ellipse cx="419" cy="248" rx="1.72" ry="1.72" fill="#8c44d0"/>
<ellipse cx="420" cy="255" rx="2.57" ry="1.72" fill="#8c44d0"/>
<ellipse cx="423" cy="253" rx="1.57" ry="1.86" fill="#8c44d0"/>
<ellipse cx="420" cy="262.5" rx="2.29" ry="2.57" fill="#8c44d0"/>
<ellipse cx="423.5" cy="264" rx="2.29" ry="2.15" fill="#8c44d0"/>
<ellipse cx="419" cy="266" rx="1.57" ry="1.29" fill="#8c44d0"/>
<ellipse cx="419.5" cy="272.5" rx="2.29" ry="3.15" fill="#8c44d0"/>
<ellipse cx="424" cy="273" rx="2.57" ry="2.57" fill="#8c44d0"/>
<ellipse cx="421" cy="276" rx="1.72" ry="1.43" fill="#8c44d0"/>
<ellipse cx="394.5" cy="272" rx="2.86" ry="2.15" fill="#8c44d0"/>
<ellipse cx="398.5" cy="274.5" rx="3.15" ry="2.43" fill="#8c44d0"/>
<ellipse cx="396" cy="268" rx="1.86" ry="1.43" fill="#8c44d0"/>
<ellipse cx="400" cy="270" rx="1.43" ry="1.43" fill="#8c44d0"/>
</g></g>
<clipPath id="clipe7"><rect x="441.2" y="227.3" width="56.20" height="56.70"/></clipPath>
<rect x="441.20" y="227.30" width="56.20" height="56.70" fill="#fdfdfd" />
<g clip-path="url(#clipe7)"><g filter="url(#bl)">
<circle cx="454.6" cy="254.5" r="5.3" fill="#f2c2ee"/>
<circle cx="445.5" cy="266.5" r="3.5" fill="#f2c2ee"/>
<circle cx="457.3" cy="264.8" r="3.0" fill="#f2c2ee"/>
<circle cx="458" cy="272" r="5" fill="#f2c2ee"/>
<circle cx="476" cy="270.5" r="4.0" fill="#f2c2ee"/>
<circle cx="480.5" cy="273.5" r="3.5" fill="#f2c2ee"/>
<circle cx="479" cy="277.5" r="3.0" fill="#f2c2ee"/>
<circle cx="489" cy="269.2" r="5.0" fill="#f2c2ee"/>
<circle cx="489" cy="276.2" r="3.5" fill="#f2c2ee"/>
<circle cx="443.5" cy="230.5" r="3.0" fill="#f2c2ee"/>
<ellipse cx="454" cy="256" rx="3.89" ry="2.69" fill="#a4249e"/>
<ellipse cx="445" cy="262" rx="1.94" ry="1.79" fill="#a4249e"/>
<ellipse cx="446" cy="266.5" rx="2.09" ry="2.09" fill="#a4249e"/>
<ellipse cx="444.5" cy="271" rx="1.94" ry="1.49" fill="#a4249e"/>
<ellipse cx="455.5" cy="264" rx="1.79" ry="1.49" fill="#a4249e"/>
<ellipse cx="459" cy="265.5" rx="1.94" ry="1.49" fill="#a4249e"/>
<ellipse cx="452.6" cy="272" rx="1.79" ry="2.24" fill="#a4249e"/>
<ellipse cx="456.2" cy="272.6" rx="1.94" ry="2.24" fill="#a4249e"/>
<ellipse cx="459.8" cy="272.3" rx="1.94" ry="2.24" fill="#a4249e"/>
<ellipse cx="463.5" cy="271.8" rx="1.79" ry="2.24" fill="#a4249e"/>
<ellipse cx="476" cy="270.5" rx="3.29" ry="2.54" fill="#a4249e"/>
<ellipse cx="481" cy="272.7" rx="2.99" ry="2.09" fill="#a4249e"/>
<ellipse cx="479" cy="277.5" rx="2.24" ry="2.69" fill="#a4249e"/>
<ellipse cx="489.5" cy="268.5" rx="3.89" ry="3.29" fill="#a4249e"/>
<ellipse cx="487.5" cy="276" rx="2.24" ry="1.94" fill="#a4249e"/>
<ellipse cx="490.5" cy="276.8" rx="1.94" ry="1.79" fill="#a4249e"/>
<ellipse cx="442.8" cy="229.5" rx="2.09" ry="1.49" fill="#a4249e"/>
<ellipse cx="445" cy="231.5" rx="1.79" ry="1.35" fill="#a4249e"/>
</g></g>
<rect x="323.8" y="168.4" width="57.00" height="57.00" fill="none" stroke="#1a1a1a" stroke-width="1.3"/>
<rect x="383.4" y="168.4" width="55.60" height="57.00" fill="none" stroke="#1a1a1a" stroke-width="1.3"/>
<rect x="441.2" y="168.4" width="56.20" height="57.00" fill="none" stroke="#1a1a1a" stroke-width="1.3"/>
<rect x="323.8" y="227.3" width="57.00" height="56.70" fill="none" stroke="#1a1a1a" stroke-width="1.3"/>
<rect x="383.4" y="227.3" width="55.60" height="56.70" fill="none" stroke="#1a1a1a" stroke-width="1.3"/>
<rect x="441.2" y="227.3" width="56.20" height="56.70" fill="none" stroke="#1a1a1a" stroke-width="1.3"/>
<rect x="345.00" y="310.91" width="8.50" height="67.59" fill="#bf0a2e" />
<rect x="345.00" y="303.40" width="8.50" height="7.51" fill="#245a9c" />
<rect x="357.20" y="363.48" width="8.50" height="15.02" fill="#bf0a2e" />
<rect x="357.20" y="325.93" width="8.50" height="37.55" fill="#245a9c" />
<rect x="357.20" y="303.40" width="8.50" height="22.53" fill="#6cb642" />
<rect x="368.60" y="361.98" width="8.50" height="16.52" fill="#bf0a2e" />
<rect x="368.60" y="333.44" width="8.50" height="28.54" fill="#245a9c" />
<rect x="368.60" y="307.15" width="8.50" height="26.29" fill="#6cb642" />
<rect x="368.60" y="303.40" width="8.50" height="3.75" fill="#4c1b6c" />
<rect x="392.00" y="374.75" width="8.50" height="3.75" fill="#6cb642" />
<rect x="392.00" y="318.42" width="8.50" height="56.33" fill="#4c1b6c" />
<rect x="392.00" y="303.40" width="8.50" height="15.02" fill="#e8981c" />
<rect x="403.40" y="367.24" width="8.50" height="11.26" fill="#4c1b6c" />
<rect x="403.40" y="325.93" width="8.50" height="41.31" fill="#e8981c" />
<rect x="403.40" y="303.40" width="8.50" height="22.53" fill="#2e6a58" />
<rect x="415.30" y="355.97" width="8.50" height="22.53" fill="#4c1b6c" />
<rect x="415.30" y="325.93" width="8.50" height="30.04" fill="#e8981c" />
<rect x="415.30" y="303.40" width="8.50" height="22.53" fill="#2e6a58" />
<line x1="332.20" y1="302.50" x2="332.20" y2="398.50" stroke="#111" stroke-width="1.1" />
<line x1="332.20" y1="378.60" x2="437.60" y2="378.60" stroke="#111" stroke-width="1.1" />
<line x1="378.70" y1="378.60" x2="378.70" y2="398.50" stroke="#111" stroke-width="1.1" />
<line x1="425.60" y1="378.60" x2="425.60" y2="398.50" stroke="#111" stroke-width="1.1" />
<line x1="437.60" y1="378.60" x2="437.60" y2="398.50" stroke="#111" stroke-width="1.1" />
<line x1="327.40" y1="378.50" x2="332.20" y2="378.50" stroke="#111" stroke-width="1.1" />
<text x="326.4" y="380.1" font-size="4.8" text-anchor="end" font-weight="normal" font-style="normal" fill="#1a1a1a" stroke="#1a1a1a" stroke-width="0.15" textLength="8" lengthAdjust="spacingAndGlyphs" >0%</text>
<line x1="327.40" y1="370.99" x2="332.20" y2="370.99" stroke="#111" stroke-width="1.1" />
<text x="326.4" y="372.59000000000003" font-size="4.8" text-anchor="end" font-weight="normal" font-style="normal" fill="#1a1a1a" stroke="#1a1a1a" stroke-width="0.15" textLength="11.4" lengthAdjust="spacingAndGlyphs" >10%</text>
<line x1="327.40" y1="363.48" x2="332.20" y2="363.48" stroke="#111" stroke-width="1.1" />
<text x="326.4" y="365.08000000000004" font-size="4.8" text-anchor="end" font-weight="normal" font-style="normal" fill="#1a1a1a" stroke="#1a1a1a" stroke-width="0.15" textLength="11.4" lengthAdjust="spacingAndGlyphs" >20%</text>
<line x1="327.40" y1="355.97" x2="332.20" y2="355.97" stroke="#111" stroke-width="1.1" />
<text x="326.4" y="357.57" font-size="4.8" text-anchor="end" font-weight="normal" font-style="normal" fill="#1a1a1a" stroke="#1a1a1a" stroke-width="0.15" textLength="11.4" lengthAdjust="spacingAndGlyphs" >30%</text>
<line x1="327.40" y1="348.46" x2="332.20" y2="348.46" stroke="#111" stroke-width="1.1" />
<text x="326.4" y="350.06" font-size="4.8" text-anchor="end" font-weight="normal" font-style="normal" fill="#1a1a1a" stroke="#1a1a1a" stroke-width="0.15" textLength="11.4" lengthAdjust="spacingAndGlyphs" >40%</text>
<line x1="327.40" y1="340.95" x2="332.20" y2="340.95" stroke="#111" stroke-width="1.1" />
<text x="326.4" y="342.55" font-size="4.8" text-anchor="end" font-weight="normal" font-style="normal" fill="#1a1a1a" stroke="#1a1a1a" stroke-width="0.15" textLength="11.4" lengthAdjust="spacingAndGlyphs" >50%</text>
<line x1="327.40" y1="333.44" x2="332.20" y2="333.44" stroke="#111" stroke-width="1.1" />
<text x="326.4" y="335.04" font-size="4.8" text-anchor="end" font-weight="normal" font-style="normal" fill="#1a1a1a" stroke="#1a1a1a" stroke-width="0.15" textLength="11.4" lengthAdjust="spacingAndGlyphs" >60%</text>
<line x1="327.40" y1="325.93" x2="332.20" y2="325.93" stroke="#111" stroke-width="1.1" />
<text x="326.4" y="327.53" font-size="4.8" text-anchor="end" font-weight="normal" font-style="normal" fill="#1a1a1a" stroke="#1a1a1a" stroke-width="0.15" textLength="11.4" lengthAdjust="spacingAndGlyphs" >70%</text>
<line x1="327.40" y1="318.42" x2="332.20" y2="318.42" stroke="#111" stroke-width="1.1" />
<text x="326.4" y="320.02" font-size="4.8" text-anchor="end" font-weight="normal" font-style="normal" fill="#1a1a1a" stroke="#1a1a1a" stroke-width="0.15" textLength="11.4" lengthAdjust="spacingAndGlyphs" >80%</text>
<line x1="327.40" y1="310.91" x2="332.20" y2="310.91" stroke="#111" stroke-width="1.1" />
<text x="326.4" y="312.51" font-size="4.8" text-anchor="end" font-weight="normal" font-style="normal" fill="#1a1a1a" stroke="#1a1a1a" stroke-width="0.15" textLength="11.4" lengthAdjust="spacingAndGlyphs" >90%</text>
<line x1="327.40" y1="303.40" x2="332.20" y2="303.40" stroke="#111" stroke-width="1.1" />
<text x="326.4" y="305.0" font-size="4.8" text-anchor="end" font-weight="normal" font-style="normal" fill="#1a1a1a" stroke="#1a1a1a" stroke-width="0.15" textLength="13.9" lengthAdjust="spacingAndGlyphs" >100%</text>
<text x="349.3" y="386" font-size="5.8" text-anchor="middle" font-weight="normal" font-style="normal" fill="#222" textLength="8" lengthAdjust="spacingAndGlyphs" >ctrl</text>
<text x="361.4" y="385.5" font-size="5.8" text-anchor="middle" font-weight="normal" font-style="normal" fill="#222" textLength="8.2" lengthAdjust="spacingAndGlyphs" >NB-</text>
<text x="361.4" y="391.8" font-size="5.8" text-anchor="middle" font-weight="normal" font-style="normal" fill="#222" textLength="7.5" lengthAdjust="spacingAndGlyphs" >KD</text>
<text x="372.8" y="384" font-size="5.8" text-anchor="middle" font-weight="normal" font-style="normal" fill="#222" textLength="8.2" lengthAdjust="spacingAndGlyphs" >NE-</text>
<text x="372.8" y="390.3" font-size="5.8" text-anchor="middle" font-weight="normal" font-style="normal" fill="#222" textLength="7.5" lengthAdjust="spacingAndGlyphs" >KD</text>
<text x="396.2" y="386" font-size="5.8" text-anchor="middle" font-weight="normal" font-style="normal" fill="#222" textLength="8" lengthAdjust="spacingAndGlyphs" >ctrl</text>
<text x="407.6" y="385.5" font-size="5.8" text-anchor="middle" font-weight="normal" font-style="normal" fill="#222" textLength="8.2" lengthAdjust="spacingAndGlyphs" >NB-</text>
<text x="407.6" y="391.8" font-size="5.8" text-anchor="middle" font-weight="normal" font-style="normal" fill="#222" textLength="7.5" lengthAdjust="spacingAndGlyphs" >KD</text>
<text x="419.5" y="384" font-size="5.8" text-anchor="middle" font-weight="normal" font-style="normal" fill="#222" textLength="8.2" lengthAdjust="spacingAndGlyphs" >NE-</text>
<text x="419.5" y="390.3" font-size="5.8" text-anchor="middle" font-weight="normal" font-style="normal" fill="#222" textLength="7.5" lengthAdjust="spacingAndGlyphs" >KD</text>
<text x="355.5" y="402.8" font-size="7" text-anchor="middle" font-weight="normal" font-style="normal" fill="#222" textLength="6.5" lengthAdjust="spacingAndGlyphs" >d0</text>
<text x="402" y="402.8" font-size="7" text-anchor="middle" font-weight="normal" font-style="normal" fill="#222" textLength="6" lengthAdjust="spacingAndGlyphs" >d7</text>
<rect x="432.40" y="315.30" width="2.30" height="2.30" fill="#2e6a58" />
<text x="438.4" y="318.4" font-size="5.8" text-anchor="start" font-weight="normal" font-style="normal" fill="#1a1a1a" stroke="#1a1a1a" stroke-width="0.2" textLength="24" lengthAdjust="spacingAndGlyphs" >segmented</text>
<rect x="432.40" y="324.55" width="2.30" height="2.30" fill="#e8981c" />
<text x="438.4" y="327.65" font-size="5.8" text-anchor="start" font-weight="normal" font-style="normal" fill="#1a1a1a" stroke="#1a1a1a" stroke-width="0.2" textLength="17" lengthAdjust="spacingAndGlyphs" >banded</text>
<rect x="432.40" y="333.80" width="2.30" height="2.30" fill="#4c1b6c" />
<text x="438.4" y="336.9" font-size="5.8" text-anchor="start" font-weight="normal" font-style="normal" fill="#1a1a1a" stroke="#1a1a1a" stroke-width="0.2" textLength="35" lengthAdjust="spacingAndGlyphs" >metamyelocyte</text>
<rect x="432.40" y="343.05" width="2.30" height="2.30" fill="#6cb642" />
<text x="438.4" y="346.15" font-size="5.8" text-anchor="start" font-weight="normal" font-style="normal" fill="#1a1a1a" stroke="#1a1a1a" stroke-width="0.2" textLength="23.5" lengthAdjust="spacingAndGlyphs" >myelocyte</text>
<rect x="432.40" y="352.30" width="2.30" height="2.30" fill="#245a9c" />
<text x="438.4" y="355.4" font-size="5.8" text-anchor="start" font-weight="normal" font-style="normal" fill="#1a1a1a" stroke="#1a1a1a" stroke-width="0.2" textLength="31.5" lengthAdjust="spacingAndGlyphs" >promyelocyte</text>
<rect x="432.40" y="361.55" width="2.30" height="2.30" fill="#bf0a2e" />
<text x="438.4" y="364.65" font-size="5.8" text-anchor="start" font-weight="normal" font-style="normal" fill="#1a1a1a" stroke="#1a1a1a" stroke-width="0.2" textLength="25" lengthAdjust="spacingAndGlyphs" >myeloblast</text>
<rect x="0.5" y="0.5" width="519" height="437" fill="none" stroke="#000" stroke-width="1"/>
<rect x="1.5" y="1.5" width="517" height="435" fill="none" stroke="#888" stroke-width="1"/>
</svg>
</body></html>
